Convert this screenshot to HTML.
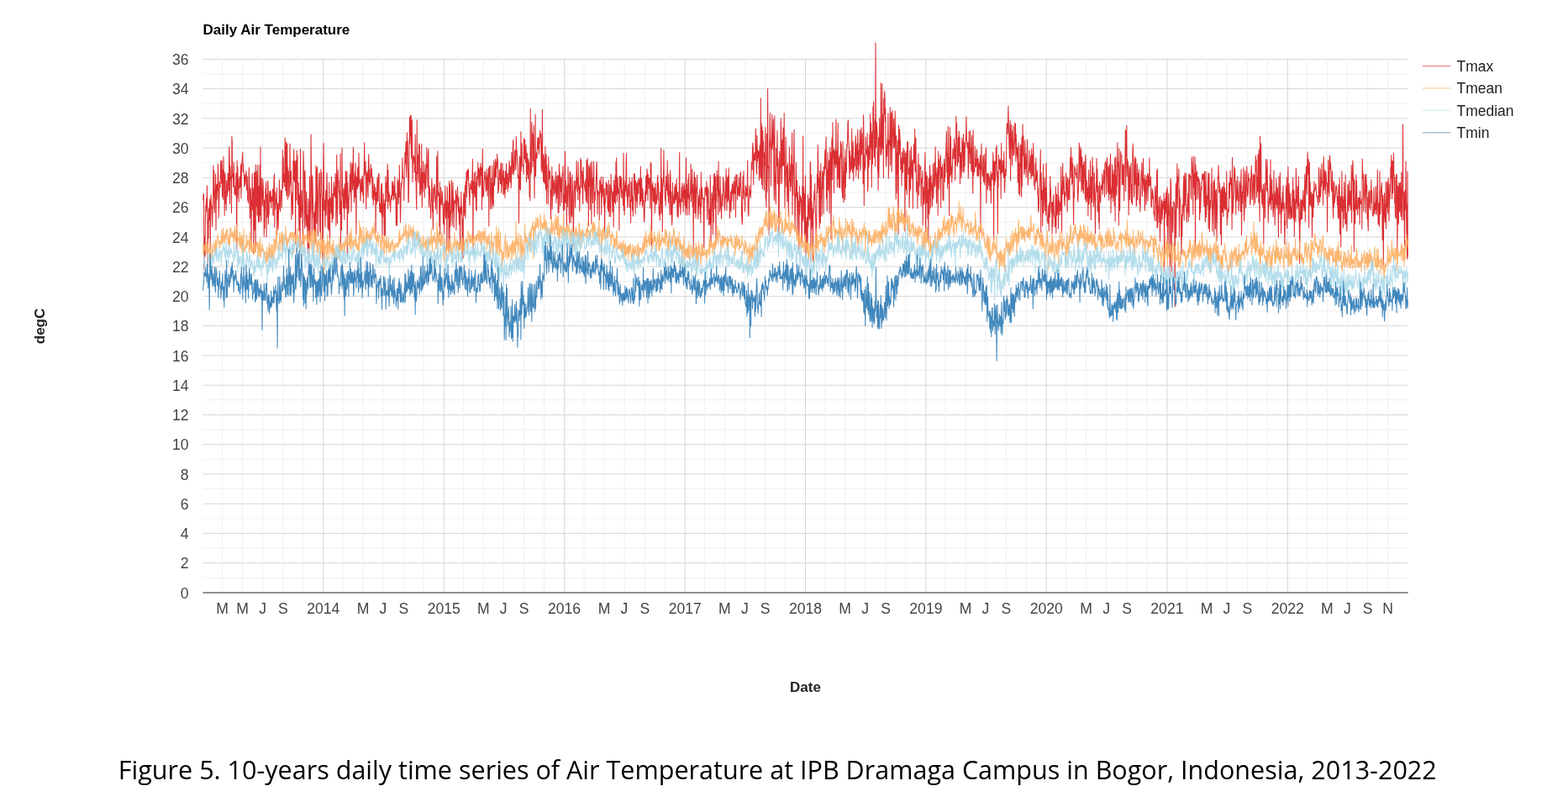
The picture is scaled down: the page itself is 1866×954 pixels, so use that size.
<!DOCTYPE html>
<html><head><meta charset="utf-8"><title>Daily Air Temperature</title>
<style>
html,body{margin:0;padding:0;background:#fff;}
body{width:1866px;height:954px;overflow:hidden;position:relative;}
svg{position:absolute;left:0;top:0;}
.ax{font-family:"Liberation Sans",Arial,sans-serif;font-size:17.6px;fill:#444;}
.tt{font-family:"Liberation Sans",Arial,sans-serif;font-size:17px;font-weight:bold;fill:#000;}
.at{font-family:"Liberation Sans",Arial,sans-serif;font-size:17px;font-weight:bold;fill:#222;}
.lg{font-family:"Liberation Sans",Arial,sans-serif;font-size:17.5px;fill:#222;}
.cap{font-family:"Open Sans","Liberation Sans",Arial,sans-serif;font-size:30.6px;fill:#000;}
</style></head>
<body>
<svg width="1866" height="954" viewBox="0 0 1866 954">
<defs><filter id="bl" x="-2%" y="-2%" width="104%" height="104%"><feGaussianBlur stdDeviation="0.55"/></filter></defs>
<rect x="0" y="0" width="1866" height="954" fill="#fff"/>
<g filter="url(#bl)">
<g>
<line x1="241.5" x2="1675.6" y1="687.37" y2="687.37" stroke="#f0f0f0" stroke-width="1"/>
<line x1="241.5" x2="1675.6" y1="669.74" y2="669.74" stroke="#d6d6d6" stroke-width="1"/>
<line x1="241.5" x2="1675.6" y1="652.11" y2="652.11" stroke="#f0f0f0" stroke-width="1"/>
<line x1="241.5" x2="1675.6" y1="634.48" y2="634.48" stroke="#d6d6d6" stroke-width="1"/>
<line x1="241.5" x2="1675.6" y1="616.85" y2="616.85" stroke="#f0f0f0" stroke-width="1"/>
<line x1="241.5" x2="1675.6" y1="599.22" y2="599.22" stroke="#d6d6d6" stroke-width="1"/>
<line x1="241.5" x2="1675.6" y1="581.59" y2="581.59" stroke="#f0f0f0" stroke-width="1"/>
<line x1="241.5" x2="1675.6" y1="563.96" y2="563.96" stroke="#d6d6d6" stroke-width="1"/>
<line x1="241.5" x2="1675.6" y1="546.33" y2="546.33" stroke="#f0f0f0" stroke-width="1"/>
<line x1="241.5" x2="1675.6" y1="528.70" y2="528.70" stroke="#d6d6d6" stroke-width="1"/>
<line x1="241.5" x2="1675.6" y1="511.07" y2="511.07" stroke="#f0f0f0" stroke-width="1"/>
<line x1="241.5" x2="1675.6" y1="493.44" y2="493.44" stroke="#d6d6d6" stroke-width="1"/>
<line x1="241.5" x2="1675.6" y1="475.81" y2="475.81" stroke="#f0f0f0" stroke-width="1"/>
<line x1="241.5" x2="1675.6" y1="458.18" y2="458.18" stroke="#d6d6d6" stroke-width="1"/>
<line x1="241.5" x2="1675.6" y1="440.55" y2="440.55" stroke="#f0f0f0" stroke-width="1"/>
<line x1="241.5" x2="1675.6" y1="422.92" y2="422.92" stroke="#d6d6d6" stroke-width="1"/>
<line x1="241.5" x2="1675.6" y1="405.29" y2="405.29" stroke="#f0f0f0" stroke-width="1"/>
<line x1="241.5" x2="1675.6" y1="387.66" y2="387.66" stroke="#d6d6d6" stroke-width="1"/>
<line x1="241.5" x2="1675.6" y1="370.03" y2="370.03" stroke="#f0f0f0" stroke-width="1"/>
<line x1="241.5" x2="1675.6" y1="352.40" y2="352.40" stroke="#d6d6d6" stroke-width="1"/>
<line x1="241.5" x2="1675.6" y1="334.77" y2="334.77" stroke="#f0f0f0" stroke-width="1"/>
<line x1="241.5" x2="1675.6" y1="317.14" y2="317.14" stroke="#d6d6d6" stroke-width="1"/>
<line x1="241.5" x2="1675.6" y1="299.51" y2="299.51" stroke="#f0f0f0" stroke-width="1"/>
<line x1="241.5" x2="1675.6" y1="281.88" y2="281.88" stroke="#d6d6d6" stroke-width="1"/>
<line x1="241.5" x2="1675.6" y1="264.25" y2="264.25" stroke="#f0f0f0" stroke-width="1"/>
<line x1="241.5" x2="1675.6" y1="246.62" y2="246.62" stroke="#d6d6d6" stroke-width="1"/>
<line x1="241.5" x2="1675.6" y1="228.99" y2="228.99" stroke="#f0f0f0" stroke-width="1"/>
<line x1="241.5" x2="1675.6" y1="211.36" y2="211.36" stroke="#d6d6d6" stroke-width="1"/>
<line x1="241.5" x2="1675.6" y1="193.73" y2="193.73" stroke="#f0f0f0" stroke-width="1"/>
<line x1="241.5" x2="1675.6" y1="176.10" y2="176.10" stroke="#d6d6d6" stroke-width="1"/>
<line x1="241.5" x2="1675.6" y1="158.47" y2="158.47" stroke="#f0f0f0" stroke-width="1"/>
<line x1="241.5" x2="1675.6" y1="140.84" y2="140.84" stroke="#d6d6d6" stroke-width="1"/>
<line x1="241.5" x2="1675.6" y1="123.21" y2="123.21" stroke="#f0f0f0" stroke-width="1"/>
<line x1="241.5" x2="1675.6" y1="105.58" y2="105.58" stroke="#d6d6d6" stroke-width="1"/>
<line x1="241.5" x2="1675.6" y1="87.95" y2="87.95" stroke="#f0f0f0" stroke-width="1"/>
<line x1="241.5" x2="1675.6" y1="70.32" y2="70.32" stroke="#d6d6d6" stroke-width="1"/>
<line x1="264.67" x2="264.67" y1="70.3" y2="705.0" stroke="#f0f0f0" stroke-width="1"/>
<line x1="288.62" x2="288.62" y1="70.3" y2="705.0" stroke="#f0f0f0" stroke-width="1"/>
<line x1="312.58" x2="312.58" y1="70.3" y2="705.0" stroke="#f0f0f0" stroke-width="1"/>
<line x1="336.92" x2="336.92" y1="70.3" y2="705.0" stroke="#f0f0f0" stroke-width="1"/>
<line x1="360.88" x2="360.88" y1="70.3" y2="705.0" stroke="#f0f0f0" stroke-width="1"/>
<line x1="384.83" x2="384.83" y1="70.3" y2="705.0" stroke="#d6d6d6" stroke-width="1"/>
<line x1="408.00" x2="408.00" y1="70.3" y2="705.0" stroke="#f0f0f0" stroke-width="1"/>
<line x1="431.95" x2="431.95" y1="70.3" y2="705.0" stroke="#f0f0f0" stroke-width="1"/>
<line x1="455.91" x2="455.91" y1="70.3" y2="705.0" stroke="#f0f0f0" stroke-width="1"/>
<line x1="480.25" x2="480.25" y1="70.3" y2="705.0" stroke="#f0f0f0" stroke-width="1"/>
<line x1="504.21" x2="504.21" y1="70.3" y2="705.0" stroke="#f0f0f0" stroke-width="1"/>
<line x1="528.16" x2="528.16" y1="70.3" y2="705.0" stroke="#d6d6d6" stroke-width="1"/>
<line x1="551.33" x2="551.33" y1="70.3" y2="705.0" stroke="#f0f0f0" stroke-width="1"/>
<line x1="575.29" x2="575.29" y1="70.3" y2="705.0" stroke="#f0f0f0" stroke-width="1"/>
<line x1="599.24" x2="599.24" y1="70.3" y2="705.0" stroke="#f0f0f0" stroke-width="1"/>
<line x1="623.59" x2="623.59" y1="70.3" y2="705.0" stroke="#f0f0f0" stroke-width="1"/>
<line x1="647.54" x2="647.54" y1="70.3" y2="705.0" stroke="#f0f0f0" stroke-width="1"/>
<line x1="671.49" x2="671.49" y1="70.3" y2="705.0" stroke="#d6d6d6" stroke-width="1"/>
<line x1="695.06" x2="695.06" y1="70.3" y2="705.0" stroke="#f0f0f0" stroke-width="1"/>
<line x1="719.01" x2="719.01" y1="70.3" y2="705.0" stroke="#f0f0f0" stroke-width="1"/>
<line x1="742.96" x2="742.96" y1="70.3" y2="705.0" stroke="#f0f0f0" stroke-width="1"/>
<line x1="767.31" x2="767.31" y1="70.3" y2="705.0" stroke="#f0f0f0" stroke-width="1"/>
<line x1="791.26" x2="791.26" y1="70.3" y2="705.0" stroke="#f0f0f0" stroke-width="1"/>
<line x1="815.22" x2="815.22" y1="70.3" y2="705.0" stroke="#d6d6d6" stroke-width="1"/>
<line x1="838.39" x2="838.39" y1="70.3" y2="705.0" stroke="#f0f0f0" stroke-width="1"/>
<line x1="862.34" x2="862.34" y1="70.3" y2="705.0" stroke="#f0f0f0" stroke-width="1"/>
<line x1="886.30" x2="886.30" y1="70.3" y2="705.0" stroke="#f0f0f0" stroke-width="1"/>
<line x1="910.64" x2="910.64" y1="70.3" y2="705.0" stroke="#f0f0f0" stroke-width="1"/>
<line x1="934.60" x2="934.60" y1="70.3" y2="705.0" stroke="#f0f0f0" stroke-width="1"/>
<line x1="958.55" x2="958.55" y1="70.3" y2="705.0" stroke="#d6d6d6" stroke-width="1"/>
<line x1="981.72" x2="981.72" y1="70.3" y2="705.0" stroke="#f0f0f0" stroke-width="1"/>
<line x1="1005.67" x2="1005.67" y1="70.3" y2="705.0" stroke="#f0f0f0" stroke-width="1"/>
<line x1="1029.63" x2="1029.63" y1="70.3" y2="705.0" stroke="#f0f0f0" stroke-width="1"/>
<line x1="1053.97" x2="1053.97" y1="70.3" y2="705.0" stroke="#f0f0f0" stroke-width="1"/>
<line x1="1077.93" x2="1077.93" y1="70.3" y2="705.0" stroke="#f0f0f0" stroke-width="1"/>
<line x1="1101.88" x2="1101.88" y1="70.3" y2="705.0" stroke="#d6d6d6" stroke-width="1"/>
<line x1="1125.05" x2="1125.05" y1="70.3" y2="705.0" stroke="#f0f0f0" stroke-width="1"/>
<line x1="1149.00" x2="1149.00" y1="70.3" y2="705.0" stroke="#f0f0f0" stroke-width="1"/>
<line x1="1172.96" x2="1172.96" y1="70.3" y2="705.0" stroke="#f0f0f0" stroke-width="1"/>
<line x1="1197.30" x2="1197.30" y1="70.3" y2="705.0" stroke="#f0f0f0" stroke-width="1"/>
<line x1="1221.26" x2="1221.26" y1="70.3" y2="705.0" stroke="#f0f0f0" stroke-width="1"/>
<line x1="1245.21" x2="1245.21" y1="70.3" y2="705.0" stroke="#d6d6d6" stroke-width="1"/>
<line x1="1268.77" x2="1268.77" y1="70.3" y2="705.0" stroke="#f0f0f0" stroke-width="1"/>
<line x1="1292.73" x2="1292.73" y1="70.3" y2="705.0" stroke="#f0f0f0" stroke-width="1"/>
<line x1="1316.68" x2="1316.68" y1="70.3" y2="705.0" stroke="#f0f0f0" stroke-width="1"/>
<line x1="1341.03" x2="1341.03" y1="70.3" y2="705.0" stroke="#f0f0f0" stroke-width="1"/>
<line x1="1364.98" x2="1364.98" y1="70.3" y2="705.0" stroke="#f0f0f0" stroke-width="1"/>
<line x1="1388.94" x2="1388.94" y1="70.3" y2="705.0" stroke="#d6d6d6" stroke-width="1"/>
<line x1="1412.11" x2="1412.11" y1="70.3" y2="705.0" stroke="#f0f0f0" stroke-width="1"/>
<line x1="1436.06" x2="1436.06" y1="70.3" y2="705.0" stroke="#f0f0f0" stroke-width="1"/>
<line x1="1460.01" x2="1460.01" y1="70.3" y2="705.0" stroke="#f0f0f0" stroke-width="1"/>
<line x1="1484.36" x2="1484.36" y1="70.3" y2="705.0" stroke="#f0f0f0" stroke-width="1"/>
<line x1="1508.31" x2="1508.31" y1="70.3" y2="705.0" stroke="#f0f0f0" stroke-width="1"/>
<line x1="1532.27" x2="1532.27" y1="70.3" y2="705.0" stroke="#d6d6d6" stroke-width="1"/>
<line x1="1555.44" x2="1555.44" y1="70.3" y2="705.0" stroke="#f0f0f0" stroke-width="1"/>
<line x1="1579.39" x2="1579.39" y1="70.3" y2="705.0" stroke="#f0f0f0" stroke-width="1"/>
<line x1="1603.35" x2="1603.35" y1="70.3" y2="705.0" stroke="#f0f0f0" stroke-width="1"/>
<line x1="1627.69" x2="1627.69" y1="70.3" y2="705.0" stroke="#f0f0f0" stroke-width="1"/>
<line x1="1651.65" x2="1651.65" y1="70.3" y2="705.0" stroke="#f0f0f0" stroke-width="1"/>
</g>
<g fill="none" stroke-width="1.05" stroke-opacity="0.9" stroke-linejoin="round">
<path stroke="#d7191c" d="M241.7 237.8 L242.1 230.8 L242.5 230.5 L242.9 320.0 L243.3 282.1 L243.7 281.9 L244.1 305.0 L244.4 260.9 L244.8 246.3 L245.2 243.9 L245.6 236.1 L246.0 251.7 L246.4 220.7 L246.8 245.9 L247.2 316.8 L247.6 260.9 L248.0 283.6 L248.4 248.0 L248.8 261.9 L249.2 253.4 L249.6 237.1 L249.9 259.6 L250.3 297.0 L250.7 240.8 L251.1 231.8 L251.5 245.7 L251.9 247.9 L252.3 259.2 L252.7 269.8 L253.1 243.6 L253.5 248.0 L253.9 196.8 L254.3 233.3 L254.7 202.9 L255.0 240.4 L255.4 253.0 L255.8 225.7 L256.2 227.1 L256.6 207.0 L257.0 273.8 L257.4 237.6 L257.8 219.5 L258.2 237.1 L258.6 218.8 L259.0 226.8 L259.4 195.0 L259.8 208.1 L260.2 258.9 L260.5 248.2 L260.9 232.8 L261.3 216.2 L261.7 217.2 L262.1 222.9 L262.5 198.0 L262.9 190.7 L263.3 210.7 L263.7 218.1 L264.1 191.2 L264.5 234.2 L264.9 203.3 L265.3 202.1 L265.7 236.9 L266.0 186.3 L266.4 217.5 L266.8 204.2 L267.2 256.4 L267.6 223.0 L268.0 206.6 L268.4 242.3 L268.8 227.5 L269.2 250.2 L269.6 214.8 L270.0 228.3 L270.4 226.0 L270.8 233.5 L271.1 206.0 L271.5 206.4 L271.9 218.4 L272.3 226.9 L272.7 174.4 L273.1 181.5 L273.5 242.5 L273.9 197.3 L274.3 207.5 L274.7 213.9 L275.1 210.3 L275.5 253.4 L275.9 162.3 L276.3 168.3 L276.6 209.0 L277.0 211.0 L277.4 206.8 L277.8 222.2 L278.2 193.1 L278.6 206.4 L279.0 231.1 L279.4 221.5 L279.8 229.0 L280.2 232.5 L280.6 225.4 L281.0 205.8 L281.4 236.3 L281.8 296.9 L282.1 191.0 L282.5 235.2 L282.9 198.7 L283.3 223.3 L283.7 212.5 L284.1 240.2 L284.5 221.4 L284.9 223.6 L285.3 210.1 L285.7 222.7 L286.1 216.6 L286.5 195.7 L286.9 235.7 L287.2 225.0 L287.6 193.8 L288.0 193.9 L288.4 187.4 L288.8 180.9 L289.2 204.6 L289.6 194.9 L290.0 204.6 L290.4 207.3 L290.8 221.9 L291.2 208.6 L291.6 220.1 L292.0 217.1 L292.4 206.2 L292.7 212.3 L293.1 203.2 L293.5 226.0 L293.9 224.0 L294.3 210.1 L294.7 238.2 L295.1 237.1 L295.5 241.2 L295.9 223.7 L296.3 199.4 L296.7 217.2 L297.1 245.7 L297.5 259.5 L297.9 223.8 L298.2 225.6 L298.6 238.8 L299.0 295.4 L299.4 246.9 L299.8 235.6 L300.2 206.4 L300.6 249.8 L301.0 223.3 L301.4 227.5 L301.8 301.4 L302.2 254.7 L302.6 205.2 L303.0 273.7 L303.3 204.8 L303.7 229.9 L304.1 299.4 L304.5 196.0 L304.9 245.3 L305.3 203.7 L305.7 233.5 L306.1 256.1 L306.5 209.8 L306.9 196.0 L307.3 257.5 L307.7 264.5 L308.1 221.2 L308.5 263.8 L308.8 246.0 L309.2 196.6 L309.6 256.0 L310.0 174.9 L310.4 260.5 L310.8 263.8 L311.2 211.9 L311.6 228.7 L312.0 228.5 L312.4 244.4 L312.8 212.7 L313.2 220.0 L313.6 236.1 L314.0 249.8 L314.3 281.2 L314.7 238.0 L315.1 271.7 L315.5 245.3 L315.9 224.0 L316.3 225.3 L316.7 216.5 L317.1 281.9 L317.5 231.2 L317.9 235.1 L318.3 258.0 L318.7 215.1 L319.1 219.6 L319.4 266.4 L319.8 244.8 L320.2 255.3 L320.6 231.4 L321.0 227.0 L321.4 240.3 L321.8 232.2 L322.2 227.2 L322.6 247.7 L323.0 238.0 L323.4 233.8 L323.8 238.3 L324.2 239.2 L324.6 224.9 L324.9 255.2 L325.3 256.4 L325.7 224.0 L326.1 212.6 L326.5 207.1 L326.9 270.4 L327.3 228.9 L327.7 249.0 L328.1 242.0 L328.5 241.0 L328.9 231.4 L329.3 223.4 L329.7 279.6 L330.1 242.0 L330.4 262.0 L330.8 242.1 L331.2 272.7 L331.6 249.6 L332.0 248.3 L332.4 213.7 L332.8 243.1 L333.2 247.3 L333.6 251.5 L334.0 225.7 L334.4 227.3 L334.8 227.8 L335.2 246.9 L335.5 229.9 L335.9 227.0 L336.3 178.5 L336.7 223.7 L337.1 187.1 L337.5 216.4 L337.9 212.9 L338.3 206.8 L338.7 221.4 L339.1 163.8 L339.5 175.7 L339.9 226.9 L340.3 194.0 L340.7 168.7 L341.0 232.7 L341.4 219.1 L341.8 171.1 L342.2 237.1 L342.6 198.9 L343.0 216.6 L343.4 203.7 L343.8 234.5 L344.2 219.4 L344.6 231.4 L345.0 171.1 L345.4 203.9 L345.8 216.6 L346.2 220.9 L346.5 203.5 L346.9 261.1 L347.3 242.8 L347.7 234.7 L348.1 228.6 L348.5 255.0 L348.9 191.8 L349.3 213.8 L349.7 177.6 L350.1 212.1 L350.5 216.3 L350.9 191.4 L351.3 200.5 L351.6 290.1 L352.0 198.4 L352.4 190.8 L352.8 237.9 L353.2 178.7 L353.6 217.5 L354.0 185.0 L354.4 242.9 L354.8 231.0 L355.2 217.5 L355.6 256.7 L356.0 274.4 L356.4 232.5 L356.8 231.3 L357.1 297.9 L357.5 177.3 L357.9 227.4 L358.3 258.8 L358.7 253.6 L359.1 226.6 L359.5 250.6 L359.9 245.1 L360.3 290.2 L360.7 232.6 L361.1 180.0 L361.5 199.5 L361.9 205.4 L362.3 254.4 L362.6 271.4 L363.0 203.0 L363.4 238.1 L363.8 258.8 L364.2 268.7 L364.6 228.0 L365.0 237.6 L365.4 270.2 L365.8 256.0 L366.2 302.4 L366.6 293.6 L367.0 236.6 L367.4 272.8 L367.7 302.6 L368.1 271.5 L368.5 210.1 L368.9 285.1 L369.3 256.0 L369.7 249.7 L370.1 159.9 L370.5 204.8 L370.9 229.1 L371.3 278.7 L371.7 209.1 L372.1 219.6 L372.5 240.4 L372.9 258.9 L373.2 254.5 L373.6 299.3 L374.0 252.1 L374.4 281.6 L374.8 253.4 L375.2 240.0 L375.6 288.0 L376.0 196.9 L376.4 232.6 L376.8 265.4 L377.2 200.5 L377.6 198.7 L378.0 242.6 L378.4 280.5 L378.7 259.5 L379.1 228.8 L379.5 220.7 L379.9 205.6 L380.3 206.8 L380.7 275.2 L381.1 230.6 L381.5 284.8 L381.9 201.3 L382.3 214.2 L382.7 205.0 L383.1 233.1 L383.5 235.0 L383.8 300.6 L384.2 314.1 L384.6 240.0 L385.0 170.2 L385.4 197.0 L385.8 250.3 L386.2 237.8 L386.6 242.2 L387.0 270.2 L387.4 239.9 L387.8 226.5 L388.2 255.9 L388.6 232.5 L389.0 205.4 L389.3 219.5 L389.7 243.1 L390.1 271.3 L390.5 237.8 L390.9 274.3 L391.3 270.5 L391.7 217.1 L392.1 265.9 L392.5 291.2 L392.9 236.2 L393.3 242.1 L393.7 235.1 L394.1 253.8 L394.5 210.4 L394.8 248.3 L395.2 264.4 L395.6 244.6 L396.0 230.5 L396.4 259.9 L396.8 236.9 L397.2 216.7 L397.6 232.8 L398.0 223.0 L398.4 223.6 L398.8 235.0 L399.2 206.5 L399.6 218.8 L399.9 268.6 L400.3 243.0 L400.7 184.1 L401.1 218.3 L401.5 265.5 L401.9 228.5 L402.3 202.5 L402.7 217.0 L403.1 215.1 L403.5 229.1 L403.9 227.9 L404.3 254.5 L404.7 233.1 L405.1 183.1 L405.4 293.2 L405.8 257.4 L406.2 239.1 L406.6 273.6 L407.0 175.9 L407.4 209.8 L407.8 232.5 L408.2 233.8 L408.6 247.4 L409.0 224.4 L409.4 229.6 L409.8 261.3 L410.2 219.0 L410.6 233.8 L410.9 247.8 L411.3 203.2 L411.7 206.7 L412.1 239.0 L412.5 247.4 L412.9 203.7 L413.3 304.6 L413.7 216.9 L414.1 231.5 L414.5 246.6 L414.9 254.0 L415.3 236.3 L415.7 232.6 L416.1 223.2 L416.4 207.7 L416.8 227.8 L417.2 193.1 L417.6 216.2 L418.0 251.8 L418.4 213.6 L418.8 195.5 L419.2 194.4 L419.6 225.7 L420.0 215.6 L420.4 175.0 L420.8 208.2 L421.2 227.3 L421.5 240.9 L421.9 220.0 L422.3 205.6 L422.7 234.6 L423.1 194.0 L423.5 231.7 L423.9 278.5 L424.3 210.6 L424.7 220.9 L425.1 224.8 L425.5 200.0 L425.9 222.3 L426.3 198.0 L426.7 221.5 L427.0 181.9 L427.4 212.3 L427.8 218.0 L428.2 213.2 L428.6 222.4 L429.0 238.9 L429.4 228.8 L429.8 212.7 L430.2 221.4 L430.6 228.1 L431.0 211.1 L431.4 209.4 L431.8 232.2 L432.2 223.7 L432.5 241.2 L432.9 212.1 L433.3 198.5 L433.7 169.6 L434.1 208.2 L434.5 196.5 L434.9 192.3 L435.3 207.2 L435.7 248.4 L436.1 224.1 L436.5 206.7 L436.9 203.7 L437.3 207.7 L437.6 228.1 L438.0 234.9 L438.4 193.2 L438.8 183.5 L439.2 215.7 L439.6 201.8 L440.0 220.0 L440.4 211.6 L440.8 217.4 L441.2 195.5 L441.6 203.6 L442.0 210.2 L442.4 200.5 L442.8 216.1 L443.1 236.4 L443.5 210.5 L443.9 215.3 L444.3 244.1 L444.7 227.8 L445.1 232.7 L445.5 218.9 L445.9 238.1 L446.3 230.4 L446.7 222.7 L447.1 277.1 L447.5 232.6 L447.9 228.5 L448.3 242.8 L448.6 225.3 L449.0 211.8 L449.4 238.9 L449.8 239.3 L450.2 209.2 L450.6 207.4 L451.0 206.2 L451.4 239.2 L451.8 251.4 L452.2 252.4 L452.6 242.4 L453.0 252.5 L453.4 232.1 L453.7 219.7 L454.1 255.5 L454.5 218.0 L454.9 284.9 L455.3 243.3 L455.7 257.7 L456.1 230.4 L456.5 244.6 L456.9 242.3 L457.3 280.6 L457.7 246.2 L458.1 237.6 L458.5 280.2 L458.9 209.8 L459.2 234.2 L459.6 217.6 L460.0 239.8 L460.4 219.4 L460.8 208.5 L461.2 195.0 L461.6 248.2 L462.0 202.3 L462.4 239.6 L462.8 228.1 L463.2 235.1 L463.6 231.8 L464.0 244.5 L464.4 237.7 L464.7 252.3 L465.1 238.2 L465.5 234.4 L465.9 232.1 L466.3 237.3 L466.7 215.7 L467.1 232.4 L467.5 228.6 L467.9 216.2 L468.3 238.3 L468.7 235.4 L469.1 221.1 L469.5 232.0 L469.8 210.1 L470.2 235.7 L470.6 232.2 L471.0 230.4 L471.4 268.1 L471.8 235.2 L472.2 243.7 L472.6 268.1 L473.0 212.7 L473.4 235.0 L473.8 216.2 L474.2 242.6 L474.6 214.9 L475.0 234.4 L475.3 196.4 L475.7 223.7 L476.1 229.8 L476.5 264.6 L476.9 249.6 L477.3 217.5 L477.7 224.7 L478.1 218.1 L478.5 214.5 L478.9 187.7 L479.3 211.3 L479.7 211.7 L480.1 211.0 L480.5 210.9 L480.8 238.5 L481.2 203.0 L481.6 200.2 L482.0 181.6 L482.4 194.9 L482.8 175.1 L483.2 168.3 L483.6 210.8 L484.0 200.1 L484.4 157.7 L484.8 184.3 L485.2 167.8 L485.6 204.0 L485.9 240.7 L486.3 240.0 L486.7 205.5 L487.1 172.6 L487.5 139.5 L487.9 171.1 L488.3 137.2 L488.7 161.5 L489.1 137.3 L489.5 183.5 L489.9 188.6 L490.3 142.4 L490.7 188.0 L491.1 216.6 L491.4 187.3 L491.8 194.0 L492.2 184.8 L492.6 186.4 L493.0 188.8 L493.4 204.9 L493.8 203.9 L494.2 159.9 L494.6 214.9 L495.0 204.0 L495.4 236.1 L495.8 249.2 L496.2 142.6 L496.6 206.6 L496.9 183.0 L497.3 186.3 L497.7 213.8 L498.1 217.3 L498.5 171.1 L498.9 190.8 L499.3 172.8 L499.7 232.7 L500.1 200.0 L500.5 230.6 L500.9 216.1 L501.3 224.7 L501.7 170.9 L502.0 229.6 L502.4 246.6 L502.8 205.3 L503.2 228.0 L503.6 192.0 L504.0 217.4 L504.4 205.0 L504.8 214.8 L505.2 234.8 L505.6 203.3 L506.0 195.2 L506.4 220.6 L506.8 224.8 L507.2 210.8 L507.5 200.9 L507.9 175.5 L508.3 199.7 L508.7 195.5 L509.1 222.3 L509.5 183.6 L509.9 177.1 L510.3 245.9 L510.7 229.4 L511.1 221.3 L511.5 225.8 L511.9 241.6 L512.3 250.3 L512.7 259.7 L513.0 244.1 L513.4 236.8 L513.8 212.2 L514.2 220.9 L514.6 251.6 L515.0 253.0 L515.4 273.3 L515.8 223.5 L516.2 240.0 L516.6 227.7 L517.0 219.0 L517.4 221.6 L517.8 232.6 L518.1 239.1 L518.5 248.7 L518.9 236.4 L519.3 227.7 L519.7 185.9 L520.1 254.5 L520.5 219.3 L520.9 179.8 L521.3 229.9 L521.7 233.1 L522.1 229.5 L522.5 234.3 L522.9 269.4 L523.3 216.8 L523.6 279.0 L524.0 242.2 L524.4 243.1 L524.8 222.9 L525.2 238.5 L525.6 241.2 L526.0 243.9 L526.4 227.7 L526.8 242.6 L527.2 250.2 L527.6 266.8 L528.0 261.0 L528.4 241.9 L528.8 277.8 L529.1 245.8 L529.5 245.3 L529.9 221.1 L530.3 255.4 L530.7 259.5 L531.1 239.1 L531.5 251.4 L531.9 295.8 L532.3 222.1 L532.7 239.3 L533.1 247.9 L533.5 259.2 L533.9 241.1 L534.2 295.6 L534.6 215.4 L535.0 283.7 L535.4 219.0 L535.8 269.6 L536.2 261.8 L536.6 251.7 L537.0 252.5 L537.4 214.3 L537.8 239.0 L538.2 268.3 L538.6 232.4 L539.0 217.1 L539.4 250.7 L539.7 234.4 L540.1 270.8 L540.5 249.0 L540.9 239.0 L541.3 242.0 L541.7 237.7 L542.1 238.9 L542.5 226.2 L542.9 273.8 L543.3 245.7 L543.7 231.8 L544.1 238.8 L544.5 222.3 L544.9 242.3 L545.2 245.9 L545.6 252.9 L546.0 234.5 L546.4 267.0 L546.8 253.8 L547.2 246.3 L547.6 297.0 L548.0 247.7 L548.4 253.4 L548.8 228.4 L549.2 254.7 L549.6 245.5 L550.0 270.1 L550.3 307.3 L550.7 260.8 L551.1 306.9 L551.5 238.3 L551.9 229.6 L552.3 246.7 L552.7 256.2 L553.1 231.9 L553.5 220.6 L553.9 259.5 L554.3 215.9 L554.7 225.8 L555.1 204.0 L555.5 234.6 L555.8 203.8 L556.2 208.5 L556.6 201.7 L557.0 214.0 L557.4 201.1 L557.8 221.5 L558.2 225.6 L558.6 236.7 L559.0 244.2 L559.4 218.2 L559.8 223.6 L560.2 221.6 L560.6 225.4 L561.0 215.1 L561.3 219.8 L561.7 229.6 L562.1 205.9 L562.5 189.2 L562.9 301.4 L563.3 230.5 L563.7 216.1 L564.1 230.8 L564.5 205.6 L564.9 233.7 L565.3 234.8 L565.7 230.6 L566.1 203.9 L566.5 249.6 L566.8 217.9 L567.2 250.7 L567.6 210.3 L568.0 212.0 L568.4 212.4 L568.8 193.2 L569.2 221.3 L569.6 200.5 L570.0 206.2 L570.4 201.9 L570.8 222.7 L571.2 199.1 L571.6 219.4 L571.9 194.3 L572.3 204.7 L572.7 208.7 L573.1 199.4 L573.5 249.6 L573.9 207.8 L574.3 177.0 L574.7 234.3 L575.1 231.9 L575.5 233.0 L575.9 218.4 L576.3 214.1 L576.7 204.0 L577.1 204.7 L577.4 213.1 L577.8 213.6 L578.2 227.5 L578.6 211.8 L579.0 201.0 L579.4 225.8 L579.8 210.9 L580.2 233.3 L580.6 208.4 L581.0 206.5 L581.4 199.7 L581.8 268.9 L582.2 211.5 L582.6 197.5 L582.9 205.8 L583.3 197.2 L583.7 248.6 L584.1 229.9 L584.5 224.9 L584.9 211.4 L585.3 248.3 L585.7 196.9 L586.1 212.8 L586.5 243.1 L586.9 217.8 L587.3 245.4 L587.7 191.1 L588.0 196.6 L588.4 220.6 L588.8 217.5 L589.2 202.9 L589.6 189.3 L590.0 210.1 L590.4 211.0 L590.8 192.4 L591.2 200.3 L591.6 183.3 L592.0 195.0 L592.4 189.5 L592.8 229.7 L593.2 218.2 L593.5 227.1 L593.9 215.4 L594.3 202.7 L594.7 213.2 L595.1 201.5 L595.5 218.5 L595.9 193.8 L596.3 194.8 L596.7 229.3 L597.1 222.5 L597.5 217.2 L597.9 194.3 L598.3 214.5 L598.7 210.6 L599.0 231.4 L599.4 202.9 L599.8 230.0 L600.2 216.2 L600.6 211.8 L601.0 235.2 L601.4 203.5 L601.8 214.5 L602.2 224.9 L602.6 194.8 L603.0 218.4 L603.4 206.3 L603.8 217.4 L604.1 227.8 L604.5 215.6 L604.9 206.3 L605.3 223.1 L605.7 205.5 L606.1 191.4 L606.5 197.7 L606.9 215.3 L607.3 216.9 L607.7 197.7 L608.1 223.7 L608.5 216.2 L608.9 181.0 L609.3 197.4 L609.6 193.8 L610.0 207.0 L610.4 170.3 L610.8 166.4 L611.2 207.8 L611.6 194.6 L612.0 203.8 L612.4 189.9 L612.8 178.8 L613.2 179.0 L613.6 202.0 L614.0 192.4 L614.4 162.2 L614.8 183.7 L615.1 178.3 L615.5 188.5 L615.9 196.7 L616.3 211.4 L616.7 208.2 L617.1 213.3 L617.5 265.3 L617.9 207.7 L618.3 185.8 L618.7 224.6 L619.1 187.8 L619.5 225.8 L619.9 156.6 L620.2 203.5 L620.6 190.7 L621.0 170.5 L621.4 195.5 L621.8 196.1 L622.2 198.1 L622.6 196.0 L623.0 207.2 L623.4 164.7 L623.8 174.8 L624.2 188.7 L624.6 165.5 L625.0 187.5 L625.4 193.1 L625.7 182.8 L626.1 172.6 L626.5 216.5 L626.9 202.7 L627.3 182.1 L627.7 207.6 L628.1 188.6 L628.5 213.0 L628.9 189.7 L629.3 194.8 L629.7 193.9 L630.1 234.0 L630.5 231.2 L630.9 238.6 L631.2 129.4 L631.6 207.9 L632.0 189.7 L632.4 205.1 L632.8 145.6 L633.2 161.8 L633.6 157.6 L634.0 198.4 L634.4 160.3 L634.8 190.9 L635.2 148.9 L635.6 185.5 L636.0 235.5 L636.3 190.6 L636.7 209.2 L637.1 136.3 L637.5 209.8 L637.9 186.1 L638.3 181.8 L638.7 188.2 L639.1 187.7 L639.5 172.1 L639.9 163.5 L640.3 177.1 L640.7 172.9 L641.1 163.5 L641.5 183.3 L641.8 173.0 L642.2 169.3 L642.6 155.4 L643.0 163.2 L643.4 163.3 L643.8 159.6 L644.2 203.8 L644.6 165.1 L645.0 200.1 L645.4 130.3 L645.8 205.4 L646.2 183.2 L646.6 216.0 L647.0 184.1 L647.3 216.6 L647.7 209.4 L648.1 188.7 L648.5 218.7 L648.9 174.2 L649.3 219.2 L649.7 226.2 L650.1 183.4 L650.5 242.1 L650.9 196.3 L651.3 219.4 L651.7 222.7 L652.1 222.8 L652.4 243.0 L652.8 186.5 L653.2 213.4 L653.6 210.6 L654.0 203.0 L654.4 203.3 L654.8 213.8 L655.2 250.8 L655.6 260.5 L656.0 226.4 L656.4 228.9 L656.8 198.5 L657.2 248.5 L657.6 226.0 L657.9 209.2 L658.3 222.8 L658.7 218.2 L659.1 232.9 L659.5 213.7 L659.9 225.8 L660.3 230.2 L660.7 226.4 L661.1 214.3 L661.5 204.3 L661.9 241.2 L662.3 209.6 L662.7 235.8 L663.1 224.1 L663.4 222.1 L663.8 208.3 L664.2 253.1 L664.6 209.6 L665.0 253.1 L665.4 195.0 L665.8 204.4 L666.2 207.5 L666.6 244.8 L667.0 210.1 L667.4 227.9 L667.8 227.1 L668.2 212.4 L668.5 240.7 L668.9 213.2 L669.3 205.4 L669.7 206.9 L670.1 197.5 L670.5 251.3 L670.9 231.0 L671.3 231.5 L671.7 249.5 L672.1 208.3 L672.5 180.1 L672.9 241.5 L673.3 214.6 L673.7 228.7 L674.0 231.3 L674.4 269.5 L674.8 221.0 L675.2 246.3 L675.6 235.7 L676.0 198.4 L676.4 222.5 L676.8 219.6 L677.2 251.7 L677.6 265.0 L678.0 205.0 L678.4 218.6 L678.8 203.9 L679.2 265.1 L679.5 211.8 L679.9 255.2 L680.3 239.7 L680.7 257.8 L681.1 208.0 L681.5 222.9 L681.9 232.6 L682.3 293.6 L682.7 260.0 L683.1 231.7 L683.5 215.1 L683.9 227.1 L684.3 222.2 L684.6 246.9 L685.0 215.0 L685.4 224.6 L685.8 214.9 L686.2 191.3 L686.6 214.5 L687.0 227.8 L687.4 211.4 L687.8 237.8 L688.2 192.9 L688.6 223.7 L689.0 225.4 L689.4 221.4 L689.8 251.3 L690.1 228.2 L690.5 229.9 L690.9 188.2 L691.3 201.0 L691.7 190.6 L692.1 222.9 L692.5 219.3 L692.9 203.7 L693.3 236.0 L693.7 242.6 L694.1 198.7 L694.5 217.0 L694.9 216.4 L695.3 219.4 L695.6 222.3 L696.0 224.3 L696.4 227.4 L696.8 213.5 L697.2 235.9 L697.6 239.5 L698.0 190.4 L698.4 215.4 L698.8 241.4 L699.2 188.2 L699.6 219.7 L700.0 216.9 L700.4 268.4 L700.7 196.4 L701.1 221.9 L701.5 207.7 L701.9 198.7 L702.3 249.3 L702.7 193.8 L703.1 213.6 L703.5 228.0 L703.9 266.3 L704.3 192.1 L704.7 216.5 L705.1 211.9 L705.5 241.5 L705.9 214.1 L706.2 210.6 L706.6 192.1 L707.0 230.3 L707.4 257.5 L707.8 229.2 L708.2 238.6 L708.6 227.3 L709.0 222.7 L709.4 213.4 L709.8 197.3 L710.2 192.3 L710.6 223.3 L711.0 254.5 L711.4 226.0 L711.7 231.9 L712.1 227.4 L712.5 229.7 L712.9 229.2 L713.3 262.0 L713.7 213.9 L714.1 218.2 L714.5 221.6 L714.9 229.1 L715.3 210.5 L715.7 255.3 L716.1 230.8 L716.5 219.8 L716.8 234.3 L717.2 225.7 L717.6 210.6 L718.0 224.6 L718.4 235.6 L718.8 245.1 L719.2 224.4 L719.6 277.2 L720.0 237.6 L720.4 242.2 L720.8 232.4 L721.2 217.6 L721.6 216.6 L722.0 231.8 L722.3 229.7 L722.7 218.9 L723.1 248.1 L723.5 235.4 L723.9 251.8 L724.3 214.3 L724.7 237.3 L725.1 257.6 L725.5 244.4 L725.9 219.7 L726.3 227.6 L726.7 257.8 L727.1 207.0 L727.5 227.8 L727.8 223.8 L728.2 229.9 L728.6 238.0 L729.0 252.2 L729.4 227.8 L729.8 230.2 L730.2 270.3 L730.6 214.3 L731.0 223.2 L731.4 240.8 L731.8 229.7 L732.2 208.8 L732.6 243.1 L733.0 192.6 L733.3 231.8 L733.7 187.7 L734.1 217.0 L734.5 239.7 L734.9 211.1 L735.3 221.2 L735.7 230.2 L736.1 225.6 L736.5 225.0 L736.9 273.8 L737.3 209.5 L737.7 223.7 L738.1 215.6 L738.4 209.5 L738.8 221.9 L739.2 235.2 L739.6 211.8 L740.0 228.8 L740.4 225.8 L740.8 235.5 L741.2 231.8 L741.6 244.8 L742.0 182.1 L742.4 250.5 L742.8 213.7 L743.2 255.7 L743.6 220.6 L743.9 231.1 L744.3 217.1 L744.7 227.2 L745.1 197.0 L745.5 182.6 L745.9 234.1 L746.3 221.0 L746.7 246.6 L747.1 245.7 L747.5 230.8 L747.9 219.1 L748.3 223.2 L748.7 233.5 L749.1 211.5 L749.4 246.9 L749.8 242.6 L750.2 238.1 L750.6 265.1 L751.0 216.3 L751.4 237.1 L751.8 239.7 L752.2 211.5 L752.6 250.1 L753.0 234.8 L753.4 257.1 L753.8 233.4 L754.2 232.0 L754.5 206.6 L754.9 225.2 L755.3 207.3 L755.7 230.3 L756.1 254.3 L756.5 215.1 L756.9 227.2 L757.3 239.1 L757.7 217.8 L758.1 246.5 L758.5 235.5 L758.9 219.3 L759.3 213.5 L759.7 230.2 L760.0 218.5 L760.4 219.7 L760.8 211.8 L761.2 217.3 L761.6 244.1 L762.0 226.4 L762.4 198.1 L762.8 239.5 L763.2 230.4 L763.6 212.3 L764.0 233.4 L764.4 246.1 L764.8 224.1 L765.2 229.0 L765.5 242.6 L765.9 238.6 L766.3 257.4 L766.7 264.1 L767.1 253.7 L767.5 232.3 L767.9 227.1 L768.3 239.4 L768.7 209.2 L769.1 218.6 L769.5 230.9 L769.9 201.0 L770.3 205.9 L770.6 219.4 L771.0 238.4 L771.4 207.4 L771.8 218.0 L772.2 211.7 L772.6 223.9 L773.0 213.6 L773.4 212.5 L773.8 247.8 L774.2 192.9 L774.6 219.5 L775.0 194.4 L775.4 298.8 L775.8 245.5 L776.1 219.8 L776.5 225.8 L776.9 216.7 L777.3 239.1 L777.7 223.6 L778.1 240.6 L778.5 237.1 L778.9 223.3 L779.3 253.5 L779.7 230.1 L780.1 218.1 L780.5 243.0 L780.9 231.7 L781.3 242.8 L781.6 238.9 L782.0 227.8 L782.4 212.6 L782.8 208.4 L783.2 237.9 L783.6 217.5 L784.0 241.8 L784.4 255.7 L784.8 245.7 L785.2 262.1 L785.6 228.9 L786.0 254.0 L786.4 219.0 L786.7 176.4 L787.1 235.2 L787.5 253.4 L787.9 212.1 L788.3 275.8 L788.7 221.8 L789.1 220.1 L789.5 213.8 L789.9 178.7 L790.3 215.7 L790.7 218.9 L791.1 225.0 L791.5 238.7 L791.9 238.4 L792.2 244.6 L792.6 209.3 L793.0 226.4 L793.4 215.1 L793.8 226.2 L794.2 191.1 L794.6 231.9 L795.0 220.4 L795.4 241.3 L795.8 206.9 L796.2 232.0 L796.6 226.7 L797.0 255.5 L797.4 221.6 L797.7 202.4 L798.1 213.9 L798.5 255.2 L798.9 228.2 L799.3 255.2 L799.7 267.8 L800.1 258.2 L800.5 217.3 L800.9 243.6 L801.3 236.9 L801.7 237.8 L802.1 231.5 L802.5 241.7 L802.8 222.5 L803.2 242.0 L803.6 219.1 L804.0 228.7 L804.4 238.1 L804.8 226.5 L805.2 212.8 L805.6 232.3 L806.0 257.5 L806.4 234.3 L806.8 228.4 L807.2 259.1 L807.6 242.4 L808.0 240.9 L808.3 218.3 L808.7 181.3 L809.1 246.0 L809.5 236.4 L809.9 255.1 L810.3 240.3 L810.7 238.2 L811.1 223.0 L811.5 239.9 L811.9 217.8 L812.3 228.6 L812.7 233.1 L813.1 252.0 L813.5 221.4 L813.8 235.0 L814.2 218.2 L814.6 229.3 L815.0 244.5 L815.4 225.6 L815.8 255.5 L816.2 214.8 L816.6 187.8 L817.0 247.4 L817.4 219.5 L817.8 256.0 L818.2 233.2 L818.6 226.1 L818.9 213.2 L819.3 236.3 L819.7 206.9 L820.1 255.6 L820.5 242.2 L820.9 232.9 L821.3 230.4 L821.7 228.4 L822.1 194.9 L822.5 239.5 L822.9 214.5 L823.3 229.2 L823.7 201.3 L824.1 246.0 L824.4 219.3 L824.8 230.9 L825.2 296.9 L825.6 227.8 L826.0 213.3 L826.4 204.6 L826.8 253.2 L827.2 228.1 L827.6 211.1 L828.0 259.3 L828.4 249.8 L828.8 223.3 L829.2 220.8 L829.6 208.0 L829.9 228.6 L830.3 231.9 L830.7 260.5 L831.1 251.9 L831.5 238.7 L831.9 232.5 L832.3 244.5 L832.7 224.9 L833.1 254.5 L833.5 248.1 L833.9 265.0 L834.3 204.8 L834.7 245.8 L835.0 227.5 L835.4 222.8 L835.8 231.2 L836.2 236.9 L836.6 236.3 L837.0 235.3 L837.4 269.3 L837.8 294.6 L838.2 235.7 L838.6 238.5 L839.0 223.3 L839.4 223.0 L839.8 223.0 L840.2 232.3 L840.5 231.3 L840.9 215.7 L841.3 242.3 L841.7 261.0 L842.1 222.1 L842.5 241.3 L842.9 224.8 L843.3 252.4 L843.7 267.7 L844.1 248.7 L844.5 252.0 L844.9 267.0 L845.3 208.4 L845.7 230.2 L846.0 292.0 L846.4 264.7 L846.8 249.9 L847.2 229.5 L847.6 235.3 L848.0 240.1 L848.4 278.7 L848.8 221.6 L849.2 264.2 L849.6 207.0 L850.0 237.4 L850.4 206.5 L850.8 248.3 L851.1 245.9 L851.5 210.3 L851.9 290.3 L852.3 231.0 L852.7 239.6 L853.1 202.9 L853.5 226.6 L853.9 208.4 L854.3 227.7 L854.7 255.3 L855.1 192.1 L855.5 232.8 L855.9 226.7 L856.3 232.8 L856.6 252.1 L857.0 209.8 L857.4 224.9 L857.8 248.0 L858.2 246.5 L858.6 259.9 L859.0 235.1 L859.4 230.9 L859.8 244.8 L860.2 231.7 L860.6 210.6 L861.0 213.5 L861.4 225.3 L861.8 230.2 L862.1 245.0 L862.5 250.0 L862.9 242.7 L863.3 216.4 L863.7 235.2 L864.1 200.7 L864.5 212.3 L864.9 250.4 L865.3 222.0 L865.7 211.1 L866.1 240.0 L866.5 209.2 L866.9 237.3 L867.2 199.7 L867.6 224.1 L868.0 238.7 L868.4 259.8 L868.8 238.2 L869.2 249.5 L869.6 228.4 L870.0 251.6 L870.4 225.9 L870.8 239.3 L871.2 223.4 L871.6 219.1 L872.0 230.2 L872.4 225.4 L872.7 216.0 L873.1 249.1 L873.5 222.6 L873.9 229.7 L874.3 210.2 L874.7 230.4 L875.1 216.1 L875.5 258.2 L875.9 207.8 L876.3 218.0 L876.7 221.2 L877.1 207.6 L877.5 237.3 L877.9 222.1 L878.2 223.5 L878.6 228.3 L879.0 232.7 L879.4 211.0 L879.8 228.1 L880.2 233.9 L880.6 228.8 L881.0 206.6 L881.4 204.6 L881.8 222.2 L882.2 227.1 L882.6 255.8 L883.0 263.0 L883.4 267.1 L883.7 242.1 L884.1 209.5 L884.5 236.2 L884.9 203.8 L885.3 226.3 L885.7 228.2 L886.1 231.3 L886.5 251.6 L886.9 237.4 L887.3 220.7 L887.7 223.1 L888.1 232.2 L888.5 223.7 L888.8 234.1 L889.2 231.4 L889.6 190.8 L890.0 233.2 L890.4 254.2 L890.8 257.2 L891.2 239.8 L891.6 232.4 L892.0 220.7 L892.4 231.3 L892.8 226.3 L893.2 235.4 L893.6 230.5 L894.0 209.0 L894.3 192.7 L894.7 200.1 L895.1 201.7 L895.5 176.6 L895.9 169.9 L896.3 178.6 L896.7 219.7 L897.1 192.1 L897.5 185.2 L897.9 181.5 L898.3 190.6 L898.7 190.7 L899.1 162.5 L899.5 153.0 L899.8 177.3 L900.2 203.4 L900.6 207.3 L901.0 161.3 L901.4 192.1 L901.8 178.6 L902.2 187.9 L902.6 181.0 L903.0 179.7 L903.4 214.4 L903.8 197.4 L904.2 172.7 L904.6 175.9 L904.9 211.0 L905.3 116.7 L905.7 212.3 L906.1 146.2 L906.5 219.5 L906.9 150.8 L907.3 224.2 L907.7 155.4 L908.1 173.1 L908.5 168.0 L908.9 206.7 L909.3 226.2 L909.7 181.8 L910.1 188.2 L910.4 196.9 L910.8 151.6 L911.2 236.3 L911.6 232.5 L912.0 246.7 L912.4 159.2 L912.8 228.3 L913.2 210.4 L913.6 105.6 L914.0 200.0 L914.4 198.5 L914.8 197.7 L915.2 280.1 L915.6 167.6 L915.9 174.7 L916.3 134.2 L916.7 165.0 L917.1 175.8 L917.5 221.1 L917.9 178.7 L918.3 163.6 L918.7 136.0 L919.1 177.6 L919.5 161.3 L919.9 171.4 L920.3 141.7 L920.7 164.9 L921.0 219.9 L921.4 238.3 L921.8 137.7 L922.2 202.3 L922.6 216.5 L923.0 234.6 L923.4 242.5 L923.8 176.2 L924.2 197.4 L924.6 177.1 L925.0 155.3 L925.4 218.5 L925.8 188.5 L926.2 193.4 L926.5 243.0 L926.9 280.3 L927.3 240.3 L927.7 180.1 L928.1 219.1 L928.5 196.8 L928.9 199.3 L929.3 141.1 L929.7 158.6 L930.1 218.4 L930.5 215.3 L930.9 166.3 L931.3 193.6 L931.7 197.0 L932.0 151.9 L932.4 161.4 L932.8 197.3 L933.2 134.6 L933.6 208.3 L934.0 247.4 L934.4 212.0 L934.8 201.5 L935.2 163.0 L935.6 197.8 L936.0 222.0 L936.4 197.5 L936.8 239.7 L937.1 219.5 L937.5 194.0 L937.9 224.5 L938.3 257.5 L938.7 225.4 L939.1 214.5 L939.5 174.8 L939.9 215.8 L940.3 203.4 L940.7 227.3 L941.1 195.5 L941.5 221.6 L941.9 184.7 L942.3 193.4 L942.6 157.7 L943.0 255.3 L943.4 196.3 L943.8 232.4 L944.2 197.1 L944.6 183.5 L945.0 154.2 L945.4 218.2 L945.8 246.1 L946.2 272.3 L946.6 241.9 L947.0 219.2 L947.4 193.4 L947.8 234.2 L948.1 228.6 L948.5 214.4 L948.9 279.6 L949.3 228.8 L949.7 241.5 L950.1 239.3 L950.5 265.2 L950.9 297.0 L951.3 221.2 L951.7 255.3 L952.1 244.3 L952.5 232.6 L952.9 239.9 L953.2 235.0 L953.6 239.3 L954.0 281.7 L954.4 288.1 L954.8 221.2 L955.2 260.6 L955.6 161.8 L956.0 263.2 L956.4 222.6 L956.8 233.8 L957.2 230.4 L957.6 281.5 L958.0 266.1 L958.4 208.9 L958.7 293.5 L959.1 307.4 L959.5 263.6 L959.9 267.0 L960.3 258.3 L960.7 296.6 L961.1 287.9 L961.5 231.4 L961.9 269.8 L962.3 253.5 L962.7 243.9 L963.1 235.7 L963.5 261.2 L963.9 257.9 L964.2 192.4 L964.6 194.8 L965.0 311.1 L965.4 207.7 L965.8 272.1 L966.2 240.7 L966.6 268.6 L967.0 248.1 L967.4 311.9 L967.8 253.3 L968.2 254.6 L968.6 235.3 L969.0 226.9 L969.3 237.8 L969.7 218.2 L970.1 243.4 L970.5 253.9 L970.9 267.2 L971.3 306.6 L971.7 263.5 L972.1 230.6 L972.5 207.1 L972.9 229.4 L973.3 172.5 L973.7 192.7 L974.1 223.5 L974.5 211.8 L974.8 247.6 L975.2 271.6 L975.6 203.6 L976.0 213.5 L976.4 265.2 L976.8 194.6 L977.2 236.6 L977.6 223.8 L978.0 257.0 L978.4 215.3 L978.8 203.2 L979.2 224.5 L979.6 205.9 L980.0 254.2 L980.3 198.2 L980.7 209.3 L981.1 204.4 L981.5 186.0 L981.9 178.4 L982.3 200.7 L982.7 181.3 L983.1 162.8 L983.5 236.3 L983.9 202.0 L984.3 250.8 L984.7 208.4 L985.1 181.2 L985.4 212.0 L985.8 226.2 L986.2 210.1 L986.6 190.4 L987.0 253.5 L987.4 221.1 L987.8 175.6 L988.2 213.2 L988.6 181.2 L989.0 284.7 L989.4 231.0 L989.8 169.8 L990.2 163.8 L990.6 214.1 L990.9 145.7 L991.3 188.6 L991.7 179.1 L992.1 187.0 L992.5 229.4 L992.9 176.5 L993.3 195.3 L993.7 179.8 L994.1 187.6 L994.5 199.7 L994.9 142.0 L995.3 183.5 L995.7 196.5 L996.1 179.0 L996.4 222.4 L996.8 192.3 L997.2 146.2 L997.6 212.6 L998.0 187.4 L998.4 222.8 L998.8 202.8 L999.2 184.8 L999.6 223.4 L1000.0 193.0 L1000.4 168.1 L1000.8 186.8 L1001.2 171.1 L1001.5 184.3 L1001.9 226.2 L1002.3 228.7 L1002.7 235.4 L1003.1 168.3 L1003.5 225.9 L1003.9 240.8 L1004.3 215.8 L1004.7 201.9 L1005.1 187.0 L1005.5 237.6 L1005.9 177.9 L1006.3 223.0 L1006.7 195.0 L1007.0 192.8 L1007.4 205.2 L1007.8 171.7 L1008.2 175.5 L1008.6 164.2 L1009.0 145.5 L1009.4 142.7 L1009.8 166.1 L1010.2 172.8 L1010.6 194.3 L1011.0 212.8 L1011.4 179.6 L1011.8 204.6 L1012.2 200.0 L1012.5 202.6 L1012.9 185.4 L1013.3 201.0 L1013.7 153.1 L1014.1 183.8 L1014.5 205.1 L1014.9 187.6 L1015.3 168.7 L1015.7 214.9 L1016.1 188.7 L1016.5 200.3 L1016.9 187.7 L1017.3 197.5 L1017.6 180.6 L1018.0 167.6 L1018.4 161.4 L1018.8 210.1 L1019.2 171.0 L1019.6 186.9 L1020.0 201.8 L1020.4 179.3 L1020.8 153.7 L1021.2 190.4 L1021.6 212.5 L1022.0 179.2 L1022.4 196.1 L1022.8 170.4 L1023.1 177.6 L1023.5 154.8 L1023.9 202.7 L1024.3 197.8 L1024.7 165.3 L1025.1 151.7 L1025.5 183.5 L1025.9 158.2 L1026.3 172.7 L1026.7 174.1 L1027.1 218.7 L1027.5 136.8 L1027.9 156.4 L1028.3 244.6 L1028.6 184.6 L1029.0 203.0 L1029.4 197.0 L1029.8 200.1 L1030.2 162.9 L1030.6 182.1 L1031.0 182.9 L1031.4 177.7 L1031.8 185.4 L1032.2 158.2 L1032.6 227.6 L1033.0 221.3 L1033.4 173.8 L1033.7 199.1 L1034.1 197.4 L1034.5 184.7 L1034.9 160.0 L1035.3 189.5 L1035.7 135.7 L1036.1 175.9 L1036.5 146.3 L1036.9 177.4 L1037.3 222.9 L1037.7 160.7 L1038.1 156.3 L1038.5 195.1 L1038.9 126.7 L1039.2 139.4 L1039.6 121.0 L1040.0 175.8 L1040.4 187.4 L1040.8 165.2 L1041.2 142.4 L1041.6 197.7 L1042.0 50.9 L1042.4 174.5 L1042.8 175.0 L1043.2 145.4 L1043.6 150.8 L1044.0 156.2 L1044.4 203.5 L1044.7 181.5 L1045.1 226.2 L1045.5 163.7 L1045.9 210.8 L1046.3 174.2 L1046.7 140.5 L1047.1 174.0 L1047.5 162.9 L1047.9 184.7 L1048.3 98.7 L1048.7 171.1 L1049.1 183.1 L1049.5 170.8 L1049.9 100.0 L1050.2 176.5 L1050.6 164.4 L1051.0 136.1 L1051.4 211.5 L1051.8 117.4 L1052.2 135.4 L1052.6 108.6 L1053.0 116.1 L1053.4 144.6 L1053.8 129.3 L1054.2 180.1 L1054.6 198.1 L1055.0 184.1 L1055.3 172.2 L1055.7 185.9 L1056.1 165.9 L1056.5 166.1 L1056.9 134.7 L1057.3 212.2 L1057.7 198.2 L1058.1 166.9 L1058.5 172.4 L1058.9 160.7 L1059.3 127.6 L1059.7 196.8 L1060.1 154.6 L1060.5 135.4 L1060.8 133.9 L1061.2 204.5 L1061.6 172.6 L1062.0 131.4 L1062.4 161.5 L1062.8 159.2 L1063.2 176.7 L1063.6 141.2 L1064.0 169.2 L1064.4 175.3 L1064.8 161.8 L1065.2 132.1 L1065.6 160.3 L1066.0 220.0 L1066.3 236.7 L1066.7 161.4 L1067.1 229.4 L1067.5 181.6 L1067.9 206.5 L1068.3 166.8 L1068.7 232.3 L1069.1 278.9 L1069.5 149.0 L1069.9 183.2 L1070.3 183.8 L1070.7 154.1 L1071.1 167.4 L1071.4 166.8 L1071.8 201.4 L1072.2 190.5 L1072.6 188.6 L1073.0 220.9 L1073.4 180.9 L1073.8 191.2 L1074.2 204.4 L1074.6 205.0 L1075.0 176.4 L1075.4 194.3 L1075.8 183.5 L1076.2 178.8 L1076.6 196.9 L1076.9 275.0 L1077.3 193.8 L1077.7 182.1 L1078.1 222.3 L1078.5 225.9 L1078.9 179.8 L1079.3 231.6 L1079.7 168.6 L1080.1 184.5 L1080.5 168.9 L1080.9 207.6 L1081.3 203.6 L1081.7 199.6 L1082.1 246.8 L1082.4 233.6 L1082.8 178.7 L1083.2 218.6 L1083.6 225.6 L1084.0 197.3 L1084.4 174.6 L1084.8 201.2 L1085.2 212.2 L1085.6 195.8 L1086.0 190.3 L1086.4 248.0 L1086.8 197.8 L1087.2 193.0 L1087.5 171.8 L1087.9 193.9 L1088.3 185.3 L1088.7 153.4 L1089.1 202.1 L1089.5 204.9 L1089.9 164.0 L1090.3 201.8 L1090.7 228.5 L1091.1 229.0 L1091.5 216.3 L1091.9 248.1 L1092.3 196.0 L1092.7 210.0 L1093.0 182.7 L1093.4 232.1 L1093.8 212.8 L1094.2 220.7 L1094.6 196.0 L1095.0 200.9 L1095.4 199.4 L1095.8 198.7 L1096.2 245.0 L1096.6 212.3 L1097.0 216.9 L1097.4 217.3 L1097.8 203.4 L1098.2 267.8 L1098.5 231.9 L1098.9 222.3 L1099.3 234.8 L1099.7 242.9 L1100.1 233.9 L1100.5 198.5 L1100.9 181.2 L1101.3 245.7 L1101.7 275.9 L1102.1 204.7 L1102.5 225.0 L1102.9 241.2 L1103.3 209.0 L1103.6 223.8 L1104.0 259.9 L1104.4 226.1 L1104.8 285.4 L1105.2 212.0 L1105.6 254.4 L1106.0 253.1 L1106.4 196.3 L1106.8 201.2 L1107.2 226.5 L1107.6 247.6 L1108.0 209.0 L1108.4 223.2 L1108.8 218.0 L1109.1 228.1 L1109.5 245.3 L1109.9 231.7 L1110.3 195.1 L1110.7 236.1 L1111.1 222.9 L1111.5 219.8 L1111.9 193.3 L1112.3 204.4 L1112.7 221.6 L1113.1 174.5 L1113.5 209.6 L1113.9 206.9 L1114.3 228.8 L1114.6 241.7 L1115.0 199.2 L1115.4 221.7 L1115.8 203.3 L1116.2 256.3 L1116.6 179.9 L1117.0 208.0 L1117.4 189.5 L1117.8 225.2 L1118.2 200.8 L1118.6 198.6 L1119.0 184.6 L1119.4 186.5 L1119.7 246.9 L1120.1 198.5 L1120.5 199.4 L1120.9 211.5 L1121.3 203.8 L1121.7 195.0 L1122.1 237.8 L1122.5 225.6 L1122.9 238.5 L1123.3 200.9 L1123.7 189.4 L1124.1 216.4 L1124.5 194.6 L1124.9 211.0 L1125.2 185.0 L1125.6 182.3 L1126.0 172.9 L1126.4 156.0 L1126.8 204.9 L1127.2 182.7 L1127.6 224.2 L1128.0 184.1 L1128.4 150.2 L1128.8 218.3 L1129.2 186.9 L1129.6 256.5 L1130.0 185.2 L1130.4 151.7 L1130.7 209.7 L1131.1 180.4 L1131.5 162.6 L1131.9 207.7 L1132.3 197.5 L1132.7 216.9 L1133.1 206.2 L1133.5 198.4 L1133.9 176.8 L1134.3 186.0 L1134.7 188.6 L1135.1 188.7 L1135.5 164.8 L1135.8 172.4 L1136.2 171.0 L1136.6 214.6 L1137.0 176.1 L1137.4 196.7 L1137.8 138.4 L1138.2 163.3 L1138.6 146.6 L1139.0 191.5 L1139.4 197.9 L1139.8 187.3 L1140.2 163.7 L1140.6 193.1 L1141.0 163.5 L1141.3 156.0 L1141.7 185.7 L1142.1 162.9 L1142.5 218.4 L1142.9 195.6 L1143.3 181.3 L1143.7 185.0 L1144.1 211.2 L1144.5 200.8 L1144.9 164.4 L1145.3 170.5 L1145.7 179.8 L1146.1 204.1 L1146.5 159.5 L1146.8 174.9 L1147.2 205.1 L1147.6 169.4 L1148.0 197.9 L1148.4 175.6 L1148.8 173.5 L1149.2 171.3 L1149.6 156.9 L1150.0 138.7 L1150.4 165.3 L1150.8 169.0 L1151.2 176.1 L1151.6 171.2 L1151.9 169.7 L1152.3 212.3 L1152.7 195.7 L1153.1 156.1 L1153.5 182.3 L1153.9 175.6 L1154.3 194.4 L1154.7 155.7 L1155.1 176.1 L1155.5 176.9 L1155.9 203.7 L1156.3 186.2 L1156.7 160.9 L1157.1 204.4 L1157.4 211.1 L1157.8 230.0 L1158.2 154.8 L1158.6 209.2 L1159.0 200.2 L1159.4 204.5 L1159.8 204.5 L1160.2 174.0 L1160.6 198.9 L1161.0 188.9 L1161.4 198.2 L1161.8 194.0 L1162.2 178.3 L1162.6 177.7 L1162.9 208.8 L1163.3 189.7 L1163.7 209.4 L1164.1 188.2 L1164.5 209.6 L1164.9 208.5 L1165.3 194.0 L1165.7 200.7 L1166.1 193.3 L1166.5 184.6 L1166.9 276.3 L1167.3 207.5 L1167.7 193.3 L1168.0 171.1 L1168.4 200.6 L1168.8 202.2 L1169.2 209.6 L1169.6 206.3 L1170.0 185.2 L1170.4 213.1 L1170.8 216.6 L1171.2 183.5 L1171.6 215.6 L1172.0 220.0 L1172.4 199.9 L1172.8 189.9 L1173.2 179.2 L1173.5 175.5 L1173.9 241.5 L1174.3 206.8 L1174.7 213.4 L1175.1 205.8 L1175.5 225.6 L1175.9 212.1 L1176.3 206.7 L1176.7 208.1 L1177.1 220.9 L1177.5 210.6 L1177.9 226.7 L1178.3 215.2 L1178.7 216.6 L1179.0 203.8 L1179.4 241.8 L1179.8 208.1 L1180.2 207.4 L1180.6 206.9 L1181.0 214.1 L1181.4 201.8 L1181.8 181.0 L1182.2 192.0 L1182.6 284.9 L1183.0 192.0 L1183.4 208.9 L1183.8 220.1 L1184.1 191.9 L1184.5 215.6 L1184.9 206.4 L1185.3 175.8 L1185.7 194.3 L1186.1 172.8 L1186.5 208.4 L1186.9 215.3 L1187.3 277.9 L1187.7 204.1 L1188.1 221.9 L1188.5 184.3 L1188.9 201.3 L1189.3 200.4 L1189.6 189.7 L1190.0 192.5 L1190.4 207.3 L1190.8 189.7 L1191.2 236.1 L1191.6 170.0 L1192.0 205.8 L1192.4 200.3 L1192.8 204.6 L1193.2 192.5 L1193.6 190.9 L1194.0 207.6 L1194.4 211.0 L1194.8 180.6 L1195.1 197.0 L1195.5 228.9 L1195.9 218.9 L1196.3 204.8 L1196.7 201.1 L1197.1 209.0 L1197.5 192.0 L1197.9 164.5 L1198.3 146.8 L1198.7 159.4 L1199.1 158.5 L1199.5 144.5 L1199.9 126.1 L1200.3 148.5 L1200.6 158.2 L1201.0 173.6 L1201.4 188.6 L1201.8 157.6 L1202.2 143.3 L1202.6 214.8 L1203.0 169.7 L1203.4 148.0 L1203.8 164.9 L1204.2 177.3 L1204.6 196.4 L1205.0 155.7 L1205.4 177.2 L1205.7 149.9 L1206.1 184.8 L1206.5 169.7 L1206.9 184.3 L1207.3 166.6 L1207.7 146.1 L1208.1 169.1 L1208.5 147.3 L1208.9 191.8 L1209.3 159.7 L1209.7 183.1 L1210.1 176.6 L1210.5 187.1 L1210.9 175.4 L1211.2 217.0 L1211.6 215.0 L1212.0 169.8 L1212.4 230.3 L1212.8 194.2 L1213.2 206.7 L1213.6 232.5 L1214.0 173.6 L1214.4 198.4 L1214.8 171.7 L1215.2 217.6 L1215.6 234.3 L1216.0 163.2 L1216.4 221.8 L1216.7 172.2 L1217.1 147.9 L1217.5 185.1 L1217.9 161.7 L1218.3 177.1 L1218.7 207.7 L1219.1 204.8 L1219.5 191.6 L1219.9 166.8 L1220.3 200.7 L1220.7 183.1 L1221.1 210.8 L1221.5 194.4 L1221.8 198.5 L1222.2 179.7 L1222.6 165.8 L1223.0 208.7 L1223.4 220.0 L1223.8 201.5 L1224.2 201.8 L1224.6 196.7 L1225.0 178.8 L1225.4 205.6 L1225.8 201.4 L1226.2 201.5 L1226.6 185.4 L1227.0 212.7 L1227.3 186.5 L1227.7 176.9 L1228.1 209.4 L1228.5 183.8 L1228.9 194.7 L1229.3 208.9 L1229.7 170.2 L1230.1 188.8 L1230.5 217.1 L1230.9 220.9 L1231.3 219.6 L1231.7 225.7 L1232.1 194.4 L1232.5 217.1 L1232.8 187.8 L1233.2 215.4 L1233.6 213.7 L1234.0 212.1 L1234.4 202.7 L1234.8 232.0 L1235.2 223.4 L1235.6 252.1 L1236.0 250.5 L1236.4 243.9 L1236.8 228.6 L1237.2 215.7 L1237.6 215.4 L1237.9 198.9 L1238.3 177.9 L1238.7 276.5 L1239.1 205.6 L1239.5 227.5 L1239.9 237.1 L1240.3 226.2 L1240.7 268.8 L1241.1 236.2 L1241.5 195.2 L1241.9 253.2 L1242.3 238.6 L1242.7 224.2 L1243.1 211.8 L1243.4 233.7 L1243.8 250.6 L1244.2 223.4 L1244.6 255.7 L1245.0 193.9 L1245.4 222.8 L1245.8 243.5 L1246.2 262.0 L1246.6 262.5 L1247.0 265.7 L1247.4 260.2 L1247.8 244.5 L1248.2 274.8 L1248.6 241.6 L1248.9 243.3 L1249.3 258.2 L1249.7 209.5 L1250.1 222.7 L1250.5 226.2 L1250.9 246.6 L1251.3 253.2 L1251.7 240.4 L1252.1 277.8 L1252.5 240.8 L1252.9 269.6 L1253.3 243.0 L1253.7 231.3 L1254.0 244.9 L1254.4 254.9 L1254.8 257.6 L1255.2 258.6 L1255.6 270.1 L1256.0 244.0 L1256.4 221.7 L1256.8 277.4 L1257.2 251.1 L1257.6 231.3 L1258.0 255.8 L1258.4 250.4 L1258.8 252.1 L1259.2 217.2 L1259.5 271.9 L1259.9 232.9 L1260.3 241.6 L1260.7 238.7 L1261.1 255.4 L1261.5 241.4 L1261.9 246.0 L1262.3 250.6 L1262.7 198.6 L1263.1 224.9 L1263.5 276.8 L1263.9 235.8 L1264.3 218.7 L1264.7 193.9 L1265.0 231.1 L1265.4 216.3 L1265.8 224.4 L1266.2 209.7 L1266.6 238.2 L1267.0 244.8 L1267.4 230.6 L1267.8 228.3 L1268.2 233.1 L1268.6 205.9 L1269.0 212.1 L1269.4 219.1 L1269.8 236.3 L1270.1 252.1 L1270.5 211.1 L1270.9 234.9 L1271.3 228.9 L1271.7 237.8 L1272.1 212.8 L1272.5 214.6 L1272.9 237.7 L1273.3 206.4 L1273.7 187.5 L1274.1 211.2 L1274.5 175.4 L1274.9 202.1 L1275.3 193.3 L1275.6 219.5 L1276.0 187.0 L1276.4 217.7 L1276.8 195.1 L1277.2 231.7 L1277.6 267.5 L1278.0 228.5 L1278.4 235.3 L1278.8 197.3 L1279.2 203.7 L1279.6 199.5 L1280.0 207.8 L1280.4 206.4 L1280.8 208.6 L1281.1 211.8 L1281.5 204.4 L1281.9 195.0 L1282.3 227.7 L1282.7 240.0 L1283.1 231.9 L1283.5 223.0 L1283.9 201.6 L1284.3 170.1 L1284.7 187.8 L1285.1 216.0 L1285.5 191.5 L1285.9 174.7 L1286.2 197.9 L1286.6 177.7 L1287.0 227.8 L1287.4 186.7 L1287.8 188.1 L1288.2 225.9 L1288.6 207.1 L1289.0 196.1 L1289.4 230.0 L1289.8 192.4 L1290.2 192.5 L1290.6 207.9 L1291.0 217.4 L1291.4 236.8 L1291.7 184.0 L1292.1 189.9 L1292.5 240.2 L1292.9 214.0 L1293.3 216.2 L1293.7 233.8 L1294.1 239.9 L1294.5 223.7 L1294.9 256.7 L1295.3 219.7 L1295.7 202.1 L1296.1 242.9 L1296.5 221.6 L1296.9 236.2 L1297.2 230.7 L1297.6 191.3 L1298.0 229.8 L1298.4 261.8 L1298.8 210.5 L1299.2 240.6 L1299.6 236.9 L1300.0 187.0 L1300.4 213.0 L1300.8 198.1 L1301.2 245.7 L1301.6 238.2 L1302.0 235.5 L1302.3 205.3 L1302.7 227.3 L1303.1 252.2 L1303.5 277.9 L1303.9 231.4 L1304.3 222.9 L1304.7 214.0 L1305.1 188.3 L1305.5 228.3 L1305.9 200.7 L1306.3 251.4 L1306.7 226.4 L1307.1 221.4 L1307.5 264.3 L1307.8 243.4 L1308.2 272.8 L1308.6 216.5 L1309.0 236.9 L1309.4 236.4 L1309.8 241.0 L1310.2 220.2 L1310.6 223.0 L1311.0 222.9 L1311.4 225.8 L1311.8 206.9 L1312.2 231.3 L1312.6 219.5 L1313.0 217.3 L1313.3 211.7 L1313.7 202.0 L1314.1 212.0 L1314.5 234.6 L1314.9 195.2 L1315.3 193.9 L1315.7 192.1 L1316.1 195.9 L1316.5 231.2 L1316.9 205.9 L1317.3 191.2 L1317.7 187.5 L1318.1 213.2 L1318.4 229.0 L1318.8 223.1 L1319.2 198.1 L1319.6 238.3 L1320.0 210.7 L1320.4 195.5 L1320.8 230.7 L1321.2 196.4 L1321.6 183.0 L1322.0 253.2 L1322.4 224.8 L1322.8 236.2 L1323.2 233.7 L1323.6 196.1 L1323.9 229.0 L1324.3 207.4 L1324.7 239.4 L1325.1 202.6 L1325.5 234.3 L1325.9 207.7 L1326.3 245.1 L1326.7 188.0 L1327.1 263.3 L1327.5 207.5 L1327.9 186.5 L1328.3 225.5 L1328.7 232.8 L1329.1 209.7 L1329.4 221.2 L1329.8 169.2 L1330.2 198.9 L1330.6 191.9 L1331.0 204.0 L1331.4 268.1 L1331.8 176.7 L1332.2 205.1 L1332.6 250.6 L1333.0 223.1 L1333.4 198.5 L1333.8 180.0 L1334.2 186.0 L1334.5 184.0 L1334.9 186.6 L1335.3 219.8 L1335.7 211.3 L1336.1 196.1 L1336.5 219.7 L1336.9 194.8 L1337.3 198.0 L1337.7 238.8 L1338.1 199.2 L1338.5 199.0 L1338.9 196.6 L1339.3 154.4 L1339.7 227.4 L1340.0 156.4 L1340.4 184.3 L1340.8 149.4 L1341.2 209.8 L1341.6 189.2 L1342.0 199.5 L1342.4 191.9 L1342.8 223.2 L1343.2 255.7 L1343.6 212.2 L1344.0 197.0 L1344.4 237.4 L1344.8 224.0 L1345.2 199.5 L1345.5 207.2 L1345.9 194.6 L1346.3 240.9 L1346.7 232.2 L1347.1 219.2 L1347.5 243.4 L1347.9 180.9 L1348.3 171.1 L1348.7 188.2 L1349.1 197.4 L1349.5 234.6 L1349.9 228.0 L1350.3 201.8 L1350.6 186.7 L1351.0 219.2 L1351.4 211.9 L1351.8 188.6 L1352.2 245.1 L1352.6 244.8 L1353.0 216.8 L1353.4 195.1 L1353.8 237.7 L1354.2 216.1 L1354.6 206.1 L1355.0 220.3 L1355.4 201.5 L1355.8 216.6 L1356.1 242.8 L1356.5 235.4 L1356.9 252.1 L1357.3 236.9 L1357.7 217.6 L1358.1 205.1 L1358.5 204.4 L1358.9 193.8 L1359.3 233.5 L1359.7 224.4 L1360.1 215.4 L1360.5 188.6 L1360.9 211.4 L1361.3 226.9 L1361.6 212.8 L1362.0 230.2 L1362.4 250.5 L1362.8 208.2 L1363.2 228.3 L1363.6 214.3 L1364.0 243.8 L1364.4 233.5 L1364.8 209.4 L1365.2 215.4 L1365.6 206.3 L1366.0 239.1 L1366.4 223.5 L1366.8 209.9 L1367.1 207.2 L1367.5 221.6 L1367.9 187.8 L1368.3 219.3 L1368.7 220.6 L1369.1 220.4 L1369.5 210.3 L1369.9 245.2 L1370.3 246.5 L1370.7 239.1 L1371.1 224.3 L1371.5 236.5 L1371.9 226.9 L1372.2 233.0 L1372.6 233.0 L1373.0 254.6 L1373.4 253.0 L1373.8 255.6 L1374.2 262.2 L1374.6 223.8 L1375.0 221.3 L1375.4 236.0 L1375.8 241.6 L1376.2 263.2 L1376.6 202.9 L1377.0 270.8 L1377.4 201.1 L1377.7 270.4 L1378.1 259.8 L1378.5 245.6 L1378.9 251.6 L1379.3 234.5 L1379.7 264.6 L1380.1 260.5 L1380.5 287.2 L1380.9 233.5 L1381.3 255.8 L1381.7 266.1 L1382.1 253.4 L1382.5 237.5 L1382.9 240.9 L1383.2 261.1 L1383.6 244.6 L1384.0 243.2 L1384.4 239.6 L1384.8 249.1 L1385.2 229.8 L1385.6 322.5 L1386.0 239.6 L1386.4 259.2 L1386.8 235.7 L1387.2 254.1 L1387.6 229.8 L1388.0 251.2 L1388.3 225.8 L1388.7 268.7 L1389.1 222.8 L1389.5 264.9 L1389.9 297.6 L1390.3 266.0 L1390.7 230.0 L1391.1 241.1 L1391.5 254.7 L1391.9 258.0 L1392.3 338.3 L1392.7 242.3 L1393.1 212.2 L1393.5 216.3 L1393.8 249.4 L1394.2 324.5 L1394.6 267.2 L1395.0 246.1 L1395.4 248.2 L1395.8 276.3 L1396.2 243.6 L1396.6 239.8 L1397.0 240.4 L1397.4 242.5 L1397.8 243.2 L1398.2 364.7 L1398.6 250.8 L1399.0 253.7 L1399.3 218.1 L1399.7 282.5 L1400.1 238.7 L1400.5 216.7 L1400.9 194.7 L1401.3 247.2 L1401.7 210.4 L1402.1 215.9 L1402.5 214.6 L1402.9 200.8 L1403.3 281.5 L1403.7 225.2 L1404.1 245.8 L1404.4 235.3 L1404.8 247.6 L1405.2 260.2 L1405.6 281.1 L1406.0 302.4 L1406.4 255.8 L1406.8 280.7 L1407.2 243.5 L1407.6 256.4 L1408.0 246.1 L1408.4 220.6 L1408.8 209.3 L1409.2 262.0 L1409.6 226.8 L1409.9 205.3 L1410.3 244.5 L1410.7 224.7 L1411.1 215.3 L1411.5 206.4 L1411.9 251.6 L1412.3 264.2 L1412.7 246.9 L1413.1 252.6 L1413.5 236.9 L1413.9 230.1 L1414.3 263.4 L1414.7 207.2 L1415.1 257.6 L1415.4 215.3 L1415.8 207.0 L1416.2 210.0 L1416.6 210.3 L1417.0 209.7 L1417.4 234.1 L1417.8 237.2 L1418.2 186.8 L1418.6 192.7 L1419.0 201.4 L1419.4 210.5 L1419.8 255.1 L1420.2 185.9 L1420.5 222.8 L1420.9 221.4 L1421.3 207.0 L1421.7 231.9 L1422.1 186.7 L1422.5 292.5 L1422.9 195.9 L1423.3 209.9 L1423.7 237.6 L1424.1 207.7 L1424.5 203.9 L1424.9 215.0 L1425.3 210.4 L1425.7 236.2 L1426.0 210.7 L1426.4 214.9 L1426.8 213.3 L1427.2 213.4 L1427.6 261.7 L1428.0 217.1 L1428.4 253.0 L1428.8 245.1 L1429.2 231.6 L1429.6 222.3 L1430.0 225.7 L1430.4 213.8 L1430.8 207.1 L1431.2 212.3 L1431.5 213.5 L1431.9 206.7 L1432.3 206.9 L1432.7 239.4 L1433.1 245.7 L1433.5 204.1 L1433.9 224.8 L1434.3 264.0 L1434.7 233.3 L1435.1 204.1 L1435.5 258.8 L1435.9 248.3 L1436.3 233.1 L1436.6 243.9 L1437.0 236.5 L1437.4 220.8 L1437.8 205.5 L1438.2 271.7 L1438.6 225.3 L1439.0 206.6 L1439.4 275.5 L1439.8 256.8 L1440.2 238.3 L1440.6 248.0 L1441.0 240.4 L1441.4 218.4 L1441.8 219.0 L1442.1 199.7 L1442.5 251.8 L1442.9 275.2 L1443.3 251.4 L1443.7 238.4 L1444.1 215.6 L1444.5 228.8 L1444.9 280.3 L1445.3 212.8 L1445.7 226.3 L1446.1 228.9 L1446.5 272.1 L1446.9 229.5 L1447.3 225.2 L1447.6 244.6 L1448.0 286.5 L1448.4 259.8 L1448.8 231.9 L1449.2 210.2 L1449.6 212.2 L1450.0 196.5 L1450.4 210.3 L1450.8 228.9 L1451.2 217.4 L1451.6 222.4 L1452.0 232.1 L1452.4 278.8 L1452.7 269.4 L1453.1 225.2 L1453.5 291.2 L1453.9 239.8 L1454.3 223.1 L1454.7 252.4 L1455.1 221.9 L1455.5 239.6 L1455.9 257.5 L1456.3 225.7 L1456.7 216.9 L1457.1 247.4 L1457.5 223.8 L1457.9 249.7 L1458.2 231.2 L1458.6 228.9 L1459.0 249.1 L1459.4 230.6 L1459.8 203.8 L1460.2 267.8 L1460.6 255.0 L1461.0 259.0 L1461.4 248.5 L1461.8 248.1 L1462.2 252.3 L1462.6 217.3 L1463.0 218.1 L1463.4 235.9 L1463.7 218.3 L1464.1 203.1 L1464.5 213.9 L1464.9 219.9 L1465.3 211.7 L1465.7 232.7 L1466.1 273.0 L1466.5 187.4 L1466.9 230.0 L1467.3 253.6 L1467.7 235.7 L1468.1 236.1 L1468.5 214.1 L1468.8 197.7 L1469.2 214.8 L1469.6 200.6 L1470.0 219.5 L1470.4 235.0 L1470.8 255.1 L1471.2 214.9 L1471.6 235.1 L1472.0 238.7 L1472.4 236.2 L1472.8 209.7 L1473.2 226.6 L1473.6 231.3 L1474.0 251.1 L1474.3 239.0 L1474.7 239.4 L1475.1 215.9 L1475.5 219.4 L1475.9 225.2 L1476.3 251.4 L1476.7 216.2 L1477.1 201.4 L1477.5 279.7 L1477.9 246.9 L1478.3 228.3 L1478.7 241.8 L1479.1 221.7 L1479.5 219.7 L1479.8 199.4 L1480.2 244.5 L1480.6 263.0 L1481.0 253.2 L1481.4 208.7 L1481.8 202.9 L1482.2 233.3 L1482.6 247.1 L1483.0 231.3 L1483.4 209.1 L1483.8 197.9 L1484.2 223.5 L1484.6 232.3 L1484.9 234.0 L1485.3 229.8 L1485.7 206.0 L1486.1 215.0 L1486.5 212.1 L1486.9 213.4 L1487.3 220.8 L1487.7 243.7 L1488.1 240.9 L1488.5 212.5 L1488.9 208.2 L1489.3 197.0 L1489.7 215.8 L1490.1 237.5 L1490.4 236.3 L1490.8 222.1 L1491.2 206.7 L1491.6 216.0 L1492.0 244.3 L1492.4 208.4 L1492.8 211.5 L1493.2 208.1 L1493.6 241.5 L1494.0 195.1 L1494.4 185.0 L1494.8 203.9 L1495.2 190.0 L1495.6 234.9 L1495.9 228.7 L1496.3 210.6 L1496.7 227.6 L1497.1 183.2 L1497.5 195.6 L1497.9 240.9 L1498.3 177.9 L1498.7 235.6 L1499.1 263.4 L1499.5 162.0 L1499.9 228.6 L1500.3 224.4 L1500.7 170.8 L1501.0 214.8 L1501.4 228.9 L1501.8 243.3 L1502.2 239.6 L1502.6 225.1 L1503.0 246.4 L1503.4 219.5 L1503.8 290.8 L1504.2 233.0 L1504.6 231.5 L1505.0 218.1 L1505.4 259.0 L1505.8 232.3 L1506.2 221.9 L1506.5 189.6 L1506.9 219.2 L1507.3 199.2 L1507.7 227.3 L1508.1 189.7 L1508.5 223.3 L1508.9 227.3 L1509.3 264.7 L1509.7 239.7 L1510.1 245.8 L1510.5 234.5 L1510.9 240.7 L1511.3 208.0 L1511.7 243.3 L1512.0 190.0 L1512.4 227.4 L1512.8 249.7 L1513.2 231.4 L1513.6 212.9 L1514.0 237.9 L1514.4 230.2 L1514.8 248.3 L1515.2 258.0 L1515.6 244.5 L1516.0 203.0 L1516.4 247.6 L1516.8 231.2 L1517.2 267.9 L1517.5 252.7 L1517.9 227.8 L1518.3 243.6 L1518.7 212.2 L1519.1 222.2 L1519.5 248.0 L1519.9 241.3 L1520.3 223.2 L1520.7 233.1 L1521.1 248.4 L1521.5 282.3 L1521.9 209.7 L1522.3 243.8 L1522.6 238.4 L1523.0 254.6 L1523.4 205.4 L1523.8 236.9 L1524.2 235.7 L1524.6 277.5 L1525.0 253.3 L1525.4 240.6 L1525.8 251.5 L1526.2 228.9 L1526.6 247.7 L1527.0 220.7 L1527.4 249.0 L1527.8 242.3 L1528.1 241.5 L1528.5 267.9 L1528.9 290.4 L1529.3 263.1 L1529.7 267.7 L1530.1 243.0 L1530.5 221.1 L1530.9 248.2 L1531.3 211.0 L1531.7 271.4 L1532.1 234.3 L1532.5 225.6 L1532.9 198.3 L1533.3 259.7 L1533.6 253.2 L1534.0 218.5 L1534.4 229.9 L1534.8 260.7 L1535.2 251.7 L1535.6 230.2 L1536.0 244.5 L1536.4 260.4 L1536.8 246.7 L1537.2 258.6 L1537.6 258.5 L1538.0 226.6 L1538.4 228.6 L1538.7 211.4 L1539.1 260.3 L1539.5 253.4 L1539.9 226.0 L1540.3 281.5 L1540.7 236.4 L1541.1 259.1 L1541.5 239.8 L1541.9 263.4 L1542.3 200.1 L1542.7 213.5 L1543.1 241.3 L1543.5 238.4 L1543.9 248.4 L1544.2 221.9 L1544.6 232.4 L1545.0 245.0 L1545.4 209.9 L1545.8 263.4 L1546.2 241.1 L1546.6 313.2 L1547.0 270.3 L1547.4 266.2 L1547.8 236.8 L1548.2 237.2 L1548.6 261.1 L1549.0 239.1 L1549.4 238.1 L1549.7 260.3 L1550.1 246.3 L1550.5 237.1 L1550.9 226.4 L1551.3 245.7 L1551.7 245.6 L1552.1 251.1 L1552.5 222.9 L1552.9 207.4 L1553.3 263.8 L1553.7 231.2 L1554.1 210.5 L1554.5 197.8 L1554.8 217.7 L1555.2 231.3 L1555.6 201.0 L1556.0 180.9 L1556.4 207.3 L1556.8 204.5 L1557.2 189.2 L1557.6 270.6 L1558.0 206.4 L1558.4 192.7 L1558.8 243.9 L1559.2 216.7 L1559.6 242.7 L1560.0 232.0 L1560.3 245.4 L1560.7 228.6 L1561.1 244.2 L1561.5 282.3 L1561.9 230.8 L1562.3 235.4 L1562.7 258.2 L1563.1 226.6 L1563.5 246.1 L1563.9 215.9 L1564.3 227.5 L1564.7 224.9 L1565.1 225.5 L1565.5 224.7 L1565.8 218.5 L1566.2 222.1 L1566.6 232.0 L1567.0 233.7 L1567.4 234.7 L1567.8 233.1 L1568.2 240.9 L1568.6 237.1 L1569.0 244.4 L1569.4 199.3 L1569.8 234.1 L1570.2 226.7 L1570.6 240.6 L1570.9 221.4 L1571.3 201.1 L1571.7 234.1 L1572.1 212.4 L1572.5 221.8 L1572.9 194.7 L1573.3 215.6 L1573.7 217.7 L1574.1 216.4 L1574.5 244.1 L1574.9 196.2 L1575.3 186.6 L1575.7 225.6 L1576.1 204.9 L1576.4 222.2 L1576.8 202.3 L1577.2 230.9 L1577.6 219.0 L1578.0 204.4 L1578.4 212.2 L1578.8 219.1 L1579.2 222.3 L1579.6 275.7 L1580.0 217.3 L1580.4 229.2 L1580.8 190.3 L1581.2 209.8 L1581.6 227.6 L1581.9 233.6 L1582.3 185.2 L1582.7 185.9 L1583.1 201.2 L1583.5 194.1 L1583.9 201.3 L1584.3 223.7 L1584.7 227.6 L1585.1 222.0 L1585.5 203.6 L1585.9 238.9 L1586.3 251.0 L1586.7 259.8 L1587.0 215.2 L1587.4 246.2 L1587.8 217.2 L1588.2 241.7 L1588.6 236.8 L1589.0 233.7 L1589.4 231.1 L1589.8 221.8 L1590.2 220.3 L1590.6 222.8 L1591.0 229.2 L1591.4 243.8 L1591.8 233.9 L1592.2 253.0 L1592.5 259.8 L1592.9 224.3 L1593.3 219.8 L1593.7 259.4 L1594.1 211.9 L1594.5 278.2 L1594.9 234.4 L1595.3 243.3 L1595.7 293.8 L1596.1 233.1 L1596.5 247.7 L1596.9 203.8 L1597.3 251.5 L1597.7 246.9 L1598.0 233.9 L1598.4 271.1 L1598.8 238.1 L1599.2 260.0 L1599.6 216.8 L1600.0 247.4 L1600.4 234.7 L1600.8 266.9 L1601.2 208.1 L1601.6 266.0 L1602.0 260.9 L1602.4 253.7 L1602.8 274.8 L1603.1 257.1 L1603.5 243.2 L1603.9 220.5 L1604.3 219.0 L1604.7 251.7 L1605.1 247.0 L1605.5 232.0 L1605.9 214.9 L1606.3 244.2 L1606.7 237.7 L1607.1 227.2 L1607.5 249.4 L1607.9 239.3 L1608.3 196.5 L1608.6 264.4 L1609.0 205.4 L1609.4 214.2 L1609.8 191.1 L1610.2 196.0 L1610.6 250.4 L1611.0 211.8 L1611.4 298.9 L1611.8 214.6 L1612.2 238.4 L1612.6 265.9 L1613.0 250.3 L1613.4 241.2 L1613.8 207.9 L1614.1 248.5 L1614.5 215.0 L1614.9 245.0 L1615.3 249.9 L1615.7 255.6 L1616.1 237.8 L1616.5 235.2 L1616.9 235.6 L1617.3 248.0 L1617.7 235.0 L1618.1 267.0 L1618.5 227.1 L1618.9 242.9 L1619.2 239.0 L1619.6 242.6 L1620.0 240.0 L1620.4 235.9 L1620.8 272.5 L1621.2 189.0 L1621.6 202.9 L1622.0 212.6 L1622.4 207.5 L1622.8 251.1 L1623.2 239.4 L1623.6 233.0 L1624.0 219.0 L1624.4 207.6 L1624.7 211.5 L1625.1 253.2 L1625.5 234.0 L1625.9 207.2 L1626.3 227.6 L1626.7 220.2 L1627.1 260.6 L1627.5 235.2 L1627.9 266.5 L1628.3 274.5 L1628.7 229.2 L1629.1 230.8 L1629.5 226.2 L1629.9 246.7 L1630.2 240.1 L1630.6 249.4 L1631.0 227.3 L1631.4 233.8 L1631.8 213.8 L1632.2 241.8 L1632.6 226.7 L1633.0 249.6 L1633.4 254.9 L1633.8 256.8 L1634.2 257.2 L1634.6 250.5 L1635.0 223.0 L1635.3 240.6 L1635.7 253.0 L1636.1 254.5 L1636.5 240.9 L1636.9 249.4 L1637.3 221.5 L1637.7 237.0 L1638.1 255.5 L1638.5 253.1 L1638.9 232.1 L1639.3 201.9 L1639.7 235.4 L1640.1 267.2 L1640.5 265.4 L1640.8 242.0 L1641.2 241.4 L1641.6 269.2 L1642.0 203.7 L1642.4 255.1 L1642.8 250.6 L1643.2 230.2 L1643.6 226.0 L1644.0 221.9 L1644.4 217.2 L1644.8 253.6 L1645.2 285.6 L1645.6 231.9 L1646.0 236.2 L1646.3 315.3 L1646.7 260.8 L1647.1 250.5 L1647.5 229.9 L1647.9 257.4 L1648.3 264.4 L1648.7 258.3 L1649.1 216.4 L1649.5 272.0 L1649.9 242.5 L1650.3 246.2 L1650.7 216.3 L1651.1 228.4 L1651.4 253.5 L1651.8 219.2 L1652.2 211.6 L1652.6 240.4 L1653.0 263.0 L1653.4 243.3 L1653.8 219.7 L1654.2 236.8 L1654.6 218.6 L1655.0 198.5 L1655.4 212.0 L1655.8 184.6 L1656.2 222.3 L1656.6 236.5 L1656.9 191.2 L1657.3 193.1 L1657.7 229.6 L1658.1 201.8 L1658.5 182.2 L1658.9 208.3 L1659.3 207.7 L1659.7 242.3 L1660.1 211.0 L1660.5 256.6 L1660.9 259.4 L1661.3 259.7 L1661.7 207.3 L1662.1 224.1 L1662.4 208.1 L1662.8 297.2 L1663.2 267.4 L1663.6 221.3 L1664.0 254.0 L1664.4 266.6 L1664.8 217.4 L1665.2 218.6 L1665.6 251.4 L1666.0 228.9 L1666.4 217.0 L1666.8 251.4 L1667.2 257.5 L1667.5 231.0 L1667.9 205.1 L1668.3 262.0 L1668.7 226.1 L1669.1 231.6 L1669.5 147.9 L1669.9 249.0 L1670.3 261.6 L1670.7 229.0 L1671.1 247.9 L1671.5 292.5 L1671.9 226.6 L1672.3 250.0 L1672.7 240.2 L1673.0 192.0 L1673.4 228.5 L1673.8 280.0 L1674.2 243.3 L1674.6 308.1 L1675.0 203.9 L1675.4 305.8"/>
<path stroke="#fdae61" d="M241.7 290.2 L242.1 303.9 L242.5 298.6 L242.9 293.0 L243.3 290.7 L243.7 295.2 L244.1 298.6 L244.4 291.9 L244.8 297.0 L245.2 300.8 L245.6 292.3 L246.0 287.9 L246.4 293.0 L246.8 298.6 L247.2 303.1 L247.6 290.9 L248.0 297.3 L248.4 298.9 L248.8 296.9 L249.2 300.2 L249.6 306.0 L249.9 288.3 L250.3 296.4 L250.7 306.3 L251.1 302.1 L251.5 307.4 L251.9 306.9 L252.3 290.5 L252.7 298.7 L253.1 301.1 L253.5 298.0 L253.9 298.9 L254.3 298.8 L254.7 287.7 L255.0 291.9 L255.4 290.9 L255.8 304.0 L256.2 297.7 L256.6 285.3 L257.0 296.4 L257.4 288.7 L257.8 296.7 L258.2 285.0 L258.6 286.4 L259.0 278.9 L259.4 281.3 L259.8 289.2 L260.2 288.5 L260.5 288.9 L260.9 287.0 L261.3 294.8 L261.7 294.3 L262.1 286.4 L262.5 290.3 L262.9 284.2 L263.3 289.6 L263.7 273.8 L264.1 283.7 L264.5 281.2 L264.9 290.1 L265.3 281.4 L265.7 271.0 L266.0 288.3 L266.4 282.2 L266.8 280.2 L267.2 279.6 L267.6 288.9 L268.0 277.7 L268.4 279.7 L268.8 275.2 L269.2 285.2 L269.6 272.5 L270.0 273.6 L270.4 272.8 L270.8 276.0 L271.1 285.2 L271.5 290.5 L271.9 283.3 L272.3 292.4 L272.7 279.3 L273.1 288.9 L273.5 292.3 L273.9 271.8 L274.3 272.0 L274.7 270.6 L275.1 281.8 L275.5 280.7 L275.9 278.1 L276.3 280.2 L276.6 275.5 L277.0 283.0 L277.4 281.7 L277.8 277.4 L278.2 288.5 L278.6 274.3 L279.0 282.1 L279.4 269.0 L279.8 286.6 L280.2 281.9 L280.6 286.8 L281.0 275.4 L281.4 270.5 L281.8 267.3 L282.1 294.1 L282.5 279.1 L282.9 285.9 L283.3 283.2 L283.7 286.0 L284.1 283.3 L284.5 286.3 L284.9 292.8 L285.3 279.8 L285.7 276.2 L286.1 295.9 L286.5 283.8 L286.9 293.1 L287.2 286.8 L287.6 279.7 L288.0 300.2 L288.4 280.8 L288.8 304.0 L289.2 285.5 L289.6 297.5 L290.0 272.2 L290.4 295.4 L290.8 299.0 L291.2 299.5 L291.6 293.9 L292.0 296.8 L292.4 291.2 L292.7 295.3 L293.1 286.0 L293.5 279.0 L293.9 294.2 L294.3 286.7 L294.7 292.0 L295.1 287.1 L295.5 285.6 L295.9 289.5 L296.3 290.3 L296.7 301.2 L297.1 276.2 L297.5 296.6 L297.9 280.4 L298.2 291.9 L298.6 288.9 L299.0 298.9 L299.4 288.8 L299.8 298.1 L300.2 300.2 L300.6 297.7 L301.0 294.7 L301.4 290.4 L301.8 296.7 L302.2 304.0 L302.6 290.3 L303.0 301.1 L303.3 288.4 L303.7 296.5 L304.1 299.8 L304.5 297.2 L304.9 293.6 L305.3 291.8 L305.7 288.1 L306.1 288.2 L306.5 290.1 L306.9 300.4 L307.3 308.5 L307.7 288.4 L308.1 295.3 L308.5 291.6 L308.8 305.1 L309.2 296.6 L309.6 283.2 L310.0 293.5 L310.4 306.4 L310.8 296.7 L311.2 298.5 L311.6 295.8 L312.0 289.8 L312.4 298.9 L312.8 295.2 L313.2 296.6 L313.6 300.1 L314.0 300.1 L314.3 307.6 L314.7 300.2 L315.1 299.7 L315.5 299.2 L315.9 306.2 L316.3 310.9 L316.7 305.3 L317.1 312.9 L317.5 294.6 L317.9 312.0 L318.3 310.7 L318.7 300.4 L319.1 307.0 L319.4 301.0 L319.8 293.4 L320.2 306.4 L320.6 289.3 L321.0 308.1 L321.4 295.2 L321.8 304.5 L322.2 302.8 L322.6 306.9 L323.0 291.3 L323.4 295.2 L323.8 309.1 L324.2 290.9 L324.6 306.4 L324.9 303.4 L325.3 302.4 L325.7 309.1 L326.1 284.1 L326.5 301.4 L326.9 299.7 L327.3 284.6 L327.7 292.6 L328.1 297.2 L328.5 281.7 L328.9 270.0 L329.3 283.6 L329.7 291.0 L330.1 295.0 L330.4 294.6 L330.8 297.5 L331.2 295.3 L331.6 291.4 L332.0 289.5 L332.4 284.8 L332.8 277.3 L333.2 298.5 L333.6 286.3 L334.0 286.0 L334.4 287.9 L334.8 277.0 L335.2 281.9 L335.5 299.1 L335.9 275.6 L336.3 295.8 L336.7 285.3 L337.1 280.0 L337.5 290.2 L337.9 279.8 L338.3 290.4 L338.7 285.7 L339.1 284.9 L339.5 283.8 L339.9 269.0 L340.3 273.9 L340.7 292.3 L341.0 294.8 L341.4 283.4 L341.8 289.3 L342.2 292.4 L342.6 287.9 L343.0 282.1 L343.4 286.1 L343.8 288.0 L344.2 287.2 L344.6 281.2 L345.0 276.4 L345.4 279.4 L345.8 282.3 L346.2 276.3 L346.5 282.4 L346.9 285.1 L347.3 280.1 L347.7 278.9 L348.1 276.5 L348.5 276.3 L348.9 281.7 L349.3 302.1 L349.7 277.6 L350.1 276.0 L350.5 281.3 L350.9 278.2 L351.3 286.8 L351.6 287.6 L352.0 279.8 L352.4 285.4 L352.8 300.3 L353.2 280.9 L353.6 277.1 L354.0 271.0 L354.4 288.5 L354.8 291.1 L355.2 291.2 L355.6 294.1 L356.0 280.2 L356.4 284.0 L356.8 296.6 L357.1 283.4 L357.5 289.0 L357.9 287.3 L358.3 300.6 L358.7 307.1 L359.1 285.8 L359.5 290.3 L359.9 292.2 L360.3 280.3 L360.7 286.8 L361.1 274.4 L361.5 279.0 L361.9 300.2 L362.3 285.4 L362.6 279.8 L363.0 281.3 L363.4 281.1 L363.8 286.2 L364.2 281.2 L364.6 281.5 L365.0 279.0 L365.4 284.6 L365.8 285.6 L366.2 284.6 L366.6 288.7 L367.0 275.2 L367.4 288.3 L367.7 274.4 L368.1 290.3 L368.5 284.0 L368.9 288.8 L369.3 279.8 L369.7 284.7 L370.1 296.7 L370.5 275.4 L370.9 281.8 L371.3 275.3 L371.7 293.7 L372.1 304.1 L372.5 285.8 L372.9 292.2 L373.2 273.5 L373.6 303.6 L374.0 290.0 L374.4 273.7 L374.8 276.0 L375.2 283.4 L375.6 277.9 L376.0 291.0 L376.4 271.8 L376.8 288.5 L377.2 299.8 L377.6 289.7 L378.0 288.7 L378.4 286.7 L378.7 300.7 L379.1 285.3 L379.5 286.4 L379.9 284.1 L380.3 292.7 L380.7 290.3 L381.1 307.1 L381.5 306.2 L381.9 276.9 L382.3 295.3 L382.7 300.6 L383.1 286.3 L383.5 297.7 L383.8 299.4 L384.2 287.9 L384.6 283.9 L385.0 313.1 L385.4 332.6 L385.8 285.7 L386.2 288.7 L386.6 310.3 L387.0 301.0 L387.4 291.9 L387.8 291.9 L388.2 294.1 L388.6 288.6 L389.0 310.5 L389.3 300.0 L389.7 278.8 L390.1 301.9 L390.5 298.0 L390.9 287.0 L391.3 289.5 L391.7 287.9 L392.1 308.2 L392.5 283.3 L392.9 292.9 L393.3 294.8 L393.7 298.8 L394.1 291.9 L394.5 300.8 L394.8 297.4 L395.2 302.2 L395.6 289.9 L396.0 290.4 L396.4 303.7 L396.8 285.2 L397.2 305.1 L397.6 300.9 L398.0 295.8 L398.4 305.0 L398.8 299.2 L399.2 308.4 L399.6 306.3 L399.9 299.8 L400.3 290.7 L400.7 306.2 L401.1 310.0 L401.5 305.2 L401.9 307.4 L402.3 297.2 L402.7 291.3 L403.1 290.4 L403.5 307.0 L403.9 282.8 L404.3 305.3 L404.7 293.6 L405.1 291.0 L405.4 298.8 L405.8 289.8 L406.2 298.3 L406.6 289.9 L407.0 297.2 L407.4 298.9 L407.8 292.1 L408.2 291.7 L408.6 290.1 L409.0 287.6 L409.4 298.4 L409.8 291.4 L410.2 301.9 L410.6 286.1 L410.9 290.6 L411.3 282.5 L411.7 291.8 L412.1 289.7 L412.5 289.5 L412.9 291.5 L413.3 292.0 L413.7 279.8 L414.1 287.5 L414.5 292.2 L414.9 290.0 L415.3 292.0 L415.7 277.4 L416.1 281.0 L416.4 291.1 L416.8 295.3 L417.2 276.4 L417.6 298.3 L418.0 270.8 L418.4 287.7 L418.8 282.3 L419.2 295.1 L419.6 288.7 L420.0 290.2 L420.4 285.7 L420.8 292.8 L421.2 286.8 L421.5 289.2 L421.9 283.0 L422.3 292.7 L422.7 291.5 L423.1 294.3 L423.5 279.8 L423.9 286.1 L424.3 285.5 L424.7 296.8 L425.1 290.7 L425.5 297.3 L425.9 290.1 L426.3 293.0 L426.7 302.8 L427.0 281.3 L427.4 300.7 L427.8 262.3 L428.2 280.8 L428.6 270.5 L429.0 289.0 L429.4 270.3 L429.8 276.3 L430.2 282.6 L430.6 273.6 L431.0 292.8 L431.4 288.8 L431.8 290.5 L432.2 282.8 L432.5 289.9 L432.9 269.4 L433.3 287.3 L433.7 281.5 L434.1 286.5 L434.5 289.7 L434.9 291.6 L435.3 288.0 L435.7 270.8 L436.1 284.3 L436.5 277.5 L436.9 282.0 L437.3 289.2 L437.6 274.3 L438.0 286.0 L438.4 282.1 L438.8 279.6 L439.2 281.3 L439.6 278.9 L440.0 291.2 L440.4 274.8 L440.8 280.0 L441.2 285.6 L441.6 285.2 L442.0 285.6 L442.4 279.3 L442.8 270.4 L443.1 270.6 L443.5 279.0 L443.9 279.2 L444.3 272.4 L444.7 276.0 L445.1 274.7 L445.5 265.0 L445.9 281.9 L446.3 273.8 L446.7 283.8 L447.1 284.5 L447.5 280.6 L447.9 288.3 L448.3 286.2 L448.6 280.3 L449.0 287.7 L449.4 286.4 L449.8 275.7 L450.2 292.8 L450.6 282.7 L451.0 283.2 L451.4 282.7 L451.8 279.1 L452.2 282.0 L452.6 284.9 L453.0 296.2 L453.4 293.4 L453.7 286.1 L454.1 299.5 L454.5 284.5 L454.9 283.0 L455.3 279.1 L455.7 288.7 L456.1 281.9 L456.5 298.1 L456.9 294.9 L457.3 302.6 L457.7 280.6 L458.1 292.1 L458.5 288.4 L458.9 286.1 L459.2 295.1 L459.6 292.5 L460.0 301.5 L460.4 280.9 L460.8 287.4 L461.2 295.2 L461.6 294.1 L462.0 292.0 L462.4 283.2 L462.8 300.2 L463.2 297.3 L463.6 299.7 L464.0 289.8 L464.4 289.7 L464.7 292.9 L465.1 299.0 L465.5 291.4 L465.9 286.2 L466.3 290.1 L466.7 291.5 L467.1 291.4 L467.5 284.9 L467.9 300.4 L468.3 294.5 L468.7 292.1 L469.1 293.2 L469.5 295.0 L469.8 298.7 L470.2 289.4 L470.6 289.1 L471.0 293.3 L471.4 294.0 L471.8 293.6 L472.2 290.4 L472.6 289.5 L473.0 288.7 L473.4 294.2 L473.8 288.0 L474.2 293.7 L474.6 283.9 L475.0 276.5 L475.3 289.6 L475.7 272.9 L476.1 288.7 L476.5 283.0 L476.9 285.9 L477.3 285.4 L477.7 280.8 L478.1 280.3 L478.5 282.5 L478.9 285.3 L479.3 277.5 L479.7 280.4 L480.1 279.8 L480.5 279.3 L480.8 270.0 L481.2 280.6 L481.6 280.7 L482.0 280.4 L482.4 274.7 L482.8 267.1 L483.2 266.3 L483.6 288.0 L484.0 274.2 L484.4 278.7 L484.8 276.3 L485.2 275.2 L485.6 290.5 L485.9 278.7 L486.3 284.8 L486.7 267.0 L487.1 281.1 L487.5 279.4 L487.9 281.7 L488.3 278.4 L488.7 269.2 L489.1 275.4 L489.5 272.7 L489.9 279.3 L490.3 273.1 L490.7 286.6 L491.1 273.7 L491.4 280.6 L491.8 268.2 L492.2 282.9 L492.6 274.5 L493.0 284.8 L493.4 278.7 L493.8 280.4 L494.2 282.4 L494.6 282.5 L495.0 279.6 L495.4 278.7 L495.8 285.2 L496.2 274.7 L496.6 284.0 L496.9 287.1 L497.3 284.5 L497.7 275.1 L498.1 289.6 L498.5 279.6 L498.9 294.0 L499.3 284.1 L499.7 288.5 L500.1 286.3 L500.5 282.1 L500.9 284.1 L501.3 297.0 L501.7 287.9 L502.0 292.3 L502.4 291.2 L502.8 292.4 L503.2 293.5 L503.6 280.5 L504.0 284.9 L504.4 289.5 L504.8 294.7 L505.2 290.9 L505.6 288.6 L506.0 289.7 L506.4 283.6 L506.8 300.7 L507.2 292.5 L507.5 285.8 L507.9 289.0 L508.3 297.8 L508.7 289.8 L509.1 285.3 L509.5 281.0 L509.9 298.1 L510.3 284.1 L510.7 288.2 L511.1 289.0 L511.5 292.8 L511.9 283.1 L512.3 283.4 L512.7 289.7 L513.0 285.0 L513.4 271.6 L513.8 289.8 L514.2 293.6 L514.6 299.0 L515.0 280.6 L515.4 284.2 L515.8 288.3 L516.2 281.7 L516.6 286.7 L517.0 284.2 L517.4 276.7 L517.8 288.9 L518.1 283.1 L518.5 294.2 L518.9 296.3 L519.3 291.2 L519.7 280.7 L520.1 263.7 L520.5 273.6 L520.9 306.4 L521.3 278.8 L521.7 284.5 L522.1 275.5 L522.5 287.0 L522.9 288.3 L523.3 286.5 L523.6 279.7 L524.0 291.8 L524.4 285.1 L524.8 292.6 L525.2 275.5 L525.6 291.0 L526.0 286.0 L526.4 281.5 L526.8 278.4 L527.2 289.0 L527.6 287.9 L528.0 296.6 L528.4 310.6 L528.8 302.0 L529.1 288.0 L529.5 283.2 L529.9 299.9 L530.3 293.8 L530.7 295.2 L531.1 306.0 L531.5 296.3 L531.9 296.2 L532.3 289.3 L532.7 292.6 L533.1 298.5 L533.5 286.3 L533.9 296.9 L534.2 303.1 L534.6 296.7 L535.0 299.7 L535.4 289.7 L535.8 295.8 L536.2 282.1 L536.6 287.7 L537.0 298.7 L537.4 300.0 L537.8 303.4 L538.2 296.1 L538.6 296.0 L539.0 291.1 L539.4 294.5 L539.7 289.9 L540.1 288.1 L540.5 295.7 L540.9 276.6 L541.3 289.7 L541.7 289.7 L542.1 288.5 L542.5 298.5 L542.9 284.2 L543.3 295.7 L543.7 288.7 L544.1 286.7 L544.5 292.6 L544.9 286.9 L545.2 290.3 L545.6 297.9 L546.0 288.7 L546.4 297.2 L546.8 288.9 L547.2 297.3 L547.6 291.5 L548.0 295.5 L548.4 283.6 L548.8 282.8 L549.2 287.5 L549.6 295.9 L550.0 303.4 L550.3 283.1 L550.7 293.7 L551.1 298.9 L551.5 291.7 L551.9 291.6 L552.3 287.6 L552.7 300.7 L553.1 293.0 L553.5 289.7 L553.9 283.9 L554.3 287.7 L554.7 287.6 L555.1 283.6 L555.5 286.3 L555.8 297.1 L556.2 285.4 L556.6 291.4 L557.0 274.3 L557.4 281.8 L557.8 277.2 L558.2 279.1 L558.6 288.5 L559.0 287.0 L559.4 280.1 L559.8 282.1 L560.2 289.3 L560.6 289.6 L561.0 280.6 L561.3 278.8 L561.7 285.3 L562.1 287.7 L562.5 285.5 L562.9 293.9 L563.3 283.2 L563.7 280.7 L564.1 291.4 L564.5 284.2 L564.9 280.9 L565.3 281.7 L565.7 284.9 L566.1 286.8 L566.5 280.4 L566.8 288.2 L567.2 278.9 L567.6 285.4 L568.0 282.8 L568.4 278.0 L568.8 283.0 L569.2 274.1 L569.6 286.8 L570.0 279.1 L570.4 287.2 L570.8 274.2 L571.2 282.8 L571.6 277.2 L571.9 291.3 L572.3 275.5 L572.7 292.1 L573.1 290.4 L573.5 290.8 L573.9 277.1 L574.3 275.2 L574.7 280.4 L575.1 285.6 L575.5 278.4 L575.9 275.4 L576.3 280.6 L576.7 289.7 L577.1 271.2 L577.4 276.9 L577.8 279.7 L578.2 285.9 L578.6 288.4 L579.0 284.7 L579.4 296.3 L579.8 281.2 L580.2 290.1 L580.6 285.2 L581.0 281.4 L581.4 290.5 L581.8 283.0 L582.2 277.9 L582.6 303.1 L582.9 289.0 L583.3 288.7 L583.7 306.5 L584.1 291.6 L584.5 287.1 L584.9 276.4 L585.3 285.3 L585.7 292.2 L586.1 302.2 L586.5 292.1 L586.9 288.4 L587.3 293.7 L587.7 290.3 L588.0 282.6 L588.4 281.3 L588.8 282.9 L589.2 281.3 L589.6 279.9 L590.0 294.9 L590.4 299.3 L590.8 269.6 L591.2 285.0 L591.6 299.2 L592.0 303.3 L592.4 276.0 L592.8 293.8 L593.2 289.2 L593.5 271.4 L593.9 295.0 L594.3 304.7 L594.7 285.8 L595.1 298.1 L595.5 276.5 L595.9 299.5 L596.3 300.1 L596.7 298.4 L597.1 297.6 L597.5 319.2 L597.9 307.9 L598.3 300.0 L598.7 309.4 L599.0 309.6 L599.4 299.9 L599.8 306.2 L600.2 290.4 L600.6 287.8 L601.0 285.2 L601.4 278.7 L601.8 306.4 L602.2 301.6 L602.6 293.3 L603.0 292.9 L603.4 286.7 L603.8 304.1 L604.1 309.2 L604.5 292.3 L604.9 295.6 L605.3 304.7 L605.7 299.7 L606.1 307.0 L606.5 291.1 L606.9 295.7 L607.3 294.5 L607.7 299.5 L608.1 298.1 L608.5 290.0 L608.9 309.4 L609.3 306.5 L609.6 288.2 L610.0 285.8 L610.4 286.0 L610.8 303.0 L611.2 303.2 L611.6 288.5 L612.0 300.0 L612.4 297.3 L612.8 286.0 L613.2 286.9 L613.6 309.1 L614.0 263.6 L614.4 286.8 L614.8 288.8 L615.1 291.9 L615.5 281.4 L615.9 289.7 L616.3 294.7 L616.7 299.8 L617.1 291.1 L617.5 277.4 L617.9 289.5 L618.3 288.9 L618.7 289.9 L619.1 307.6 L619.5 289.2 L619.9 279.5 L620.2 281.1 L620.6 300.6 L621.0 302.8 L621.4 291.6 L621.8 309.2 L622.2 285.1 L622.6 291.9 L623.0 294.8 L623.4 303.6 L623.8 298.3 L624.2 299.5 L624.6 267.3 L625.0 282.0 L625.4 277.9 L625.7 289.5 L626.1 287.6 L626.5 286.9 L626.9 281.6 L627.3 284.5 L627.7 288.2 L628.1 289.1 L628.5 294.9 L628.9 292.6 L629.3 279.9 L629.7 290.3 L630.1 276.7 L630.5 298.7 L630.9 280.8 L631.2 272.3 L631.6 293.4 L632.0 289.4 L632.4 276.7 L632.8 272.3 L633.2 268.3 L633.6 272.5 L634.0 265.4 L634.4 263.1 L634.8 307.6 L635.2 276.6 L635.6 270.3 L636.0 273.5 L636.3 272.6 L636.7 265.2 L637.1 279.7 L637.5 270.3 L637.9 258.7 L638.3 268.4 L638.7 270.7 L639.1 268.6 L639.5 259.2 L639.9 262.8 L640.3 259.1 L640.7 271.9 L641.1 269.1 L641.5 269.3 L641.8 268.4 L642.2 264.0 L642.6 260.1 L643.0 254.9 L643.4 265.6 L643.8 274.3 L644.2 264.2 L644.6 268.0 L645.0 267.1 L645.4 269.3 L645.8 272.4 L646.2 264.9 L646.6 272.3 L647.0 269.8 L647.3 264.4 L647.7 254.4 L648.1 269.0 L648.5 273.6 L648.9 266.4 L649.3 261.2 L649.7 271.3 L650.1 265.9 L650.5 264.2 L650.9 278.5 L651.3 281.8 L651.7 270.7 L652.1 280.5 L652.4 287.6 L652.8 291.1 L653.2 275.1 L653.6 274.2 L654.0 284.5 L654.4 271.7 L654.8 279.3 L655.2 272.9 L655.6 280.1 L656.0 266.9 L656.4 258.2 L656.8 276.5 L657.2 278.6 L657.6 274.7 L657.9 270.2 L658.3 264.1 L658.7 272.7 L659.1 272.2 L659.5 275.6 L659.9 280.7 L660.3 262.4 L660.7 271.5 L661.1 255.0 L661.5 273.4 L661.9 270.5 L662.3 262.1 L662.7 260.7 L663.1 279.5 L663.4 257.2 L663.8 261.8 L664.2 279.8 L664.6 257.1 L665.0 273.6 L665.4 284.0 L665.8 272.6 L666.2 285.5 L666.6 267.8 L667.0 272.0 L667.4 271.7 L667.8 277.1 L668.2 268.1 L668.5 274.2 L668.9 282.5 L669.3 275.3 L669.7 270.5 L670.1 282.0 L670.5 253.5 L670.9 275.5 L671.3 271.3 L671.7 270.8 L672.1 280.5 L672.5 272.6 L672.9 284.3 L673.3 271.3 L673.7 274.5 L674.0 269.9 L674.4 276.6 L674.8 277.3 L675.2 265.9 L675.6 282.6 L676.0 274.8 L676.4 274.8 L676.8 266.8 L677.2 269.8 L677.6 274.4 L678.0 280.1 L678.4 281.1 L678.8 284.3 L679.2 272.9 L679.5 291.4 L679.9 285.3 L680.3 275.0 L680.7 280.9 L681.1 271.2 L681.5 272.7 L681.9 280.8 L682.3 277.0 L682.7 297.6 L683.1 282.6 L683.5 277.6 L683.9 284.7 L684.3 277.7 L684.6 272.9 L685.0 279.0 L685.4 270.0 L685.8 280.2 L686.2 272.2 L686.6 277.9 L687.0 287.6 L687.4 282.1 L687.8 277.9 L688.2 291.0 L688.6 284.1 L689.0 265.0 L689.4 279.3 L689.8 266.5 L690.1 288.1 L690.5 287.9 L690.9 277.9 L691.3 280.6 L691.7 273.1 L692.1 293.6 L692.5 280.4 L692.9 278.8 L693.3 273.1 L693.7 274.7 L694.1 283.0 L694.5 275.7 L694.9 280.2 L695.3 280.1 L695.6 277.6 L696.0 279.1 L696.4 281.4 L696.8 279.0 L697.2 279.0 L697.6 272.0 L698.0 273.2 L698.4 283.8 L698.8 278.4 L699.2 264.4 L699.6 275.4 L700.0 272.8 L700.4 274.6 L700.7 285.4 L701.1 277.9 L701.5 282.2 L701.9 274.1 L702.3 274.9 L702.7 284.6 L703.1 276.2 L703.5 273.5 L703.9 275.2 L704.3 271.9 L704.7 271.5 L705.1 265.7 L705.5 281.7 L705.9 268.1 L706.2 264.1 L706.6 276.6 L707.0 271.1 L707.4 265.8 L707.8 281.8 L708.2 268.4 L708.6 279.5 L709.0 280.5 L709.4 276.2 L709.8 280.3 L710.2 280.3 L710.6 285.2 L711.0 276.4 L711.4 277.6 L711.7 271.1 L712.1 280.7 L712.5 270.2 L712.9 260.2 L713.3 291.1 L713.7 279.9 L714.1 279.0 L714.5 279.6 L714.9 272.4 L715.3 279.4 L715.7 305.4 L716.1 289.2 L716.5 285.8 L716.8 273.6 L717.2 284.6 L717.6 278.2 L718.0 272.0 L718.4 270.1 L718.8 274.1 L719.2 285.4 L719.6 277.0 L720.0 275.4 L720.4 282.6 L720.8 285.2 L721.2 282.4 L721.6 279.6 L722.0 283.9 L722.3 268.7 L722.7 282.2 L723.1 276.8 L723.5 282.7 L723.9 275.9 L724.3 264.8 L724.7 277.7 L725.1 268.7 L725.5 280.9 L725.9 281.0 L726.3 279.6 L726.7 280.1 L727.1 292.5 L727.5 287.8 L727.8 285.2 L728.2 275.8 L728.6 282.8 L729.0 279.4 L729.4 279.4 L729.8 278.8 L730.2 281.5 L730.6 295.9 L731.0 284.9 L731.4 283.9 L731.8 295.6 L732.2 283.4 L732.6 288.8 L733.0 286.3 L733.3 293.3 L733.7 275.8 L734.1 274.3 L734.5 288.2 L734.9 296.7 L735.3 296.1 L735.7 295.1 L736.1 292.5 L736.5 295.3 L736.9 287.6 L737.3 295.6 L737.7 293.2 L738.1 292.2 L738.4 291.6 L738.8 298.5 L739.2 287.4 L739.6 299.2 L740.0 289.6 L740.4 298.2 L740.8 293.5 L741.2 289.9 L741.6 295.2 L742.0 285.9 L742.4 300.8 L742.8 306.1 L743.2 293.1 L743.6 291.8 L743.9 302.8 L744.3 289.4 L744.7 299.6 L745.1 305.3 L745.5 300.9 L745.9 293.4 L746.3 298.3 L746.7 301.8 L747.1 292.9 L747.5 293.2 L747.9 308.9 L748.3 300.0 L748.7 291.4 L749.1 295.6 L749.4 299.9 L749.8 295.8 L750.2 289.5 L750.6 292.8 L751.0 299.0 L751.4 309.4 L751.8 300.7 L752.2 305.3 L752.6 301.1 L753.0 291.1 L753.4 300.9 L753.8 304.7 L754.2 296.2 L754.5 312.5 L754.9 292.7 L755.3 303.3 L755.7 299.4 L756.1 301.3 L756.5 292.4 L756.9 301.0 L757.3 300.6 L757.7 304.8 L758.1 305.3 L758.5 291.3 L758.9 298.6 L759.3 288.6 L759.7 303.9 L760.0 314.2 L760.4 309.4 L760.8 293.7 L761.2 303.5 L761.6 300.5 L762.0 295.3 L762.4 298.3 L762.8 294.9 L763.2 296.4 L763.6 300.5 L764.0 303.2 L764.4 296.7 L764.8 289.1 L765.2 295.4 L765.5 291.4 L765.9 300.9 L766.3 281.3 L766.7 291.8 L767.1 297.4 L767.5 282.2 L767.9 293.3 L768.3 287.8 L768.7 275.1 L769.1 280.9 L769.5 292.6 L769.9 295.5 L770.3 285.9 L770.6 285.5 L771.0 287.8 L771.4 281.4 L771.8 279.5 L772.2 286.0 L772.6 292.7 L773.0 292.1 L773.4 276.5 L773.8 289.6 L774.2 267.9 L774.6 289.8 L775.0 284.6 L775.4 278.9 L775.8 274.9 L776.1 280.7 L776.5 283.5 L776.9 296.8 L777.3 291.0 L777.7 283.4 L778.1 287.5 L778.5 276.2 L778.9 285.6 L779.3 286.8 L779.7 282.9 L780.1 280.9 L780.5 291.2 L780.9 287.8 L781.3 298.4 L781.6 293.1 L782.0 283.6 L782.4 282.5 L782.8 276.7 L783.2 289.1 L783.6 284.1 L784.0 297.8 L784.4 286.8 L784.8 274.0 L785.2 298.0 L785.6 289.5 L786.0 286.0 L786.4 291.2 L786.7 292.5 L787.1 282.7 L787.5 287.7 L787.9 277.9 L788.3 284.0 L788.7 284.4 L789.1 287.7 L789.5 283.0 L789.9 290.0 L790.3 288.0 L790.7 283.4 L791.1 287.4 L791.5 272.9 L791.9 292.5 L792.2 285.1 L792.6 273.6 L793.0 276.7 L793.4 282.6 L793.8 278.1 L794.2 299.7 L794.6 286.6 L795.0 296.5 L795.4 285.7 L795.8 298.6 L796.2 280.1 L796.6 289.4 L797.0 275.5 L797.4 281.9 L797.7 285.4 L798.1 292.7 L798.5 287.1 L798.9 293.3 L799.3 284.6 L799.7 280.8 L800.1 286.9 L800.5 291.2 L800.9 282.5 L801.3 281.4 L801.7 270.8 L802.1 280.8 L802.5 274.4 L802.8 298.4 L803.2 287.5 L803.6 287.0 L804.0 284.1 L804.4 296.9 L804.8 281.6 L805.2 291.0 L805.6 297.6 L806.0 289.0 L806.4 282.5 L806.8 287.0 L807.2 286.6 L807.6 290.5 L808.0 275.7 L808.3 298.4 L808.7 290.6 L809.1 297.2 L809.5 294.5 L809.9 284.8 L810.3 296.1 L810.7 290.0 L811.1 300.7 L811.5 295.1 L811.9 291.4 L812.3 302.1 L812.7 315.4 L813.1 292.5 L813.5 293.7 L813.8 282.0 L814.2 288.2 L814.6 303.3 L815.0 294.8 L815.4 307.7 L815.8 299.2 L816.2 300.8 L816.6 297.0 L817.0 305.3 L817.4 295.0 L817.8 296.8 L818.2 306.2 L818.6 297.3 L818.9 292.2 L819.3 306.2 L819.7 307.3 L820.1 286.8 L820.5 308.5 L820.9 307.6 L821.3 308.3 L821.7 304.4 L822.1 291.5 L822.5 291.9 L822.9 295.1 L823.3 298.4 L823.7 306.8 L824.1 296.8 L824.4 304.6 L824.8 296.0 L825.2 304.4 L825.6 305.4 L826.0 294.8 L826.4 301.9 L826.8 296.0 L827.2 301.1 L827.6 305.3 L828.0 289.3 L828.4 298.7 L828.8 324.2 L829.2 293.8 L829.6 293.1 L829.9 300.4 L830.3 313.9 L830.7 298.5 L831.1 300.8 L831.5 287.1 L831.9 303.2 L832.3 292.0 L832.7 297.6 L833.1 302.8 L833.5 301.2 L833.9 315.1 L834.3 308.7 L834.7 292.4 L835.0 289.8 L835.4 304.4 L835.8 302.8 L836.2 290.8 L836.6 304.6 L837.0 303.6 L837.4 303.6 L837.8 299.7 L838.2 294.4 L838.6 302.8 L839.0 301.6 L839.4 300.8 L839.8 301.8 L840.2 306.4 L840.5 296.9 L840.9 310.2 L841.3 304.1 L841.7 297.8 L842.1 297.3 L842.5 298.6 L842.9 302.4 L843.3 295.7 L843.7 295.1 L844.1 281.4 L844.5 303.9 L844.9 298.3 L845.3 287.0 L845.7 292.4 L846.0 294.0 L846.4 288.1 L846.8 286.8 L847.2 294.4 L847.6 294.8 L848.0 302.6 L848.4 290.7 L848.8 288.9 L849.2 288.6 L849.6 296.5 L850.0 301.8 L850.4 286.5 L850.8 295.5 L851.1 296.7 L851.5 281.3 L851.9 292.7 L852.3 291.7 L852.7 281.8 L853.1 286.3 L853.5 276.1 L853.9 268.8 L854.3 284.1 L854.7 290.5 L855.1 283.0 L855.5 277.8 L855.9 273.8 L856.3 277.4 L856.6 279.0 L857.0 279.3 L857.4 290.2 L857.8 299.4 L858.2 285.4 L858.6 288.9 L859.0 287.2 L859.4 291.2 L859.8 280.7 L860.2 295.0 L860.6 292.2 L861.0 280.1 L861.4 289.2 L861.8 289.7 L862.1 283.2 L862.5 287.7 L862.9 284.0 L863.3 282.4 L863.7 285.7 L864.1 284.2 L864.5 291.0 L864.9 291.8 L865.3 297.6 L865.7 281.5 L866.1 289.4 L866.5 300.6 L866.9 284.8 L867.2 287.1 L867.6 283.7 L868.0 286.4 L868.4 285.5 L868.8 286.8 L869.2 286.5 L869.6 279.4 L870.0 281.9 L870.4 291.2 L870.8 285.6 L871.2 284.0 L871.6 290.3 L872.0 293.7 L872.4 294.4 L872.7 292.7 L873.1 293.4 L873.5 292.6 L873.9 292.5 L874.3 281.3 L874.7 303.9 L875.1 296.6 L875.5 283.8 L875.9 295.7 L876.3 279.5 L876.7 279.3 L877.1 292.6 L877.5 292.3 L877.9 287.5 L878.2 290.5 L878.6 282.0 L879.0 282.8 L879.4 297.6 L879.8 296.3 L880.2 285.0 L880.6 295.8 L881.0 292.3 L881.4 293.8 L881.8 291.8 L882.2 293.7 L882.6 288.8 L883.0 280.2 L883.4 291.1 L883.7 290.0 L884.1 289.2 L884.5 291.6 L884.9 293.1 L885.3 302.3 L885.7 296.3 L886.1 300.6 L886.5 285.8 L886.9 296.1 L887.3 294.2 L887.7 292.2 L888.1 287.7 L888.5 303.4 L888.8 301.6 L889.2 298.7 L889.6 297.1 L890.0 299.9 L890.4 293.8 L890.8 296.6 L891.2 316.8 L891.6 307.5 L892.0 303.2 L892.4 289.0 L892.8 302.1 L893.2 308.1 L893.6 312.1 L894.0 295.0 L894.3 304.9 L894.7 301.7 L895.1 291.1 L895.5 308.1 L895.9 306.1 L896.3 293.8 L896.7 295.0 L897.1 297.7 L897.5 289.1 L897.9 296.6 L898.3 294.5 L898.7 298.7 L899.1 296.7 L899.5 290.5 L899.8 278.8 L900.2 284.5 L900.6 286.4 L901.0 285.5 L901.4 310.4 L901.8 283.5 L902.2 284.8 L902.6 276.2 L903.0 287.9 L903.4 270.8 L903.8 278.7 L904.2 276.6 L904.6 274.5 L904.9 283.5 L905.3 270.4 L905.7 271.1 L906.1 275.9 L906.5 278.4 L906.9 270.1 L907.3 272.3 L907.7 280.9 L908.1 273.4 L908.5 268.2 L908.9 270.8 L909.3 265.8 L909.7 258.3 L910.1 266.8 L910.4 261.0 L910.8 266.8 L911.2 268.2 L911.6 250.7 L912.0 269.3 L912.4 252.1 L912.8 269.2 L913.2 266.6 L913.6 273.6 L914.0 266.0 L914.4 254.1 L914.8 259.8 L915.2 258.4 L915.6 252.9 L915.9 267.9 L916.3 264.2 L916.7 245.8 L917.1 269.6 L917.5 256.2 L917.9 273.1 L918.3 259.6 L918.7 252.3 L919.1 271.5 L919.5 261.5 L919.9 267.5 L920.3 255.5 L920.7 261.9 L921.0 256.3 L921.4 249.8 L921.8 265.1 L922.2 275.4 L922.6 254.1 L923.0 276.0 L923.4 265.3 L923.8 268.4 L924.2 275.0 L924.6 255.2 L925.0 262.0 L925.4 265.1 L925.8 259.2 L926.2 263.3 L926.5 267.6 L926.9 260.6 L927.3 258.8 L927.7 259.6 L928.1 263.6 L928.5 265.7 L928.9 251.2 L929.3 261.1 L929.7 259.4 L930.1 278.3 L930.5 272.8 L930.9 274.6 L931.3 261.6 L931.7 271.8 L932.0 278.1 L932.4 273.0 L932.8 278.2 L933.2 274.3 L933.6 271.0 L934.0 260.9 L934.4 275.4 L934.8 246.0 L935.2 270.1 L935.6 261.4 L936.0 272.8 L936.4 266.2 L936.8 264.9 L937.1 264.9 L937.5 273.1 L937.9 274.5 L938.3 273.2 L938.7 268.9 L939.1 252.6 L939.5 277.6 L939.9 275.2 L940.3 280.7 L940.7 280.1 L941.1 265.0 L941.5 276.5 L941.9 273.2 L942.3 262.8 L942.6 266.4 L943.0 265.1 L943.4 270.5 L943.8 270.5 L944.2 272.7 L944.6 266.0 L945.0 265.9 L945.4 273.4 L945.8 275.0 L946.2 276.3 L946.6 274.7 L947.0 270.6 L947.4 270.2 L947.8 279.0 L948.1 281.6 L948.5 286.8 L948.9 279.9 L949.3 272.8 L949.7 274.3 L950.1 298.4 L950.5 281.2 L950.9 286.5 L951.3 279.9 L951.7 277.3 L952.1 290.5 L952.5 294.6 L952.9 283.0 L953.2 284.1 L953.6 277.7 L954.0 289.8 L954.4 295.1 L954.8 292.1 L955.2 289.0 L955.6 293.8 L956.0 287.3 L956.4 290.0 L956.8 299.8 L957.2 287.3 L957.6 283.5 L958.0 278.7 L958.4 279.8 L958.7 289.9 L959.1 299.6 L959.5 290.3 L959.9 289.3 L960.3 291.7 L960.7 301.0 L961.1 286.8 L961.5 288.1 L961.9 310.2 L962.3 299.7 L962.7 309.8 L963.1 289.4 L963.5 290.1 L963.9 291.7 L964.2 299.5 L964.6 301.8 L965.0 294.4 L965.4 308.1 L965.8 303.5 L966.2 280.3 L966.6 297.3 L967.0 290.0 L967.4 294.1 L967.8 303.6 L968.2 298.5 L968.6 318.9 L969.0 290.9 L969.3 294.2 L969.7 292.6 L970.1 291.6 L970.5 279.8 L970.9 299.2 L971.3 287.9 L971.7 272.0 L972.1 293.4 L972.5 279.5 L972.9 288.2 L973.3 296.4 L973.7 298.7 L974.1 285.8 L974.5 287.0 L974.8 288.1 L975.2 286.8 L975.6 287.7 L976.0 278.9 L976.4 290.3 L976.8 277.8 L977.2 277.4 L977.6 286.1 L978.0 283.4 L978.4 283.1 L978.8 287.7 L979.2 292.5 L979.6 282.9 L980.0 287.8 L980.3 285.9 L980.7 300.1 L981.1 282.0 L981.5 293.6 L981.9 283.6 L982.3 287.0 L982.7 293.6 L983.1 286.0 L983.5 269.4 L983.9 272.3 L984.3 283.3 L984.7 277.6 L985.1 278.3 L985.4 289.8 L985.8 269.9 L986.2 269.0 L986.6 277.4 L987.0 276.1 L987.4 270.6 L987.8 273.0 L988.2 272.0 L988.6 267.2 L989.0 277.7 L989.4 279.4 L989.8 274.3 L990.2 291.4 L990.6 274.7 L990.9 271.9 L991.3 263.9 L991.7 256.3 L992.1 267.5 L992.5 263.5 L992.9 273.3 L993.3 278.3 L993.7 283.4 L994.1 271.0 L994.5 272.9 L994.9 274.6 L995.3 279.5 L995.7 273.7 L996.1 279.8 L996.4 272.7 L996.8 276.6 L997.2 276.4 L997.6 274.7 L998.0 285.9 L998.4 289.5 L998.8 259.0 L999.2 278.2 L999.6 264.7 L1000.0 277.8 L1000.4 271.2 L1000.8 282.6 L1001.2 281.0 L1001.5 286.0 L1001.9 269.2 L1002.3 277.3 L1002.7 296.5 L1003.1 280.9 L1003.5 281.9 L1003.9 281.9 L1004.3 271.9 L1004.7 279.9 L1005.1 277.2 L1005.5 274.1 L1005.9 272.4 L1006.3 273.4 L1006.7 260.0 L1007.0 283.4 L1007.4 281.6 L1007.8 280.4 L1008.2 276.4 L1008.6 263.4 L1009.0 271.1 L1009.4 274.8 L1009.8 268.7 L1010.2 267.8 L1010.6 278.9 L1011.0 276.6 L1011.4 264.9 L1011.8 274.1 L1012.2 276.4 L1012.5 279.1 L1012.9 276.4 L1013.3 302.6 L1013.7 259.9 L1014.1 269.9 L1014.5 282.0 L1014.9 281.9 L1015.3 263.6 L1015.7 271.5 L1016.1 274.5 L1016.5 275.5 L1016.9 270.4 L1017.3 279.2 L1017.6 279.4 L1018.0 279.3 L1018.4 275.9 L1018.8 288.8 L1019.2 272.3 L1019.6 280.5 L1020.0 277.1 L1020.4 284.4 L1020.8 293.6 L1021.2 284.8 L1021.6 280.8 L1022.0 288.1 L1022.4 284.7 L1022.8 273.7 L1023.1 272.2 L1023.5 280.0 L1023.9 278.8 L1024.3 280.2 L1024.7 276.2 L1025.1 288.9 L1025.5 278.1 L1025.9 275.4 L1026.3 271.4 L1026.7 272.1 L1027.1 282.0 L1027.5 274.5 L1027.9 274.9 L1028.3 264.9 L1028.6 275.2 L1029.0 279.5 L1029.4 275.1 L1029.8 301.7 L1030.2 270.3 L1030.6 279.5 L1031.0 278.9 L1031.4 274.7 L1031.8 280.8 L1032.2 283.6 L1032.6 287.1 L1033.0 282.3 L1033.4 290.4 L1033.7 273.3 L1034.1 287.3 L1034.5 288.5 L1034.9 275.0 L1035.3 286.6 L1035.7 279.9 L1036.1 287.8 L1036.5 283.9 L1036.9 287.9 L1037.3 293.2 L1037.7 288.2 L1038.1 279.8 L1038.5 287.2 L1038.9 285.0 L1039.2 284.9 L1039.6 289.1 L1040.0 273.3 L1040.4 290.0 L1040.8 286.4 L1041.2 277.6 L1041.6 273.3 L1042.0 289.1 L1042.4 278.3 L1042.8 283.1 L1043.2 276.9 L1043.6 273.6 L1044.0 279.5 L1044.4 278.3 L1044.7 288.8 L1045.1 284.4 L1045.5 275.4 L1045.9 278.4 L1046.3 274.8 L1046.7 276.6 L1047.1 295.7 L1047.5 274.7 L1047.9 285.8 L1048.3 276.9 L1048.7 282.0 L1049.1 267.7 L1049.5 287.9 L1049.9 279.5 L1050.2 281.2 L1050.6 264.1 L1051.0 277.8 L1051.4 277.7 L1051.8 274.2 L1052.2 269.7 L1052.6 273.1 L1053.0 278.9 L1053.4 280.3 L1053.8 277.7 L1054.2 264.6 L1054.6 263.0 L1055.0 282.6 L1055.3 279.2 L1055.7 279.1 L1056.1 273.9 L1056.5 274.7 L1056.9 253.7 L1057.3 247.2 L1057.7 258.4 L1058.1 270.7 L1058.5 246.9 L1058.9 272.3 L1059.3 255.6 L1059.7 269.7 L1060.1 262.7 L1060.5 270.0 L1060.8 265.0 L1061.2 254.4 L1061.6 273.5 L1062.0 274.2 L1062.4 270.1 L1062.8 268.1 L1063.2 244.9 L1063.6 255.8 L1064.0 262.1 L1064.4 255.6 L1064.8 275.9 L1065.2 264.0 L1065.6 283.5 L1066.0 265.9 L1066.3 271.5 L1066.7 269.1 L1067.1 276.8 L1067.5 252.6 L1067.9 266.5 L1068.3 246.6 L1068.7 272.9 L1069.1 268.9 L1069.5 247.9 L1069.9 262.5 L1070.3 252.9 L1070.7 264.4 L1071.1 260.6 L1071.4 257.7 L1071.8 266.2 L1072.2 257.7 L1072.6 248.8 L1073.0 264.4 L1073.4 262.4 L1073.8 253.9 L1074.2 259.0 L1074.6 266.3 L1075.0 256.5 L1075.4 254.1 L1075.8 273.3 L1076.2 267.9 L1076.6 258.2 L1076.9 268.9 L1077.3 265.6 L1077.7 259.7 L1078.1 264.3 L1078.5 261.4 L1078.9 250.0 L1079.3 265.8 L1079.7 268.3 L1080.1 274.0 L1080.5 256.3 L1080.9 260.8 L1081.3 274.0 L1081.7 271.6 L1082.1 280.9 L1082.4 256.3 L1082.8 275.7 L1083.2 272.9 L1083.6 279.3 L1084.0 275.6 L1084.4 276.4 L1084.8 266.2 L1085.2 268.8 L1085.6 271.2 L1086.0 270.1 L1086.4 264.4 L1086.8 280.8 L1087.2 269.1 L1087.5 272.4 L1087.9 276.4 L1088.3 276.7 L1088.7 281.1 L1089.1 275.3 L1089.5 269.7 L1089.9 273.7 L1090.3 280.7 L1090.7 276.1 L1091.1 272.6 L1091.5 276.0 L1091.9 291.3 L1092.3 286.9 L1092.7 268.4 L1093.0 278.2 L1093.4 278.3 L1093.8 280.8 L1094.2 272.1 L1094.6 268.5 L1095.0 278.5 L1095.4 275.7 L1095.8 272.8 L1096.2 272.9 L1096.6 275.9 L1097.0 270.5 L1097.4 297.3 L1097.8 288.8 L1098.2 287.4 L1098.5 295.7 L1098.9 283.4 L1099.3 276.0 L1099.7 294.6 L1100.1 280.7 L1100.5 275.3 L1100.9 296.2 L1101.3 285.8 L1101.7 289.1 L1102.1 270.7 L1102.5 280.8 L1102.9 289.2 L1103.3 275.0 L1103.6 270.0 L1104.0 285.3 L1104.4 288.3 L1104.8 288.7 L1105.2 291.2 L1105.6 286.1 L1106.0 298.0 L1106.4 299.4 L1106.8 294.1 L1107.2 280.1 L1107.6 295.9 L1108.0 304.2 L1108.4 292.5 L1108.8 289.7 L1109.1 294.9 L1109.5 304.6 L1109.9 299.5 L1110.3 290.8 L1110.7 286.2 L1111.1 294.7 L1111.5 291.2 L1111.9 285.8 L1112.3 286.2 L1112.7 276.0 L1113.1 279.6 L1113.5 301.9 L1113.9 292.8 L1114.3 290.9 L1114.6 289.0 L1115.0 297.5 L1115.4 281.8 L1115.8 290.1 L1116.2 270.5 L1116.6 285.1 L1117.0 284.6 L1117.4 278.3 L1117.8 272.2 L1118.2 275.7 L1118.6 286.2 L1119.0 276.2 L1119.4 283.7 L1119.7 278.8 L1120.1 276.5 L1120.5 280.1 L1120.9 271.5 L1121.3 282.3 L1121.7 277.2 L1122.1 268.6 L1122.5 262.2 L1122.9 273.7 L1123.3 270.2 L1123.7 257.0 L1124.1 270.2 L1124.5 278.9 L1124.9 272.5 L1125.2 269.2 L1125.6 276.3 L1126.0 271.9 L1126.4 263.3 L1126.8 274.3 L1127.2 268.7 L1127.6 263.2 L1128.0 269.7 L1128.4 281.5 L1128.8 260.7 L1129.2 264.4 L1129.6 260.0 L1130.0 279.2 L1130.4 279.1 L1130.7 269.4 L1131.1 273.1 L1131.5 259.4 L1131.9 254.6 L1132.3 269.2 L1132.7 262.2 L1133.1 256.7 L1133.5 264.5 L1133.9 257.4 L1134.3 276.4 L1134.7 270.2 L1135.1 273.3 L1135.5 280.6 L1135.8 263.6 L1136.2 265.2 L1136.6 266.8 L1137.0 264.2 L1137.4 258.7 L1137.8 260.3 L1138.2 277.5 L1138.6 267.3 L1139.0 268.1 L1139.4 263.0 L1139.8 255.0 L1140.2 262.8 L1140.6 252.9 L1141.0 259.3 L1141.3 239.2 L1141.7 266.0 L1142.1 255.5 L1142.5 257.6 L1142.9 261.2 L1143.3 245.7 L1143.7 256.3 L1144.1 270.7 L1144.5 258.3 L1144.9 274.8 L1145.3 267.0 L1145.7 260.8 L1146.1 247.2 L1146.5 260.2 L1146.8 264.5 L1147.2 262.8 L1147.6 267.0 L1148.0 271.8 L1148.4 271.3 L1148.8 269.9 L1149.2 276.7 L1149.6 266.6 L1150.0 266.0 L1150.4 267.3 L1150.8 268.4 L1151.2 269.2 L1151.6 261.0 L1151.9 268.9 L1152.3 270.2 L1152.7 266.1 L1153.1 279.7 L1153.5 277.8 L1153.9 273.2 L1154.3 275.1 L1154.7 276.0 L1155.1 262.9 L1155.5 278.6 L1155.9 264.6 L1156.3 276.1 L1156.7 272.0 L1157.1 274.5 L1157.4 274.5 L1157.8 271.8 L1158.2 279.9 L1158.6 270.2 L1159.0 268.7 L1159.4 271.4 L1159.8 269.7 L1160.2 276.5 L1160.6 252.0 L1161.0 271.1 L1161.4 261.8 L1161.8 286.6 L1162.2 274.9 L1162.6 278.5 L1162.9 277.9 L1163.3 285.7 L1163.7 276.5 L1164.1 274.8 L1164.5 272.0 L1164.9 269.1 L1165.3 288.6 L1165.7 275.5 L1166.1 272.3 L1166.5 268.4 L1166.9 273.4 L1167.3 265.1 L1167.7 269.8 L1168.0 268.3 L1168.4 284.0 L1168.8 276.1 L1169.2 279.9 L1169.6 278.8 L1170.0 271.5 L1170.4 281.6 L1170.8 276.5 L1171.2 287.0 L1171.6 282.7 L1172.0 290.3 L1172.4 293.9 L1172.8 288.9 L1173.2 292.6 L1173.5 293.9 L1173.9 296.3 L1174.3 284.6 L1174.7 288.9 L1175.1 278.3 L1175.5 302.5 L1175.9 292.0 L1176.3 282.5 L1176.7 295.5 L1177.1 307.3 L1177.5 295.0 L1177.9 281.9 L1178.3 309.2 L1178.7 311.1 L1179.0 299.1 L1179.4 299.5 L1179.8 304.1 L1180.2 295.9 L1180.6 294.9 L1181.0 291.9 L1181.4 288.3 L1181.8 302.1 L1182.2 290.1 L1182.6 287.7 L1183.0 280.8 L1183.4 296.7 L1183.8 295.8 L1184.1 289.9 L1184.5 292.1 L1184.9 295.9 L1185.3 300.0 L1185.7 302.2 L1186.1 280.6 L1186.5 313.0 L1186.9 304.1 L1187.3 302.3 L1187.7 304.2 L1188.1 307.5 L1188.5 300.6 L1188.9 301.5 L1189.3 324.2 L1189.6 306.5 L1190.0 300.3 L1190.4 299.1 L1190.8 315.5 L1191.2 296.7 L1191.6 302.7 L1192.0 315.2 L1192.4 302.1 L1192.8 310.2 L1193.2 302.9 L1193.6 302.8 L1194.0 317.4 L1194.4 305.2 L1194.8 310.7 L1195.1 295.1 L1195.5 322.3 L1195.9 302.5 L1196.3 303.7 L1196.7 294.3 L1197.1 288.3 L1197.5 283.7 L1197.9 293.6 L1198.3 291.0 L1198.7 298.6 L1199.1 291.8 L1199.5 287.8 L1199.9 303.7 L1200.3 301.8 L1200.6 294.1 L1201.0 288.4 L1201.4 294.1 L1201.8 304.1 L1202.2 299.5 L1202.6 289.2 L1203.0 279.0 L1203.4 298.4 L1203.8 294.5 L1204.2 292.9 L1204.6 285.8 L1205.0 274.2 L1205.4 286.4 L1205.7 298.6 L1206.1 289.8 L1206.5 291.3 L1206.9 277.0 L1207.3 279.1 L1207.7 287.2 L1208.1 281.8 L1208.5 271.5 L1208.9 276.0 L1209.3 281.8 L1209.7 303.8 L1210.1 279.3 L1210.5 278.8 L1210.9 276.8 L1211.2 287.5 L1211.6 291.8 L1212.0 268.4 L1212.4 261.1 L1212.8 287.4 L1213.2 276.7 L1213.6 276.2 L1214.0 277.7 L1214.4 270.6 L1214.8 275.6 L1215.2 270.6 L1215.6 284.1 L1216.0 268.8 L1216.4 270.6 L1216.7 285.0 L1217.1 273.4 L1217.5 282.2 L1217.9 270.4 L1218.3 276.6 L1218.7 284.4 L1219.1 271.8 L1219.5 287.6 L1219.9 275.1 L1220.3 276.7 L1220.7 277.9 L1221.1 278.0 L1221.5 277.7 L1221.8 274.5 L1222.2 280.3 L1222.6 282.6 L1223.0 274.1 L1223.4 282.4 L1223.8 269.7 L1224.2 276.3 L1224.6 281.8 L1225.0 273.3 L1225.4 285.6 L1225.8 271.3 L1226.2 279.5 L1226.6 262.4 L1227.0 256.1 L1227.3 270.9 L1227.7 275.6 L1228.1 274.9 L1228.5 275.5 L1228.9 271.3 L1229.3 272.6 L1229.7 265.9 L1230.1 267.8 L1230.5 270.9 L1230.9 277.6 L1231.3 290.8 L1231.7 281.5 L1232.1 279.9 L1232.5 283.4 L1232.8 291.5 L1233.2 289.2 L1233.6 273.5 L1234.0 284.9 L1234.4 272.4 L1234.8 277.8 L1235.2 277.3 L1235.6 273.0 L1236.0 270.6 L1236.4 282.8 L1236.8 280.5 L1237.2 280.8 L1237.6 277.3 L1237.9 295.9 L1238.3 280.0 L1238.7 281.4 L1239.1 278.7 L1239.5 292.0 L1239.9 276.9 L1240.3 277.2 L1240.7 296.0 L1241.1 280.7 L1241.5 284.7 L1241.9 293.7 L1242.3 288.0 L1242.7 293.2 L1243.1 292.2 L1243.4 305.6 L1243.8 305.5 L1244.2 307.5 L1244.6 291.1 L1245.0 285.7 L1245.4 292.7 L1245.8 288.8 L1246.2 274.6 L1246.6 280.6 L1247.0 287.2 L1247.4 320.6 L1247.8 297.6 L1248.2 301.9 L1248.6 298.6 L1248.9 288.6 L1249.3 292.3 L1249.7 293.3 L1250.1 299.1 L1250.5 299.5 L1250.9 291.4 L1251.3 302.6 L1251.7 288.5 L1252.1 277.7 L1252.5 299.5 L1252.9 284.1 L1253.3 297.9 L1253.7 288.3 L1254.0 303.3 L1254.4 306.0 L1254.8 308.9 L1255.2 303.9 L1255.6 304.1 L1256.0 288.9 L1256.4 290.1 L1256.8 294.0 L1257.2 300.5 L1257.6 303.3 L1258.0 292.9 L1258.4 286.3 L1258.8 285.3 L1259.2 294.1 L1259.5 312.5 L1259.9 292.3 L1260.3 285.9 L1260.7 296.3 L1261.1 287.9 L1261.5 275.2 L1261.9 287.1 L1262.3 286.8 L1262.7 288.1 L1263.1 291.0 L1263.5 295.8 L1263.9 275.4 L1264.3 297.8 L1264.7 288.0 L1265.0 293.8 L1265.4 290.7 L1265.8 291.1 L1266.2 283.7 L1266.6 290.8 L1267.0 291.4 L1267.4 295.8 L1267.8 292.9 L1268.2 298.5 L1268.6 316.0 L1269.0 295.8 L1269.4 286.2 L1269.8 277.4 L1270.1 301.1 L1270.5 290.5 L1270.9 288.3 L1271.3 288.4 L1271.7 302.8 L1272.1 281.2 L1272.5 281.1 L1272.9 289.6 L1273.3 288.4 L1273.7 269.1 L1274.1 267.8 L1274.5 271.9 L1274.9 283.9 L1275.3 288.9 L1275.6 283.1 L1276.0 283.7 L1276.4 289.6 L1276.8 278.9 L1277.2 274.7 L1277.6 284.3 L1278.0 273.0 L1278.4 270.9 L1278.8 273.5 L1279.2 268.9 L1279.6 278.8 L1280.0 266.7 L1280.4 273.3 L1280.8 278.3 L1281.1 279.6 L1281.5 279.8 L1281.9 283.8 L1282.3 293.3 L1282.7 278.9 L1283.1 277.9 L1283.5 289.6 L1283.9 290.4 L1284.3 278.8 L1284.7 273.3 L1285.1 286.0 L1285.5 267.7 L1285.9 283.5 L1286.2 269.6 L1286.6 277.4 L1287.0 274.5 L1287.4 284.0 L1287.8 277.2 L1288.2 282.9 L1288.6 277.1 L1289.0 281.7 L1289.4 266.5 L1289.8 292.2 L1290.2 285.0 L1290.6 285.4 L1291.0 269.1 L1291.4 279.5 L1291.7 286.5 L1292.1 294.6 L1292.5 288.3 L1292.9 275.2 L1293.3 283.2 L1293.7 281.3 L1294.1 296.0 L1294.5 269.4 L1294.9 287.8 L1295.3 280.4 L1295.7 282.5 L1296.1 289.4 L1296.5 278.5 L1296.9 278.8 L1297.2 288.0 L1297.6 280.9 L1298.0 284.3 L1298.4 274.8 L1298.8 281.0 L1299.2 292.0 L1299.6 277.7 L1300.0 290.8 L1300.4 288.9 L1300.8 286.9 L1301.2 284.3 L1301.6 278.7 L1302.0 290.4 L1302.3 280.0 L1302.7 293.8 L1303.1 280.4 L1303.5 297.5 L1303.9 290.8 L1304.3 289.0 L1304.7 293.1 L1305.1 297.8 L1305.5 293.3 L1305.9 291.0 L1306.3 285.5 L1306.7 286.2 L1307.1 284.0 L1307.5 279.7 L1307.8 281.8 L1308.2 286.1 L1308.6 275.4 L1309.0 276.8 L1309.4 287.2 L1309.8 291.9 L1310.2 282.4 L1310.6 279.6 L1311.0 299.8 L1311.4 281.5 L1311.8 287.2 L1312.2 288.2 L1312.6 283.6 L1313.0 295.7 L1313.3 290.6 L1313.7 294.1 L1314.1 291.2 L1314.5 294.1 L1314.9 287.8 L1315.3 285.8 L1315.7 278.6 L1316.1 285.5 L1316.5 280.0 L1316.9 294.1 L1317.3 275.1 L1317.7 284.4 L1318.1 293.0 L1318.4 289.6 L1318.8 275.5 L1319.2 271.1 L1319.6 285.4 L1320.0 292.7 L1320.4 292.7 L1320.8 284.5 L1321.2 274.6 L1321.6 292.6 L1322.0 279.9 L1322.4 281.6 L1322.8 293.9 L1323.2 289.7 L1323.6 286.0 L1323.9 287.5 L1324.3 288.4 L1324.7 292.6 L1325.1 270.2 L1325.5 278.3 L1325.9 276.1 L1326.3 286.5 L1326.7 280.1 L1327.1 287.9 L1327.5 295.6 L1327.9 291.7 L1328.3 293.5 L1328.7 297.3 L1329.1 292.8 L1329.4 288.7 L1329.8 286.9 L1330.2 290.6 L1330.6 291.9 L1331.0 298.1 L1331.4 281.3 L1331.8 284.6 L1332.2 279.6 L1332.6 284.5 L1333.0 278.8 L1333.4 285.9 L1333.8 275.5 L1334.2 289.2 L1334.5 305.5 L1334.9 289.7 L1335.3 279.4 L1335.7 278.2 L1336.1 279.3 L1336.5 279.5 L1336.9 283.4 L1337.3 281.6 L1337.7 285.1 L1338.1 281.3 L1338.5 281.3 L1338.9 290.1 L1339.3 272.8 L1339.7 285.6 L1340.0 277.6 L1340.4 294.5 L1340.8 288.0 L1341.2 282.2 L1341.6 262.1 L1342.0 280.7 L1342.4 292.2 L1342.8 282.5 L1343.2 284.4 L1343.6 292.8 L1344.0 278.7 L1344.4 300.0 L1344.8 281.6 L1345.2 289.3 L1345.5 288.0 L1345.9 285.1 L1346.3 290.3 L1346.7 285.0 L1347.1 289.5 L1347.5 282.0 L1347.9 284.3 L1348.3 292.0 L1348.7 273.6 L1349.1 302.3 L1349.5 289.4 L1349.9 291.2 L1350.3 290.7 L1350.6 304.1 L1351.0 290.0 L1351.4 282.1 L1351.8 288.8 L1352.2 283.8 L1352.6 284.7 L1353.0 295.1 L1353.4 291.3 L1353.8 282.5 L1354.2 275.2 L1354.6 281.1 L1355.0 273.5 L1355.4 289.1 L1355.8 291.4 L1356.1 287.4 L1356.5 284.9 L1356.9 288.8 L1357.3 276.7 L1357.7 284.0 L1358.1 285.7 L1358.5 285.1 L1358.9 282.7 L1359.3 281.0 L1359.7 273.5 L1360.1 296.1 L1360.5 285.8 L1360.9 289.7 L1361.3 283.8 L1361.6 288.2 L1362.0 288.9 L1362.4 295.2 L1362.8 302.5 L1363.2 285.1 L1363.6 289.8 L1364.0 288.4 L1364.4 285.3 L1364.8 288.8 L1365.2 286.1 L1365.6 291.0 L1366.0 293.3 L1366.4 299.5 L1366.8 288.1 L1367.1 290.5 L1367.5 293.6 L1367.9 284.9 L1368.3 287.6 L1368.7 293.6 L1369.1 292.1 L1369.5 290.3 L1369.9 280.2 L1370.3 280.3 L1370.7 285.0 L1371.1 284.3 L1371.5 284.2 L1371.9 283.2 L1372.2 299.7 L1372.6 288.3 L1373.0 284.1 L1373.4 306.7 L1373.8 299.6 L1374.2 279.6 L1374.6 290.6 L1375.0 284.6 L1375.4 291.1 L1375.8 283.9 L1376.2 288.0 L1376.6 299.7 L1377.0 295.3 L1377.4 304.1 L1377.7 307.0 L1378.1 308.8 L1378.5 312.5 L1378.9 299.3 L1379.3 289.7 L1379.7 293.6 L1380.1 295.2 L1380.5 304.6 L1380.9 301.7 L1381.3 299.1 L1381.7 322.2 L1382.1 305.5 L1382.5 306.1 L1382.9 296.1 L1383.2 293.2 L1383.6 292.8 L1384.0 300.7 L1384.4 325.7 L1384.8 302.6 L1385.2 301.1 L1385.6 310.4 L1386.0 295.5 L1386.4 309.9 L1386.8 295.1 L1387.2 281.1 L1387.6 302.8 L1388.0 292.5 L1388.3 287.7 L1388.7 288.2 L1389.1 304.6 L1389.5 316.4 L1389.9 288.7 L1390.3 304.8 L1390.7 302.6 L1391.1 303.8 L1391.5 306.0 L1391.9 293.1 L1392.3 290.4 L1392.7 291.9 L1393.1 300.5 L1393.5 297.9 L1393.8 307.5 L1394.2 293.0 L1394.6 306.9 L1395.0 315.1 L1395.4 302.6 L1395.8 309.2 L1396.2 287.9 L1396.6 298.9 L1397.0 299.3 L1397.4 289.9 L1397.8 313.1 L1398.2 307.6 L1398.6 292.7 L1399.0 309.1 L1399.3 306.6 L1399.7 303.0 L1400.1 307.9 L1400.5 309.9 L1400.9 308.3 L1401.3 307.9 L1401.7 299.3 L1402.1 287.3 L1402.5 317.0 L1402.9 315.6 L1403.3 318.4 L1403.7 308.4 L1404.1 310.3 L1404.4 298.8 L1404.8 315.4 L1405.2 307.9 L1405.6 309.1 L1406.0 303.2 L1406.4 302.9 L1406.8 301.7 L1407.2 300.4 L1407.6 296.2 L1408.0 299.2 L1408.4 303.4 L1408.8 297.6 L1409.2 305.2 L1409.6 301.9 L1409.9 301.5 L1410.3 298.6 L1410.7 305.8 L1411.1 318.8 L1411.5 307.3 L1411.9 303.7 L1412.3 307.8 L1412.7 305.4 L1413.1 307.5 L1413.5 297.1 L1413.9 300.4 L1414.3 305.1 L1414.7 293.8 L1415.1 301.8 L1415.4 287.5 L1415.8 284.8 L1416.2 300.0 L1416.6 285.8 L1417.0 290.3 L1417.4 296.3 L1417.8 299.1 L1418.2 310.5 L1418.6 317.6 L1419.0 303.4 L1419.4 290.9 L1419.8 305.1 L1420.2 301.1 L1420.5 295.3 L1420.9 309.6 L1421.3 284.9 L1421.7 300.9 L1422.1 287.9 L1422.5 307.1 L1422.9 304.7 L1423.3 292.6 L1423.7 296.2 L1424.1 291.3 L1424.5 303.2 L1424.9 297.7 L1425.3 292.7 L1425.7 305.3 L1426.0 289.3 L1426.4 295.4 L1426.8 290.6 L1427.2 309.3 L1427.6 285.5 L1428.0 304.7 L1428.4 298.8 L1428.8 291.4 L1429.2 300.8 L1429.6 307.0 L1430.0 294.3 L1430.4 276.0 L1430.8 283.7 L1431.2 289.5 L1431.5 296.1 L1431.9 301.0 L1432.3 294.3 L1432.7 296.2 L1433.1 304.5 L1433.5 291.1 L1433.9 298.4 L1434.3 297.4 L1434.7 296.8 L1435.1 297.8 L1435.5 293.2 L1435.9 302.4 L1436.3 284.8 L1436.6 291.3 L1437.0 297.3 L1437.4 308.1 L1437.8 295.9 L1438.2 312.9 L1438.6 295.3 L1439.0 308.2 L1439.4 297.5 L1439.8 300.7 L1440.2 290.4 L1440.6 309.9 L1441.0 324.1 L1441.4 294.9 L1441.8 308.1 L1442.1 302.3 L1442.5 300.9 L1442.9 298.4 L1443.3 295.1 L1443.7 305.4 L1444.1 306.1 L1444.5 293.0 L1444.9 290.8 L1445.3 288.6 L1445.7 299.1 L1446.1 299.9 L1446.5 302.3 L1446.9 295.8 L1447.3 280.1 L1447.6 311.2 L1448.0 309.1 L1448.4 292.0 L1448.8 299.4 L1449.2 310.0 L1449.6 303.2 L1450.0 290.9 L1450.4 311.2 L1450.8 305.2 L1451.2 303.2 L1451.6 306.2 L1452.0 308.4 L1452.4 318.5 L1452.7 315.0 L1453.1 304.5 L1453.5 312.2 L1453.9 323.6 L1454.3 303.3 L1454.7 315.4 L1455.1 319.0 L1455.5 296.9 L1455.9 300.0 L1456.3 299.8 L1456.7 301.3 L1457.1 299.0 L1457.5 289.4 L1457.9 295.9 L1458.2 310.4 L1458.6 309.8 L1459.0 300.8 L1459.4 305.4 L1459.8 305.3 L1460.2 317.3 L1460.6 323.0 L1461.0 322.6 L1461.4 315.8 L1461.8 321.7 L1462.2 322.7 L1462.6 322.5 L1463.0 313.7 L1463.4 310.7 L1463.7 300.2 L1464.1 319.5 L1464.5 316.7 L1464.9 314.0 L1465.3 307.3 L1465.7 296.8 L1466.1 301.8 L1466.5 317.4 L1466.9 310.5 L1467.3 301.6 L1467.7 305.9 L1468.1 298.0 L1468.5 310.5 L1468.8 305.3 L1469.2 302.9 L1469.6 293.5 L1470.0 296.4 L1470.4 301.1 L1470.8 314.7 L1471.2 295.0 L1471.6 305.8 L1472.0 317.5 L1472.4 307.8 L1472.8 303.3 L1473.2 310.8 L1473.6 303.5 L1474.0 316.5 L1474.3 290.4 L1474.7 307.7 L1475.1 301.9 L1475.5 316.2 L1475.9 317.2 L1476.3 303.1 L1476.7 309.8 L1477.1 308.4 L1477.5 300.1 L1477.9 301.3 L1478.3 303.6 L1478.7 298.9 L1479.1 297.0 L1479.5 303.0 L1479.8 298.8 L1480.2 301.1 L1480.6 299.8 L1481.0 310.0 L1481.4 289.2 L1481.8 300.2 L1482.2 289.0 L1482.6 287.0 L1483.0 297.8 L1483.4 280.3 L1483.8 303.8 L1484.2 296.4 L1484.6 296.8 L1484.9 301.5 L1485.3 295.2 L1485.7 294.2 L1486.1 295.6 L1486.5 294.5 L1486.9 293.5 L1487.3 290.8 L1487.7 290.7 L1488.1 290.3 L1488.5 287.6 L1488.9 276.1 L1489.3 296.1 L1489.7 303.1 L1490.1 290.0 L1490.4 286.0 L1490.8 287.0 L1491.2 281.7 L1491.6 295.5 L1492.0 264.5 L1492.4 277.4 L1492.8 282.8 L1493.2 299.0 L1493.6 278.2 L1494.0 291.3 L1494.4 302.9 L1494.8 283.1 L1495.2 281.9 L1495.6 298.4 L1495.9 276.8 L1496.3 294.8 L1496.7 288.4 L1497.1 297.5 L1497.5 302.8 L1497.9 297.5 L1498.3 304.6 L1498.7 296.5 L1499.1 292.3 L1499.5 323.5 L1499.9 295.7 L1500.3 313.6 L1500.7 287.4 L1501.0 303.0 L1501.4 301.7 L1501.8 305.3 L1502.2 295.1 L1502.6 302.8 L1503.0 300.1 L1503.4 301.2 L1503.8 290.6 L1504.2 302.6 L1504.6 307.0 L1505.0 303.8 L1505.4 306.7 L1505.8 306.3 L1506.2 315.9 L1506.5 305.0 L1506.9 317.4 L1507.3 311.6 L1507.7 297.0 L1508.1 316.6 L1508.5 316.9 L1508.9 312.0 L1509.3 299.5 L1509.7 301.8 L1510.1 306.4 L1510.5 296.5 L1510.9 293.0 L1511.3 320.3 L1511.7 309.4 L1512.0 317.7 L1512.4 304.7 L1512.8 315.0 L1513.2 298.7 L1513.6 322.4 L1514.0 310.4 L1514.4 306.9 L1514.8 295.6 L1515.2 296.0 L1515.6 291.4 L1516.0 296.9 L1516.4 299.2 L1516.8 307.5 L1517.2 313.6 L1517.5 297.4 L1517.9 313.1 L1518.3 310.8 L1518.7 285.3 L1519.1 288.5 L1519.5 306.7 L1519.9 295.6 L1520.3 294.1 L1520.7 307.2 L1521.1 298.0 L1521.5 294.6 L1521.9 309.5 L1522.3 299.8 L1522.6 310.6 L1523.0 306.1 L1523.4 314.8 L1523.8 308.5 L1524.2 295.0 L1524.6 307.2 L1525.0 297.7 L1525.4 296.6 L1525.8 306.8 L1526.2 306.5 L1526.6 307.6 L1527.0 308.2 L1527.4 315.9 L1527.8 320.4 L1528.1 292.9 L1528.5 305.4 L1528.9 307.3 L1529.3 302.1 L1529.7 304.7 L1530.1 305.4 L1530.5 286.7 L1530.9 307.7 L1531.3 306.7 L1531.7 307.6 L1532.1 307.4 L1532.5 294.4 L1532.9 314.9 L1533.3 299.4 L1533.6 316.8 L1534.0 289.1 L1534.4 307.7 L1534.8 301.3 L1535.2 315.3 L1535.6 308.2 L1536.0 314.7 L1536.4 302.4 L1536.8 299.5 L1537.2 316.5 L1537.6 305.0 L1538.0 304.9 L1538.4 300.0 L1538.7 298.9 L1539.1 294.8 L1539.5 298.0 L1539.9 303.9 L1540.3 295.8 L1540.7 297.2 L1541.1 305.0 L1541.5 284.1 L1541.9 299.4 L1542.3 309.2 L1542.7 304.2 L1543.1 309.0 L1543.5 310.2 L1543.9 296.1 L1544.2 307.6 L1544.6 307.0 L1545.0 307.6 L1545.4 302.4 L1545.8 301.9 L1546.2 298.2 L1546.6 286.9 L1547.0 305.1 L1547.4 307.1 L1547.8 306.4 L1548.2 301.9 L1548.6 310.1 L1549.0 303.3 L1549.4 301.9 L1549.7 313.0 L1550.1 308.6 L1550.5 306.5 L1550.9 315.6 L1551.3 314.8 L1551.7 306.3 L1552.1 306.4 L1552.5 299.9 L1552.9 288.6 L1553.3 293.8 L1553.7 294.8 L1554.1 303.1 L1554.5 288.6 L1554.8 307.2 L1555.2 298.7 L1555.6 312.0 L1556.0 301.4 L1556.4 294.2 L1556.8 296.8 L1557.2 296.5 L1557.6 290.0 L1558.0 306.7 L1558.4 301.4 L1558.8 303.9 L1559.2 321.6 L1559.6 330.4 L1560.0 293.1 L1560.3 285.4 L1560.7 309.4 L1561.1 301.5 L1561.5 294.2 L1561.9 286.0 L1562.3 288.6 L1562.7 296.3 L1563.1 295.5 L1563.5 297.3 L1563.9 299.9 L1564.3 283.5 L1564.7 277.8 L1565.1 278.7 L1565.5 291.7 L1565.8 292.5 L1566.2 294.1 L1566.6 288.9 L1567.0 291.3 L1567.4 292.1 L1567.8 296.2 L1568.2 306.5 L1568.6 304.9 L1569.0 292.3 L1569.4 293.0 L1569.8 294.6 L1570.2 301.0 L1570.6 290.3 L1570.9 284.3 L1571.3 286.6 L1571.7 286.4 L1572.1 293.0 L1572.5 305.8 L1572.9 292.7 L1573.3 298.7 L1573.7 283.1 L1574.1 285.0 L1574.5 280.7 L1574.9 291.0 L1575.3 301.9 L1575.7 308.9 L1576.1 305.7 L1576.4 300.3 L1576.8 294.6 L1577.2 296.8 L1577.6 295.2 L1578.0 309.1 L1578.4 302.3 L1578.8 301.1 L1579.2 305.4 L1579.6 311.1 L1580.0 299.9 L1580.4 300.5 L1580.8 307.3 L1581.2 309.7 L1581.6 293.0 L1581.9 297.8 L1582.3 314.4 L1582.7 296.5 L1583.1 297.0 L1583.5 303.7 L1583.9 303.0 L1584.3 303.5 L1584.7 295.0 L1585.1 300.2 L1585.5 303.6 L1585.9 311.6 L1586.3 295.2 L1586.7 300.1 L1587.0 311.8 L1587.4 311.9 L1587.8 311.3 L1588.2 306.2 L1588.6 305.4 L1589.0 299.7 L1589.4 316.2 L1589.8 298.8 L1590.2 316.6 L1590.6 312.9 L1591.0 296.8 L1591.4 293.4 L1591.8 310.0 L1592.2 306.2 L1592.5 300.0 L1592.9 287.5 L1593.3 310.4 L1593.7 310.8 L1594.1 298.8 L1594.5 306.8 L1594.9 311.1 L1595.3 304.8 L1595.7 305.5 L1596.1 298.0 L1596.5 319.1 L1596.9 312.5 L1597.3 322.9 L1597.7 312.4 L1598.0 311.7 L1598.4 314.9 L1598.8 304.1 L1599.2 311.9 L1599.6 299.2 L1600.0 318.4 L1600.4 317.0 L1600.8 315.9 L1601.2 300.3 L1601.6 304.2 L1602.0 311.4 L1602.4 307.5 L1602.8 316.9 L1603.1 315.0 L1603.5 306.5 L1603.9 305.6 L1604.3 311.2 L1604.7 297.2 L1605.1 311.7 L1605.5 319.0 L1605.9 314.3 L1606.3 314.7 L1606.7 302.3 L1607.1 318.4 L1607.5 305.8 L1607.9 314.2 L1608.3 291.7 L1608.6 312.6 L1609.0 308.8 L1609.4 319.9 L1609.8 309.2 L1610.2 313.3 L1610.6 307.8 L1611.0 312.9 L1611.4 314.3 L1611.8 319.0 L1612.2 305.4 L1612.6 305.5 L1613.0 307.9 L1613.4 308.3 L1613.8 318.3 L1614.1 294.4 L1614.5 308.8 L1614.9 297.2 L1615.3 308.3 L1615.7 317.8 L1616.1 309.4 L1616.5 308.8 L1616.9 311.7 L1617.3 318.4 L1617.7 312.8 L1618.1 311.1 L1618.5 316.4 L1618.9 316.9 L1619.2 311.1 L1619.6 311.2 L1620.0 322.7 L1620.4 301.8 L1620.8 312.2 L1621.2 306.7 L1621.6 313.3 L1622.0 309.9 L1622.4 305.7 L1622.8 302.4 L1623.2 305.5 L1623.6 297.8 L1624.0 320.8 L1624.4 308.9 L1624.7 310.7 L1625.1 305.4 L1625.5 313.5 L1625.9 302.3 L1626.3 300.9 L1626.7 320.3 L1627.1 311.6 L1627.5 300.5 L1627.9 316.0 L1628.3 317.7 L1628.7 302.9 L1629.1 315.0 L1629.5 311.2 L1629.9 296.3 L1630.2 306.1 L1630.6 312.5 L1631.0 301.6 L1631.4 308.8 L1631.8 301.1 L1632.2 315.8 L1632.6 308.5 L1633.0 305.4 L1633.4 315.4 L1633.8 317.7 L1634.2 311.1 L1634.6 308.6 L1635.0 309.8 L1635.3 304.6 L1635.7 301.5 L1636.1 293.5 L1636.5 316.3 L1636.9 307.2 L1637.3 317.1 L1637.7 312.5 L1638.1 318.3 L1638.5 296.3 L1638.9 321.6 L1639.3 305.4 L1639.7 317.7 L1640.1 295.9 L1640.5 306.5 L1640.8 317.4 L1641.2 308.7 L1641.6 309.8 L1642.0 309.6 L1642.4 312.6 L1642.8 325.8 L1643.2 309.1 L1643.6 307.0 L1644.0 306.3 L1644.4 310.9 L1644.8 320.0 L1645.2 320.6 L1645.6 312.0 L1646.0 309.4 L1646.3 321.6 L1646.7 325.7 L1647.1 331.4 L1647.5 331.2 L1647.9 312.5 L1648.3 323.5 L1648.7 317.4 L1649.1 314.7 L1649.5 314.8 L1649.9 317.8 L1650.3 314.1 L1650.7 309.2 L1651.1 309.1 L1651.4 299.6 L1651.8 292.3 L1652.2 315.1 L1652.6 308.0 L1653.0 307.1 L1653.4 312.1 L1653.8 297.1 L1654.2 309.5 L1654.6 305.9 L1655.0 313.1 L1655.4 303.8 L1655.8 306.6 L1656.2 284.7 L1656.6 298.4 L1656.9 303.9 L1657.3 300.0 L1657.7 304.6 L1658.1 294.8 L1658.5 312.7 L1658.9 309.8 L1659.3 301.3 L1659.7 309.2 L1660.1 295.4 L1660.5 308.5 L1660.9 302.2 L1661.3 294.2 L1661.7 300.0 L1662.1 304.9 L1662.4 321.4 L1662.8 293.9 L1663.2 314.3 L1663.6 306.6 L1664.0 297.4 L1664.4 299.7 L1664.8 304.4 L1665.2 304.5 L1665.6 301.9 L1666.0 302.7 L1666.4 302.6 L1666.8 297.5 L1667.2 304.9 L1667.5 289.5 L1667.9 309.0 L1668.3 292.2 L1668.7 300.8 L1669.1 292.8 L1669.5 306.2 L1669.9 310.7 L1670.3 295.5 L1670.7 297.2 L1671.1 315.4 L1671.5 291.8 L1671.9 294.5 L1672.3 308.2 L1672.7 285.2 L1673.0 298.0 L1673.4 285.2 L1673.8 279.0 L1674.2 289.0 L1674.6 290.8 L1675.0 285.0 L1675.4 295.7"/>
<path stroke="#abd9e9" d="M241.7 324.9 L242.1 316.3 L242.5 302.5 L242.9 307.4 L243.3 313.9 L243.7 311.1 L244.1 319.1 L244.4 310.8 L244.8 327.0 L245.2 328.3 L245.6 316.6 L246.0 318.8 L246.4 315.4 L246.8 320.2 L247.2 305.0 L247.6 302.1 L248.0 303.7 L248.4 306.7 L248.8 308.4 L249.2 310.0 L249.6 316.6 L249.9 313.2 L250.3 320.3 L250.7 325.2 L251.1 309.5 L251.5 307.0 L251.9 318.1 L252.3 307.9 L252.7 303.8 L253.1 308.8 L253.5 298.3 L253.9 314.4 L254.3 313.0 L254.7 306.3 L255.0 308.3 L255.4 301.7 L255.8 304.4 L256.2 303.9 L256.6 301.1 L257.0 294.3 L257.4 307.7 L257.8 311.0 L258.2 294.9 L258.6 304.1 L259.0 301.5 L259.4 308.6 L259.8 304.2 L260.2 309.1 L260.5 311.6 L260.9 294.5 L261.3 301.1 L261.7 299.2 L262.1 305.5 L262.5 298.5 L262.9 306.1 L263.3 315.9 L263.7 305.5 L264.1 297.2 L264.5 301.0 L264.9 299.1 L265.3 298.6 L265.7 293.8 L266.0 296.1 L266.4 290.4 L266.8 293.1 L267.2 305.1 L267.6 294.8 L268.0 299.0 L268.4 311.2 L268.8 303.2 L269.2 287.4 L269.6 298.7 L270.0 300.6 L270.4 304.9 L270.8 297.8 L271.1 298.0 L271.5 317.2 L271.9 291.2 L272.3 296.0 L272.7 301.1 L273.1 306.3 L273.5 305.2 L273.9 293.3 L274.3 299.5 L274.7 300.9 L275.1 300.9 L275.5 296.5 L275.9 298.7 L276.3 303.0 L276.6 304.7 L277.0 303.6 L277.4 304.7 L277.8 306.7 L278.2 312.2 L278.6 288.2 L279.0 305.0 L279.4 301.9 L279.8 308.0 L280.2 301.7 L280.6 299.9 L281.0 289.5 L281.4 296.8 L281.8 299.0 L282.1 299.8 L282.5 306.5 L282.9 322.2 L283.3 297.2 L283.7 297.2 L284.1 315.6 L284.5 305.7 L284.9 308.3 L285.3 313.6 L285.7 305.7 L286.1 308.1 L286.5 305.1 L286.9 306.8 L287.2 316.8 L287.6 310.3 L288.0 321.1 L288.4 302.4 L288.8 303.9 L289.2 314.3 L289.6 290.8 L290.0 318.7 L290.4 318.1 L290.8 306.9 L291.2 320.6 L291.6 317.2 L292.0 315.3 L292.4 329.5 L292.7 317.1 L293.1 319.5 L293.5 299.3 L293.9 312.5 L294.3 301.4 L294.7 309.9 L295.1 308.6 L295.5 309.0 L295.9 307.8 L296.3 317.7 L296.7 304.2 L297.1 309.9 L297.5 302.4 L297.9 305.8 L298.2 320.2 L298.6 310.1 L299.0 315.1 L299.4 310.7 L299.8 315.1 L300.2 310.4 L300.6 314.7 L301.0 319.5 L301.4 317.5 L301.8 323.6 L302.2 329.4 L302.6 309.0 L303.0 324.6 L303.3 317.6 L303.7 323.1 L304.1 322.8 L304.5 318.7 L304.9 311.9 L305.3 316.9 L305.7 309.4 L306.1 302.6 L306.5 308.3 L306.9 317.7 L307.3 307.9 L307.7 305.7 L308.1 320.8 L308.5 311.7 L308.8 307.9 L309.2 315.0 L309.6 317.4 L310.0 318.5 L310.4 316.3 L310.8 328.0 L311.2 316.0 L311.6 315.7 L312.0 310.4 L312.4 314.9 L312.8 315.9 L313.2 319.1 L313.6 313.3 L314.0 299.1 L314.3 307.5 L314.7 308.1 L315.1 313.3 L315.5 311.4 L315.9 312.0 L316.3 315.3 L316.7 315.8 L317.1 314.8 L317.5 320.7 L317.9 334.3 L318.3 315.1 L318.7 316.4 L319.1 325.8 L319.4 312.6 L319.8 314.5 L320.2 305.3 L320.6 322.4 L321.0 301.7 L321.4 311.9 L321.8 317.5 L322.2 314.6 L322.6 316.8 L323.0 308.2 L323.4 320.3 L323.8 308.5 L324.2 305.2 L324.6 322.3 L324.9 323.8 L325.3 314.1 L325.7 312.5 L326.1 303.1 L326.5 308.0 L326.9 310.5 L327.3 315.6 L327.7 312.6 L328.1 309.8 L328.5 320.8 L328.9 308.6 L329.3 308.2 L329.7 306.2 L330.1 306.4 L330.4 314.9 L330.8 308.1 L331.2 307.5 L331.6 296.6 L332.0 290.5 L332.4 304.1 L332.8 309.0 L333.2 304.1 L333.6 303.8 L334.0 300.8 L334.4 303.3 L334.8 301.2 L335.2 302.3 L335.5 308.3 L335.9 307.0 L336.3 297.6 L336.7 291.3 L337.1 289.0 L337.5 297.6 L337.9 296.3 L338.3 278.3 L338.7 301.3 L339.1 295.9 L339.5 295.0 L339.9 314.7 L340.3 290.4 L340.7 297.9 L341.0 292.5 L341.4 294.0 L341.8 297.9 L342.2 293.7 L342.6 300.4 L343.0 308.6 L343.4 302.0 L343.8 304.8 L344.2 293.3 L344.6 299.1 L345.0 285.8 L345.4 302.3 L345.8 293.9 L346.2 301.9 L346.5 295.9 L346.9 306.4 L347.3 290.5 L347.7 289.7 L348.1 307.2 L348.5 299.1 L348.9 294.0 L349.3 286.4 L349.7 287.9 L350.1 298.0 L350.5 297.7 L350.9 290.3 L351.3 292.0 L351.6 290.2 L352.0 289.2 L352.4 289.7 L352.8 288.8 L353.2 297.8 L353.6 299.9 L354.0 290.0 L354.4 288.2 L354.8 294.3 L355.2 285.5 L355.6 282.8 L356.0 291.8 L356.4 298.5 L356.8 314.9 L357.1 293.2 L357.5 304.1 L357.9 297.5 L358.3 300.4 L358.7 293.1 L359.1 287.1 L359.5 291.9 L359.9 300.7 L360.3 305.5 L360.7 301.8 L361.1 293.7 L361.5 304.3 L361.9 303.7 L362.3 297.7 L362.6 293.6 L363.0 319.0 L363.4 294.9 L363.8 310.5 L364.2 305.9 L364.6 305.4 L365.0 315.7 L365.4 306.9 L365.8 307.3 L366.2 295.2 L366.6 305.0 L367.0 312.3 L367.4 296.5 L367.7 310.0 L368.1 310.7 L368.5 306.3 L368.9 302.3 L369.3 305.6 L369.7 302.3 L370.1 320.4 L370.5 311.8 L370.9 307.3 L371.3 307.3 L371.7 287.6 L372.1 312.0 L372.5 303.3 L372.9 291.4 L373.2 296.9 L373.6 321.0 L374.0 307.0 L374.4 304.5 L374.8 303.0 L375.2 317.4 L375.6 311.3 L376.0 313.5 L376.4 315.1 L376.8 297.5 L377.2 318.2 L377.6 309.3 L378.0 302.2 L378.4 310.5 L378.7 314.3 L379.1 324.9 L379.5 318.2 L379.9 294.3 L380.3 303.7 L380.7 313.1 L381.1 313.0 L381.5 316.1 L381.9 317.5 L382.3 317.8 L382.7 314.1 L383.1 318.3 L383.5 319.9 L383.8 310.0 L384.2 313.0 L384.6 315.7 L385.0 306.5 L385.4 311.6 L385.8 303.1 L386.2 310.9 L386.6 311.9 L387.0 321.3 L387.4 320.1 L387.8 313.3 L388.2 306.2 L388.6 308.8 L389.0 315.9 L389.3 308.3 L389.7 309.2 L390.1 310.2 L390.5 304.3 L390.9 314.9 L391.3 332.6 L391.7 319.1 L392.1 319.5 L392.5 311.6 L392.9 311.7 L393.3 314.3 L393.7 314.8 L394.1 323.6 L394.5 318.1 L394.8 301.8 L395.2 308.1 L395.6 313.9 L396.0 313.2 L396.4 325.6 L396.8 300.7 L397.2 309.4 L397.6 315.7 L398.0 313.9 L398.4 306.4 L398.8 313.7 L399.2 292.3 L399.6 312.7 L399.9 308.3 L400.3 293.3 L400.7 293.6 L401.1 292.5 L401.5 307.8 L401.9 307.1 L402.3 296.4 L402.7 295.6 L403.1 309.5 L403.5 290.9 L403.9 301.8 L404.3 308.1 L404.7 311.5 L405.1 301.1 L405.4 307.0 L405.8 298.5 L406.2 307.6 L406.6 316.7 L407.0 306.7 L407.4 314.0 L407.8 307.3 L408.2 298.1 L408.6 297.9 L409.0 313.6 L409.4 296.3 L409.8 297.4 L410.2 307.5 L410.6 313.1 L410.9 308.2 L411.3 315.2 L411.7 301.1 L412.1 304.0 L412.5 305.5 L412.9 301.5 L413.3 313.4 L413.7 307.6 L414.1 301.4 L414.5 305.7 L414.9 295.2 L415.3 309.2 L415.7 306.9 L416.1 303.9 L416.4 307.3 L416.8 306.2 L417.2 309.1 L417.6 306.6 L418.0 314.2 L418.4 299.7 L418.8 305.3 L419.2 300.7 L419.6 309.6 L420.0 297.6 L420.4 292.8 L420.8 299.5 L421.2 296.5 L421.5 297.3 L421.9 307.4 L422.3 310.5 L422.7 306.6 L423.1 307.8 L423.5 306.4 L423.9 312.1 L424.3 304.8 L424.7 301.8 L425.1 310.3 L425.5 301.7 L425.9 311.4 L426.3 303.0 L426.7 299.0 L427.0 310.7 L427.4 319.6 L427.8 297.4 L428.2 322.1 L428.6 316.8 L429.0 307.1 L429.4 312.0 L429.8 301.8 L430.2 294.4 L430.6 302.3 L431.0 295.2 L431.4 292.8 L431.8 289.7 L432.2 308.8 L432.5 306.5 L432.9 295.0 L433.3 289.3 L433.7 302.2 L434.1 294.5 L434.5 287.4 L434.9 292.8 L435.3 294.1 L435.7 289.6 L436.1 283.2 L436.5 304.6 L436.9 287.6 L437.3 284.4 L437.6 305.4 L438.0 295.4 L438.4 296.1 L438.8 289.4 L439.2 295.0 L439.6 283.6 L440.0 284.8 L440.4 284.5 L440.8 293.1 L441.2 284.6 L441.6 303.6 L442.0 291.8 L442.4 290.8 L442.8 291.1 L443.1 302.8 L443.5 288.9 L443.9 287.3 L444.3 290.0 L444.7 302.4 L445.1 298.4 L445.5 297.8 L445.9 294.8 L446.3 302.4 L446.7 295.6 L447.1 289.5 L447.5 318.2 L447.9 304.7 L448.3 289.6 L448.6 297.5 L449.0 296.3 L449.4 299.6 L449.8 311.5 L450.2 308.8 L450.6 305.0 L451.0 315.3 L451.4 308.9 L451.8 313.0 L452.2 296.5 L452.6 305.5 L453.0 314.8 L453.4 304.7 L453.7 297.8 L454.1 306.7 L454.5 305.3 L454.9 298.1 L455.3 295.7 L455.7 299.6 L456.1 302.3 L456.5 311.6 L456.9 305.1 L457.3 311.1 L457.7 312.8 L458.1 305.8 L458.5 311.4 L458.9 310.1 L459.2 311.9 L459.6 303.5 L460.0 315.3 L460.4 307.6 L460.8 306.8 L461.2 311.7 L461.6 307.1 L462.0 308.1 L462.4 305.7 L462.8 312.8 L463.2 334.4 L463.6 314.8 L464.0 309.9 L464.4 305.0 L464.7 314.4 L465.1 312.9 L465.5 311.1 L465.9 310.7 L466.3 303.9 L466.7 305.0 L467.1 301.1 L467.5 301.7 L467.9 305.8 L468.3 306.5 L468.7 299.5 L469.1 307.7 L469.5 310.6 L469.8 300.1 L470.2 308.9 L470.6 297.2 L471.0 301.3 L471.4 301.9 L471.8 301.5 L472.2 302.8 L472.6 306.3 L473.0 305.9 L473.4 306.1 L473.8 302.9 L474.2 299.0 L474.6 307.5 L475.0 297.7 L475.3 300.1 L475.7 312.0 L476.1 298.7 L476.5 300.6 L476.9 295.4 L477.3 299.4 L477.7 296.5 L478.1 307.1 L478.5 297.8 L478.9 304.0 L479.3 307.8 L479.7 302.1 L480.1 310.1 L480.5 291.1 L480.8 295.7 L481.2 302.0 L481.6 301.4 L482.0 297.4 L482.4 293.7 L482.8 293.3 L483.2 293.4 L483.6 302.9 L484.0 291.1 L484.4 297.0 L484.8 303.2 L485.2 284.8 L485.6 292.3 L485.9 296.1 L486.3 281.0 L486.7 284.3 L487.1 286.1 L487.5 290.0 L487.9 289.8 L488.3 288.3 L488.7 303.4 L489.1 298.4 L489.5 296.2 L489.9 299.5 L490.3 301.7 L490.7 299.4 L491.1 282.0 L491.4 299.0 L491.8 287.7 L492.2 296.0 L492.6 276.2 L493.0 293.8 L493.4 274.7 L493.8 291.6 L494.2 307.1 L494.6 276.2 L495.0 292.7 L495.4 292.6 L495.8 290.4 L496.2 297.0 L496.6 284.5 L496.9 292.2 L497.3 290.1 L497.7 278.4 L498.1 282.2 L498.5 290.1 L498.9 276.9 L499.3 298.4 L499.7 294.6 L500.1 302.0 L500.5 290.6 L500.9 294.7 L501.3 293.3 L501.7 294.1 L502.0 304.9 L502.4 303.4 L502.8 298.0 L503.2 289.1 L503.6 306.7 L504.0 306.0 L504.4 299.5 L504.8 307.2 L505.2 301.9 L505.6 304.1 L506.0 300.1 L506.4 295.8 L506.8 299.9 L507.2 304.7 L507.5 304.7 L507.9 307.2 L508.3 321.1 L508.7 294.7 L509.1 282.4 L509.5 297.0 L509.9 287.0 L510.3 309.2 L510.7 303.8 L511.1 301.5 L511.5 301.8 L511.9 297.8 L512.3 305.1 L512.7 299.1 L513.0 304.1 L513.4 298.6 L513.8 323.1 L514.2 313.8 L514.6 307.4 L515.0 305.5 L515.4 314.1 L515.8 300.0 L516.2 305.7 L516.6 305.0 L517.0 298.2 L517.4 297.4 L517.8 307.3 L518.1 320.7 L518.5 303.0 L518.9 305.0 L519.3 319.6 L519.7 300.5 L520.1 304.6 L520.5 290.2 L520.9 308.4 L521.3 295.5 L521.7 309.5 L522.1 318.3 L522.5 303.5 L522.9 303.5 L523.3 307.3 L523.6 296.7 L524.0 295.0 L524.4 300.1 L524.8 319.9 L525.2 302.7 L525.6 305.3 L526.0 303.0 L526.4 297.3 L526.8 294.9 L527.2 289.1 L527.6 295.9 L528.0 289.2 L528.4 300.2 L528.8 293.2 L529.1 300.4 L529.5 291.2 L529.9 312.9 L530.3 326.3 L530.7 311.9 L531.1 307.4 L531.5 324.4 L531.9 305.3 L532.3 301.5 L532.7 311.1 L533.1 304.9 L533.5 309.2 L533.9 303.4 L534.2 304.8 L534.6 305.2 L535.0 305.5 L535.4 299.8 L535.8 296.6 L536.2 298.9 L536.6 301.1 L537.0 302.7 L537.4 312.8 L537.8 311.3 L538.2 305.0 L538.6 300.3 L539.0 317.7 L539.4 307.2 L539.7 311.4 L540.1 293.6 L540.5 300.6 L540.9 298.4 L541.3 307.5 L541.7 309.0 L542.1 301.6 L542.5 304.1 L542.9 308.2 L543.3 308.5 L543.7 311.4 L544.1 291.4 L544.5 294.5 L544.9 304.6 L545.2 299.5 L545.6 312.2 L546.0 305.5 L546.4 299.7 L546.8 300.2 L547.2 307.2 L547.6 310.2 L548.0 308.1 L548.4 312.2 L548.8 298.4 L549.2 302.0 L549.6 311.8 L550.0 311.6 L550.3 304.5 L550.7 303.5 L551.1 301.9 L551.5 299.0 L551.9 302.0 L552.3 304.4 L552.7 304.6 L553.1 302.8 L553.5 289.0 L553.9 300.5 L554.3 298.2 L554.7 299.8 L555.1 302.0 L555.5 303.1 L555.8 297.9 L556.2 303.1 L556.6 297.8 L557.0 285.6 L557.4 293.9 L557.8 310.9 L558.2 300.5 L558.6 303.7 L559.0 317.6 L559.4 298.0 L559.8 298.6 L560.2 304.3 L560.6 293.4 L561.0 298.4 L561.3 302.4 L561.7 302.3 L562.1 303.6 L562.5 297.1 L562.9 292.8 L563.3 301.7 L563.7 308.4 L564.1 295.7 L564.5 300.3 L564.9 313.0 L565.3 289.3 L565.7 301.6 L566.1 295.7 L566.5 301.3 L566.8 308.6 L567.2 300.7 L567.6 303.2 L568.0 296.7 L568.4 288.6 L568.8 295.3 L569.2 303.0 L569.6 304.9 L570.0 304.0 L570.4 300.3 L570.8 298.6 L571.2 299.0 L571.6 303.5 L571.9 300.2 L572.3 306.1 L572.7 289.4 L573.1 289.7 L573.5 289.8 L573.9 300.1 L574.3 292.3 L574.7 295.6 L575.1 293.9 L575.5 302.6 L575.9 306.6 L576.3 288.4 L576.7 302.9 L577.1 293.6 L577.4 298.3 L577.8 313.5 L578.2 303.5 L578.6 300.6 L579.0 323.8 L579.4 298.7 L579.8 301.7 L580.2 302.2 L580.6 312.4 L581.0 298.4 L581.4 305.1 L581.8 299.4 L582.2 310.5 L582.6 307.9 L582.9 286.0 L583.3 308.6 L583.7 302.6 L584.1 305.3 L584.5 314.9 L584.9 311.4 L585.3 312.0 L585.7 306.8 L586.1 317.0 L586.5 302.8 L586.9 305.0 L587.3 294.7 L587.7 304.6 L588.0 306.7 L588.4 312.5 L588.8 316.7 L589.2 301.0 L589.6 318.4 L590.0 298.4 L590.4 315.4 L590.8 316.9 L591.2 323.3 L591.6 300.8 L592.0 310.5 L592.4 326.1 L592.8 332.1 L593.2 313.3 L593.5 324.7 L593.9 304.9 L594.3 334.3 L594.7 321.0 L595.1 320.3 L595.5 322.9 L595.9 313.3 L596.3 330.8 L596.7 307.3 L597.1 323.6 L597.5 316.8 L597.9 318.3 L598.3 324.1 L598.7 329.1 L599.0 347.6 L599.4 317.9 L599.8 318.5 L600.2 308.9 L600.6 325.9 L601.0 323.6 L601.4 328.2 L601.8 331.8 L602.2 314.0 L602.6 326.3 L603.0 313.8 L603.4 328.6 L603.8 326.2 L604.1 327.1 L604.5 325.8 L604.9 324.6 L605.3 316.1 L605.7 331.8 L606.1 316.4 L606.5 314.6 L606.9 321.4 L607.3 307.3 L607.7 310.0 L608.1 321.7 L608.5 328.2 L608.9 316.1 L609.3 318.5 L609.6 319.8 L610.0 311.7 L610.4 322.9 L610.8 308.9 L611.2 312.0 L611.6 310.4 L612.0 312.7 L612.4 323.0 L612.8 309.8 L613.2 311.0 L613.6 311.8 L614.0 308.2 L614.4 324.3 L614.8 307.6 L615.1 320.7 L615.5 299.8 L615.9 317.9 L616.3 309.0 L616.7 321.0 L617.1 306.7 L617.5 321.1 L617.9 309.5 L618.3 305.0 L618.7 306.7 L619.1 323.1 L619.5 311.3 L619.9 309.8 L620.2 308.5 L620.6 301.7 L621.0 323.0 L621.4 312.9 L621.8 309.9 L622.2 324.3 L622.6 310.4 L623.0 309.7 L623.4 305.3 L623.8 330.9 L624.2 316.3 L624.6 302.6 L625.0 309.5 L625.4 309.8 L625.7 303.7 L626.1 289.6 L626.5 292.2 L626.9 290.5 L627.3 299.8 L627.7 290.6 L628.1 309.0 L628.5 298.9 L628.9 296.9 L629.3 280.7 L629.7 282.7 L630.1 288.6 L630.5 281.9 L630.9 282.4 L631.2 288.8 L631.6 299.2 L632.0 300.6 L632.4 285.9 L632.8 285.2 L633.2 286.7 L633.6 289.1 L634.0 298.8 L634.4 296.2 L634.8 285.1 L635.2 294.4 L635.6 302.3 L636.0 290.5 L636.3 304.9 L636.7 274.9 L637.1 286.3 L637.5 296.7 L637.9 286.2 L638.3 296.5 L638.7 300.9 L639.1 278.7 L639.5 287.0 L639.9 281.5 L640.3 281.5 L640.7 276.4 L641.1 294.2 L641.5 282.7 L641.8 280.4 L642.2 272.9 L642.6 274.7 L643.0 275.4 L643.4 278.3 L643.8 279.9 L644.2 279.2 L644.6 275.4 L645.0 296.1 L645.4 284.2 L645.8 303.5 L646.2 281.8 L646.6 283.7 L647.0 295.6 L647.3 302.4 L647.7 279.1 L648.1 287.9 L648.5 293.8 L648.9 287.8 L649.3 272.4 L649.7 279.4 L650.1 270.2 L650.5 285.5 L650.9 275.7 L651.3 289.2 L651.7 289.8 L652.1 280.1 L652.4 289.2 L652.8 270.7 L653.2 284.1 L653.6 292.9 L654.0 287.4 L654.4 277.9 L654.8 286.0 L655.2 274.5 L655.6 280.7 L656.0 293.1 L656.4 285.4 L656.8 295.0 L657.2 292.2 L657.6 287.2 L657.9 289.8 L658.3 288.1 L658.7 299.2 L659.1 289.2 L659.5 283.5 L659.9 287.8 L660.3 281.8 L660.7 282.4 L661.1 289.1 L661.5 302.0 L661.9 282.6 L662.3 290.4 L662.7 299.4 L663.1 297.2 L663.4 304.2 L663.8 286.8 L664.2 288.2 L664.6 281.9 L665.0 299.8 L665.4 283.9 L665.8 293.6 L666.2 291.3 L666.6 294.2 L667.0 285.4 L667.4 298.9 L667.8 288.4 L668.2 293.0 L668.5 301.0 L668.9 292.8 L669.3 275.2 L669.7 303.8 L670.1 272.6 L670.5 291.9 L670.9 290.4 L671.3 286.6 L671.7 283.6 L672.1 286.0 L672.5 282.2 L672.9 275.6 L673.3 294.8 L673.7 287.4 L674.0 285.6 L674.4 274.6 L674.8 289.8 L675.2 282.5 L675.6 278.8 L676.0 284.1 L676.4 285.6 L676.8 291.3 L677.2 288.6 L677.6 293.4 L678.0 282.6 L678.4 289.9 L678.8 290.7 L679.2 293.2 L679.5 296.1 L679.9 288.4 L680.3 276.5 L680.7 276.7 L681.1 288.1 L681.5 292.6 L681.9 282.4 L682.3 276.5 L682.7 284.6 L683.1 299.2 L683.5 287.2 L683.9 280.8 L684.3 282.5 L684.6 305.3 L685.0 286.8 L685.4 292.2 L685.8 301.0 L686.2 282.8 L686.6 294.6 L687.0 302.1 L687.4 276.3 L687.8 290.1 L688.2 287.9 L688.6 281.8 L689.0 277.4 L689.4 293.6 L689.8 283.7 L690.1 302.5 L690.5 282.6 L690.9 297.0 L691.3 294.5 L691.7 295.0 L692.1 290.2 L692.5 283.8 L692.9 281.6 L693.3 280.2 L693.7 283.2 L694.1 288.1 L694.5 276.5 L694.9 285.2 L695.3 289.4 L695.6 295.1 L696.0 294.7 L696.4 296.3 L696.8 297.1 L697.2 291.5 L697.6 294.7 L698.0 281.7 L698.4 292.9 L698.8 288.2 L699.2 287.5 L699.6 283.4 L700.0 281.4 L700.4 289.0 L700.7 293.0 L701.1 287.2 L701.5 281.4 L701.9 274.6 L702.3 279.6 L702.7 286.8 L703.1 287.2 L703.5 294.5 L703.9 289.0 L704.3 285.7 L704.7 287.3 L705.1 291.4 L705.5 291.5 L705.9 282.8 L706.2 283.7 L706.6 292.3 L707.0 283.6 L707.4 277.8 L707.8 275.2 L708.2 284.6 L708.6 290.6 L709.0 275.9 L709.4 284.4 L709.8 274.9 L710.2 285.5 L710.6 291.1 L711.0 281.8 L711.4 285.7 L711.7 282.7 L712.1 290.7 L712.5 289.1 L712.9 285.9 L713.3 295.8 L713.7 300.4 L714.1 298.3 L714.5 290.0 L714.9 290.2 L715.3 299.2 L715.7 303.7 L716.1 298.0 L716.5 289.1 L716.8 295.6 L717.2 296.2 L717.6 294.7 L718.0 298.7 L718.4 299.6 L718.8 296.5 L719.2 303.8 L719.6 292.3 L720.0 301.9 L720.4 290.5 L720.8 271.5 L721.2 292.4 L721.6 298.3 L722.0 303.5 L722.3 302.0 L722.7 294.0 L723.1 284.9 L723.5 289.6 L723.9 296.0 L724.3 298.7 L724.7 295.0 L725.1 312.9 L725.5 290.1 L725.9 293.6 L726.3 295.6 L726.7 297.0 L727.1 298.8 L727.5 300.9 L727.8 298.1 L728.2 307.7 L728.6 306.0 L729.0 300.4 L729.4 291.5 L729.8 299.1 L730.2 294.0 L730.6 296.5 L731.0 299.0 L731.4 313.5 L731.8 305.7 L732.2 308.8 L732.6 312.3 L733.0 303.5 L733.3 295.4 L733.7 295.5 L734.1 293.9 L734.5 302.4 L734.9 303.8 L735.3 308.2 L735.7 306.4 L736.1 302.6 L736.5 307.2 L736.9 304.2 L737.3 311.5 L737.7 306.6 L738.1 307.6 L738.4 308.4 L738.8 304.3 L739.2 303.7 L739.6 305.2 L740.0 300.9 L740.4 307.7 L740.8 297.7 L741.2 305.3 L741.6 294.2 L742.0 309.3 L742.4 306.9 L742.8 306.9 L743.2 314.0 L743.6 313.7 L743.9 313.0 L744.3 305.6 L744.7 315.4 L745.1 311.3 L745.5 322.4 L745.9 308.4 L746.3 317.1 L746.7 313.7 L747.1 323.6 L747.5 317.7 L747.9 314.3 L748.3 313.8 L748.7 308.9 L749.1 315.9 L749.4 315.4 L749.8 319.4 L750.2 315.6 L750.6 316.7 L751.0 310.6 L751.4 321.0 L751.8 314.1 L752.2 317.1 L752.6 302.6 L753.0 321.9 L753.4 305.2 L753.8 313.7 L754.2 300.3 L754.5 311.0 L754.9 329.5 L755.3 316.1 L755.7 311.5 L756.1 314.1 L756.5 310.8 L756.9 308.0 L757.3 310.6 L757.7 315.5 L758.1 310.5 L758.5 304.7 L758.9 309.5 L759.3 320.6 L759.7 299.1 L760.0 311.0 L760.4 311.7 L760.8 313.7 L761.2 309.0 L761.6 316.6 L762.0 317.9 L762.4 309.0 L762.8 310.6 L763.2 311.7 L763.6 309.1 L764.0 310.7 L764.4 312.1 L764.8 313.7 L765.2 305.9 L765.5 310.1 L765.9 304.9 L766.3 307.5 L766.7 306.2 L767.1 311.8 L767.5 306.3 L767.9 298.5 L768.3 303.5 L768.7 297.0 L769.1 296.4 L769.5 299.1 L769.9 301.5 L770.3 301.0 L770.6 311.1 L771.0 308.5 L771.4 304.1 L771.8 311.1 L772.2 313.8 L772.6 311.4 L773.0 302.2 L773.4 304.4 L773.8 306.5 L774.2 305.2 L774.6 297.5 L775.0 306.8 L775.4 291.8 L775.8 308.4 L776.1 311.4 L776.5 304.8 L776.9 309.6 L777.3 302.5 L777.7 299.4 L778.1 302.4 L778.5 312.1 L778.9 300.3 L779.3 304.9 L779.7 291.0 L780.1 297.4 L780.5 309.7 L780.9 297.7 L781.3 316.0 L781.6 306.4 L782.0 303.2 L782.4 307.8 L782.8 302.3 L783.2 306.1 L783.6 305.1 L784.0 317.9 L784.4 309.6 L784.8 317.6 L785.2 308.7 L785.6 306.4 L786.0 314.6 L786.4 316.6 L786.7 307.6 L787.1 306.4 L787.5 295.1 L787.9 298.2 L788.3 294.5 L788.7 312.6 L789.1 311.9 L789.5 318.1 L789.9 318.3 L790.3 308.7 L790.7 309.9 L791.1 308.3 L791.5 310.9 L791.9 310.2 L792.2 296.6 L792.6 295.9 L793.0 303.3 L793.4 297.9 L793.8 296.6 L794.2 306.7 L794.6 294.6 L795.0 314.3 L795.4 301.1 L795.8 301.2 L796.2 302.1 L796.6 305.9 L797.0 295.4 L797.4 293.8 L797.7 281.9 L798.1 291.0 L798.5 321.5 L798.9 299.0 L799.3 298.4 L799.7 311.8 L800.1 297.3 L800.5 311.5 L800.9 300.1 L801.3 300.7 L801.7 291.7 L802.1 303.5 L802.5 289.1 L802.8 295.8 L803.2 300.2 L803.6 295.9 L804.0 296.6 L804.4 292.7 L804.8 309.4 L805.2 302.8 L805.6 300.3 L806.0 299.2 L806.4 301.7 L806.8 303.6 L807.2 309.5 L807.6 314.2 L808.0 292.7 L808.3 312.9 L808.7 302.8 L809.1 309.5 L809.5 317.9 L809.9 305.7 L810.3 306.9 L810.7 315.0 L811.1 311.0 L811.5 296.7 L811.9 315.4 L812.3 316.0 L812.7 319.3 L813.1 307.2 L813.5 314.9 L813.8 311.2 L814.2 315.1 L814.6 304.9 L815.0 323.4 L815.4 319.4 L815.8 315.6 L816.2 313.7 L816.6 323.3 L817.0 310.4 L817.4 312.3 L817.8 317.0 L818.2 310.6 L818.6 319.0 L818.9 316.0 L819.3 314.6 L819.7 311.6 L820.1 316.0 L820.5 318.4 L820.9 310.0 L821.3 302.8 L821.7 315.5 L822.1 315.0 L822.5 313.8 L822.9 331.2 L823.3 312.7 L823.7 323.7 L824.1 315.8 L824.4 305.4 L824.8 313.9 L825.2 306.3 L825.6 316.2 L826.0 321.6 L826.4 311.9 L826.8 314.5 L827.2 300.5 L827.6 304.0 L828.0 325.8 L828.4 311.0 L828.8 315.1 L829.2 328.1 L829.6 327.9 L829.9 321.5 L830.3 309.3 L830.7 315.4 L831.1 312.3 L831.5 302.9 L831.9 317.7 L832.3 321.5 L832.7 322.8 L833.1 325.0 L833.5 320.4 L833.9 319.5 L834.3 326.9 L834.7 321.1 L835.0 325.6 L835.4 315.1 L835.8 325.3 L836.2 321.8 L836.6 320.0 L837.0 320.9 L837.4 322.9 L837.8 319.5 L838.2 319.1 L838.6 336.7 L839.0 329.7 L839.4 318.2 L839.8 319.1 L840.2 318.7 L840.5 310.3 L840.9 315.7 L841.3 331.3 L841.7 315.1 L842.1 319.5 L842.5 318.2 L842.9 317.8 L843.3 310.3 L843.7 318.6 L844.1 318.2 L844.5 307.4 L844.9 312.1 L845.3 305.2 L845.7 325.6 L846.0 312.8 L846.4 312.9 L846.8 315.3 L847.2 318.7 L847.6 319.7 L848.0 310.7 L848.4 310.2 L848.8 304.7 L849.2 319.7 L849.6 297.4 L850.0 308.5 L850.4 296.3 L850.8 305.0 L851.1 301.2 L851.5 310.4 L851.9 315.0 L852.3 304.4 L852.7 307.8 L853.1 321.1 L853.5 304.1 L853.9 302.6 L854.3 305.1 L854.7 303.0 L855.1 314.6 L855.5 310.9 L855.9 306.6 L856.3 299.7 L856.6 303.2 L857.0 315.7 L857.4 311.9 L857.8 292.9 L858.2 305.4 L858.6 303.0 L859.0 306.1 L859.4 303.5 L859.8 307.9 L860.2 316.7 L860.6 309.0 L861.0 306.0 L861.4 306.5 L861.8 303.1 L862.1 305.8 L862.5 302.4 L862.9 296.8 L863.3 298.6 L863.7 304.5 L864.1 309.0 L864.5 303.5 L864.9 317.9 L865.3 306.6 L865.7 293.2 L866.1 308.2 L866.5 292.9 L866.9 293.2 L867.2 316.2 L867.6 302.7 L868.0 315.4 L868.4 310.6 L868.8 305.6 L869.2 308.6 L869.6 307.9 L870.0 308.7 L870.4 313.5 L870.8 314.3 L871.2 305.1 L871.6 311.3 L872.0 314.2 L872.4 312.2 L872.7 309.3 L873.1 299.8 L873.5 309.0 L873.9 305.5 L874.3 312.2 L874.7 316.5 L875.1 311.9 L875.5 315.9 L875.9 314.5 L876.3 317.1 L876.7 309.4 L877.1 309.7 L877.5 312.2 L877.9 319.2 L878.2 307.7 L878.6 309.7 L879.0 311.5 L879.4 310.6 L879.8 320.3 L880.2 319.5 L880.6 320.6 L881.0 305.3 L881.4 315.3 L881.8 316.7 L882.2 319.3 L882.6 298.4 L883.0 314.1 L883.4 297.8 L883.7 312.2 L884.1 325.0 L884.5 312.5 L884.9 315.9 L885.3 324.5 L885.7 319.1 L886.1 315.9 L886.5 314.6 L886.9 314.7 L887.3 319.0 L887.7 319.4 L888.1 312.0 L888.5 323.4 L888.8 313.3 L889.2 304.7 L889.6 330.8 L890.0 324.9 L890.4 319.2 L890.8 316.8 L891.2 313.4 L891.6 326.3 L892.0 324.0 L892.4 315.4 L892.8 315.1 L893.2 320.5 L893.6 315.1 L894.0 305.1 L894.3 328.6 L894.7 324.2 L895.1 324.3 L895.5 317.1 L895.9 324.9 L896.3 319.4 L896.7 313.2 L897.1 306.0 L897.5 317.8 L897.9 297.0 L898.3 303.2 L898.7 313.0 L899.1 320.9 L899.5 306.1 L899.8 309.9 L900.2 290.3 L900.6 319.3 L901.0 306.2 L901.4 303.0 L901.8 317.9 L902.2 294.7 L902.6 304.4 L903.0 316.1 L903.4 303.5 L903.8 298.7 L904.2 306.9 L904.6 286.2 L904.9 312.5 L905.3 297.3 L905.7 301.2 L906.1 301.2 L906.5 295.6 L906.9 296.0 L907.3 300.0 L907.7 304.9 L908.1 305.8 L908.5 301.4 L908.9 302.0 L909.3 304.9 L909.7 290.0 L910.1 292.7 L910.4 281.6 L910.8 293.2 L911.2 287.9 L911.6 288.7 L912.0 285.0 L912.4 281.8 L912.8 284.6 L913.2 281.7 L913.6 298.1 L914.0 288.0 L914.4 293.3 L914.8 290.1 L915.2 283.0 L915.6 292.6 L915.9 274.6 L916.3 288.0 L916.7 280.7 L917.1 288.5 L917.5 278.0 L917.9 275.8 L918.3 277.3 L918.7 278.0 L919.1 276.4 L919.5 274.1 L919.9 295.3 L920.3 285.6 L920.7 287.0 L921.0 281.9 L921.4 285.5 L921.8 286.8 L922.2 283.1 L922.6 280.2 L923.0 279.4 L923.4 291.4 L923.8 286.2 L924.2 278.6 L924.6 282.1 L925.0 288.2 L925.4 271.1 L925.8 269.5 L926.2 292.8 L926.5 305.4 L926.9 277.1 L927.3 286.8 L927.7 274.5 L928.1 275.1 L928.5 285.7 L928.9 293.2 L929.3 276.8 L929.7 286.0 L930.1 280.7 L930.5 285.4 L930.9 292.1 L931.3 296.9 L931.7 285.0 L932.0 271.7 L932.4 286.8 L932.8 295.5 L933.2 292.0 L933.6 288.2 L934.0 290.8 L934.4 285.6 L934.8 281.7 L935.2 292.6 L935.6 289.5 L936.0 295.2 L936.4 305.3 L936.8 297.9 L937.1 285.2 L937.5 290.6 L937.9 297.0 L938.3 286.9 L938.7 306.2 L939.1 291.4 L939.5 288.4 L939.9 308.0 L940.3 291.2 L940.7 296.8 L941.1 285.2 L941.5 296.2 L941.9 311.1 L942.3 303.1 L942.6 292.2 L943.0 307.3 L943.4 301.0 L943.8 308.0 L944.2 302.3 L944.6 293.7 L945.0 298.6 L945.4 285.0 L945.8 294.9 L946.2 294.0 L946.6 297.8 L947.0 290.1 L947.4 312.3 L947.8 302.9 L948.1 319.2 L948.5 306.4 L948.9 293.0 L949.3 292.3 L949.7 299.8 L950.1 302.0 L950.5 302.6 L950.9 297.3 L951.3 292.9 L951.7 306.8 L952.1 320.8 L952.5 306.2 L952.9 291.0 L953.2 298.4 L953.6 304.7 L954.0 305.2 L954.4 310.5 L954.8 304.8 L955.2 314.2 L955.6 305.7 L956.0 308.0 L956.4 311.0 L956.8 317.1 L957.2 304.7 L957.6 315.3 L958.0 303.3 L958.4 326.5 L958.7 305.8 L959.1 299.7 L959.5 304.7 L959.9 328.4 L960.3 324.5 L960.7 308.1 L961.1 306.0 L961.5 317.4 L961.9 312.4 L962.3 306.7 L962.7 312.3 L963.1 314.3 L963.5 319.7 L963.9 320.4 L964.2 321.9 L964.6 327.4 L965.0 296.0 L965.4 309.7 L965.8 323.1 L966.2 330.8 L966.6 330.7 L967.0 316.5 L967.4 322.7 L967.8 309.8 L968.2 311.9 L968.6 318.0 L969.0 326.1 L969.3 316.4 L969.7 309.9 L970.1 305.9 L970.5 306.9 L970.9 299.9 L971.3 295.8 L971.7 322.1 L972.1 309.2 L972.5 302.0 L972.9 300.9 L973.3 308.1 L973.7 311.7 L974.1 301.9 L974.5 306.0 L974.8 322.0 L975.2 307.4 L975.6 296.2 L976.0 302.6 L976.4 303.3 L976.8 308.0 L977.2 309.5 L977.6 314.9 L978.0 314.2 L978.4 290.9 L978.8 299.7 L979.2 318.4 L979.6 315.7 L980.0 301.8 L980.3 301.8 L980.7 300.5 L981.1 307.2 L981.5 312.5 L981.9 305.4 L982.3 314.2 L982.7 322.8 L983.1 304.9 L983.5 311.2 L983.9 308.6 L984.3 305.5 L984.7 310.0 L985.1 302.5 L985.4 303.3 L985.8 297.6 L986.2 282.5 L986.6 296.2 L987.0 298.1 L987.4 289.9 L987.8 289.7 L988.2 297.8 L988.6 293.2 L989.0 287.7 L989.4 296.4 L989.8 292.8 L990.2 291.1 L990.6 296.2 L990.9 291.3 L991.3 302.7 L991.7 297.9 L992.1 306.8 L992.5 294.7 L992.9 298.6 L993.3 292.2 L993.7 295.0 L994.1 290.9 L994.5 299.5 L994.9 300.4 L995.3 297.7 L995.7 302.4 L996.1 291.7 L996.4 282.0 L996.8 297.5 L997.2 276.9 L997.6 290.7 L998.0 301.3 L998.4 282.9 L998.8 289.0 L999.2 287.6 L999.6 296.8 L1000.0 299.5 L1000.4 302.6 L1000.8 297.4 L1001.2 298.1 L1001.5 307.0 L1001.9 293.1 L1002.3 298.8 L1002.7 293.7 L1003.1 282.4 L1003.5 290.2 L1003.9 295.8 L1004.3 300.2 L1004.7 293.5 L1005.1 298.8 L1005.5 292.3 L1005.9 286.7 L1006.3 304.6 L1006.7 290.4 L1007.0 307.8 L1007.4 280.4 L1007.8 288.4 L1008.2 297.6 L1008.6 286.9 L1009.0 285.4 L1009.4 292.1 L1009.8 295.9 L1010.2 296.3 L1010.6 290.8 L1011.0 302.0 L1011.4 309.1 L1011.8 296.0 L1012.2 305.7 L1012.5 305.3 L1012.9 307.5 L1013.3 305.5 L1013.7 287.0 L1014.1 282.1 L1014.5 309.5 L1014.9 288.8 L1015.3 289.3 L1015.7 301.6 L1016.1 293.3 L1016.5 288.6 L1016.9 288.4 L1017.3 304.0 L1017.6 295.6 L1018.0 280.9 L1018.4 286.0 L1018.8 308.1 L1019.2 305.7 L1019.6 308.4 L1020.0 293.2 L1020.4 295.0 L1020.8 298.7 L1021.2 300.6 L1021.6 293.0 L1022.0 300.1 L1022.4 288.1 L1022.8 297.0 L1023.1 294.3 L1023.5 294.5 L1023.9 308.3 L1024.3 299.9 L1024.7 302.4 L1025.1 303.6 L1025.5 300.8 L1025.9 289.1 L1026.3 304.4 L1026.7 309.4 L1027.1 303.0 L1027.5 306.7 L1027.9 296.1 L1028.3 302.6 L1028.6 305.0 L1029.0 298.4 L1029.4 299.8 L1029.8 309.8 L1030.2 312.0 L1030.6 311.6 L1031.0 314.2 L1031.4 311.0 L1031.8 300.9 L1032.2 296.5 L1032.6 278.4 L1033.0 309.5 L1033.4 294.4 L1033.7 300.1 L1034.1 312.3 L1034.5 301.4 L1034.9 313.5 L1035.3 313.6 L1035.7 309.8 L1036.1 314.5 L1036.5 319.5 L1036.9 306.2 L1037.3 302.8 L1037.7 330.0 L1038.1 317.8 L1038.5 313.2 L1038.9 301.6 L1039.2 321.8 L1039.6 315.3 L1040.0 317.7 L1040.4 301.8 L1040.8 309.5 L1041.2 315.3 L1041.6 299.7 L1042.0 310.1 L1042.4 301.1 L1042.8 308.4 L1043.2 305.4 L1043.6 295.9 L1044.0 300.1 L1044.4 297.8 L1044.7 301.8 L1045.1 303.4 L1045.5 292.5 L1045.9 310.4 L1046.3 290.8 L1046.7 290.6 L1047.1 303.7 L1047.5 290.4 L1047.9 298.4 L1048.3 307.1 L1048.7 297.4 L1049.1 298.1 L1049.5 298.0 L1049.9 303.0 L1050.2 296.9 L1050.6 283.8 L1051.0 298.1 L1051.4 298.1 L1051.8 307.5 L1052.2 298.3 L1052.6 310.6 L1053.0 294.3 L1053.4 292.2 L1053.8 291.6 L1054.2 304.3 L1054.6 311.3 L1055.0 292.9 L1055.3 277.0 L1055.7 292.1 L1056.1 297.7 L1056.5 298.6 L1056.9 302.3 L1057.3 296.2 L1057.7 301.9 L1058.1 282.1 L1058.5 281.4 L1058.9 296.4 L1059.3 289.8 L1059.7 289.1 L1060.1 302.4 L1060.5 287.5 L1060.8 287.7 L1061.2 288.6 L1061.6 292.3 L1062.0 297.8 L1062.4 295.2 L1062.8 300.6 L1063.2 295.5 L1063.6 287.6 L1064.0 293.7 L1064.4 306.1 L1064.8 275.7 L1065.2 285.2 L1065.6 285.7 L1066.0 279.6 L1066.3 287.4 L1066.7 291.9 L1067.1 279.8 L1067.5 277.3 L1067.9 289.2 L1068.3 274.7 L1068.7 290.4 L1069.1 300.3 L1069.5 285.0 L1069.9 293.8 L1070.3 288.9 L1070.7 290.1 L1071.1 284.4 L1071.4 288.1 L1071.8 295.9 L1072.2 296.7 L1072.6 296.9 L1073.0 295.6 L1073.4 281.6 L1073.8 293.0 L1074.2 290.8 L1074.6 277.0 L1075.0 296.8 L1075.4 300.4 L1075.8 300.0 L1076.2 298.7 L1076.6 286.3 L1076.9 293.8 L1077.3 275.4 L1077.7 296.4 L1078.1 290.0 L1078.5 287.1 L1078.9 313.3 L1079.3 287.3 L1079.7 266.7 L1080.1 290.6 L1080.5 284.5 L1080.9 299.7 L1081.3 294.9 L1081.7 296.6 L1082.1 286.4 L1082.4 314.3 L1082.8 301.5 L1083.2 305.3 L1083.6 297.5 L1084.0 288.3 L1084.4 281.7 L1084.8 298.8 L1085.2 289.5 L1085.6 298.4 L1086.0 288.4 L1086.4 288.6 L1086.8 297.4 L1087.2 294.4 L1087.5 286.9 L1087.9 291.6 L1088.3 298.9 L1088.7 298.3 L1089.1 303.2 L1089.5 300.2 L1089.9 314.1 L1090.3 296.8 L1090.7 307.4 L1091.1 297.6 L1091.5 293.7 L1091.9 308.3 L1092.3 309.1 L1092.7 306.9 L1093.0 293.9 L1093.4 298.1 L1093.8 317.8 L1094.2 295.3 L1094.6 290.9 L1095.0 311.0 L1095.4 295.9 L1095.8 303.7 L1096.2 292.5 L1096.6 292.5 L1097.0 308.3 L1097.4 301.4 L1097.8 292.6 L1098.2 299.6 L1098.5 303.1 L1098.9 304.1 L1099.3 297.1 L1099.7 288.3 L1100.1 301.7 L1100.5 296.6 L1100.9 300.3 L1101.3 317.3 L1101.7 300.9 L1102.1 302.4 L1102.5 308.0 L1102.9 299.0 L1103.3 305.4 L1103.6 303.7 L1104.0 301.2 L1104.4 306.0 L1104.8 299.8 L1105.2 298.3 L1105.6 303.7 L1106.0 316.4 L1106.4 314.3 L1106.8 313.3 L1107.2 305.7 L1107.6 305.0 L1108.0 313.2 L1108.4 307.9 L1108.8 291.1 L1109.1 299.5 L1109.5 309.4 L1109.9 294.0 L1110.3 305.3 L1110.7 296.8 L1111.1 296.7 L1111.5 290.1 L1111.9 294.6 L1112.3 293.3 L1112.7 283.9 L1113.1 291.2 L1113.5 297.7 L1113.9 296.4 L1114.3 305.9 L1114.6 311.1 L1115.0 295.5 L1115.4 301.0 L1115.8 288.7 L1116.2 304.4 L1116.6 292.9 L1117.0 284.8 L1117.4 298.7 L1117.8 294.4 L1118.2 311.3 L1118.6 312.2 L1119.0 299.8 L1119.4 291.8 L1119.7 304.5 L1120.1 298.4 L1120.5 305.7 L1120.9 308.4 L1121.3 292.6 L1121.7 292.8 L1122.1 303.8 L1122.5 293.6 L1122.9 301.2 L1123.3 294.9 L1123.7 298.1 L1124.1 292.8 L1124.5 291.3 L1124.9 292.0 L1125.2 297.2 L1125.6 300.6 L1126.0 292.9 L1126.4 288.7 L1126.8 295.2 L1127.2 298.0 L1127.6 284.8 L1128.0 291.0 L1128.4 297.4 L1128.8 291.6 L1129.2 294.3 L1129.6 278.2 L1130.0 294.5 L1130.4 281.0 L1130.7 297.7 L1131.1 296.8 L1131.5 287.4 L1131.9 302.7 L1132.3 305.9 L1132.7 295.8 L1133.1 294.7 L1133.5 290.4 L1133.9 291.3 L1134.3 285.0 L1134.7 292.0 L1135.1 304.0 L1135.5 289.2 L1135.8 289.6 L1136.2 295.8 L1136.6 288.6 L1137.0 317.7 L1137.4 295.4 L1137.8 287.8 L1138.2 295.4 L1138.6 288.6 L1139.0 288.4 L1139.4 294.4 L1139.8 290.0 L1140.2 285.4 L1140.6 288.6 L1141.0 290.9 L1141.3 280.2 L1141.7 285.8 L1142.1 283.9 L1142.5 307.0 L1142.9 304.1 L1143.3 289.5 L1143.7 293.5 L1144.1 283.5 L1144.5 279.1 L1144.9 295.0 L1145.3 290.2 L1145.7 286.7 L1146.1 284.8 L1146.5 274.4 L1146.8 285.8 L1147.2 292.4 L1147.6 286.0 L1148.0 284.9 L1148.4 286.3 L1148.8 290.8 L1149.2 281.8 L1149.6 291.5 L1150.0 295.1 L1150.4 284.5 L1150.8 291.6 L1151.2 289.9 L1151.6 303.1 L1151.9 293.9 L1152.3 285.4 L1152.7 302.9 L1153.1 285.6 L1153.5 292.9 L1153.9 293.7 L1154.3 283.9 L1154.7 285.3 L1155.1 287.2 L1155.5 303.7 L1155.9 301.4 L1156.3 303.4 L1156.7 288.7 L1157.1 291.8 L1157.4 295.1 L1157.8 288.8 L1158.2 286.4 L1158.6 295.9 L1159.0 299.0 L1159.4 292.2 L1159.8 292.0 L1160.2 288.5 L1160.6 299.0 L1161.0 306.9 L1161.4 296.8 L1161.8 297.5 L1162.2 291.1 L1162.6 297.8 L1162.9 292.6 L1163.3 305.4 L1163.7 294.6 L1164.1 290.9 L1164.5 295.1 L1164.9 301.2 L1165.3 299.6 L1165.7 285.2 L1166.1 294.2 L1166.5 285.2 L1166.9 300.8 L1167.3 298.3 L1167.7 292.7 L1168.0 309.0 L1168.4 299.0 L1168.8 301.3 L1169.2 300.8 L1169.6 301.0 L1170.0 309.9 L1170.4 311.1 L1170.8 313.8 L1171.2 320.7 L1171.6 312.8 L1172.0 315.3 L1172.4 306.3 L1172.8 318.7 L1173.2 318.2 L1173.5 318.9 L1173.9 306.9 L1174.3 315.8 L1174.7 305.0 L1175.1 321.8 L1175.5 319.7 L1175.9 318.8 L1176.3 333.4 L1176.7 329.1 L1177.1 331.9 L1177.5 323.9 L1177.9 330.5 L1178.3 320.5 L1178.7 319.4 L1179.0 324.2 L1179.4 346.9 L1179.8 317.4 L1180.2 348.9 L1180.6 336.3 L1181.0 319.6 L1181.4 321.3 L1181.8 325.3 L1182.2 334.4 L1182.6 318.5 L1183.0 326.9 L1183.4 341.9 L1183.8 357.0 L1184.1 318.8 L1184.5 329.5 L1184.9 316.9 L1185.3 307.2 L1185.7 317.2 L1186.1 312.2 L1186.5 333.6 L1186.9 351.4 L1187.3 333.7 L1187.7 327.0 L1188.1 333.6 L1188.5 321.2 L1188.9 322.4 L1189.3 342.9 L1189.6 320.3 L1190.0 346.1 L1190.4 333.6 L1190.8 353.1 L1191.2 343.2 L1191.6 350.4 L1192.0 334.0 L1192.4 342.2 L1192.8 343.3 L1193.2 339.1 L1193.6 332.1 L1194.0 333.9 L1194.4 325.6 L1194.8 344.3 L1195.1 326.0 L1195.5 327.5 L1195.9 339.7 L1196.3 315.3 L1196.7 321.9 L1197.1 315.3 L1197.5 329.0 L1197.9 323.8 L1198.3 328.0 L1198.7 335.7 L1199.1 327.2 L1199.5 333.6 L1199.9 295.5 L1200.3 331.5 L1200.6 334.0 L1201.0 339.8 L1201.4 318.4 L1201.8 311.9 L1202.2 308.7 L1202.6 314.4 L1203.0 309.9 L1203.4 313.3 L1203.8 325.5 L1204.2 307.0 L1204.6 322.1 L1205.0 306.7 L1205.4 315.9 L1205.7 308.7 L1206.1 306.0 L1206.5 318.4 L1206.9 308.7 L1207.3 310.6 L1207.7 315.6 L1208.1 309.1 L1208.5 307.7 L1208.9 303.0 L1209.3 310.2 L1209.7 301.9 L1210.1 316.0 L1210.5 298.6 L1210.9 314.5 L1211.2 298.8 L1211.6 309.1 L1212.0 303.8 L1212.4 304.3 L1212.8 312.1 L1213.2 306.6 L1213.6 306.4 L1214.0 292.4 L1214.4 311.5 L1214.8 295.5 L1215.2 299.4 L1215.6 312.7 L1216.0 302.5 L1216.4 308.7 L1216.7 298.2 L1217.1 305.3 L1217.5 298.3 L1217.9 302.8 L1218.3 315.9 L1218.7 308.4 L1219.1 310.1 L1219.5 308.3 L1219.9 302.7 L1220.3 303.6 L1220.7 311.1 L1221.1 299.4 L1221.5 301.3 L1221.8 298.2 L1222.2 303.2 L1222.6 310.5 L1223.0 301.6 L1223.4 296.2 L1223.8 309.4 L1224.2 311.5 L1224.6 307.6 L1225.0 305.1 L1225.4 296.5 L1225.8 297.5 L1226.2 305.9 L1226.6 312.6 L1227.0 300.2 L1227.3 303.7 L1227.7 291.5 L1228.1 302.6 L1228.5 297.0 L1228.9 314.8 L1229.3 295.6 L1229.7 291.9 L1230.1 296.5 L1230.5 306.3 L1230.9 299.3 L1231.3 299.3 L1231.7 298.9 L1232.1 324.2 L1232.5 298.5 L1232.8 301.7 L1233.2 308.9 L1233.6 296.0 L1234.0 303.1 L1234.4 306.1 L1234.8 308.6 L1235.2 294.6 L1235.6 311.4 L1236.0 312.2 L1236.4 299.9 L1236.8 302.2 L1237.2 311.9 L1237.6 324.7 L1237.9 313.0 L1238.3 312.7 L1238.7 311.7 L1239.1 310.0 L1239.5 300.5 L1239.9 308.8 L1240.3 308.4 L1240.7 305.0 L1241.1 304.0 L1241.5 300.2 L1241.9 305.2 L1242.3 302.5 L1242.7 313.0 L1243.1 322.6 L1243.4 309.7 L1243.8 300.9 L1244.2 319.5 L1244.6 314.4 L1245.0 320.7 L1245.4 316.0 L1245.8 328.6 L1246.2 326.7 L1246.6 334.0 L1247.0 311.0 L1247.4 309.1 L1247.8 303.4 L1248.2 316.2 L1248.6 317.5 L1248.9 312.5 L1249.3 315.6 L1249.7 305.0 L1250.1 312.3 L1250.5 311.6 L1250.9 312.5 L1251.3 316.9 L1251.7 309.1 L1252.1 316.9 L1252.5 320.1 L1252.9 322.6 L1253.3 310.7 L1253.7 325.4 L1254.0 319.9 L1254.4 313.4 L1254.8 305.0 L1255.2 311.0 L1255.6 313.4 L1256.0 318.9 L1256.4 323.4 L1256.8 316.8 L1257.2 315.0 L1257.6 325.8 L1258.0 317.5 L1258.4 313.9 L1258.8 312.8 L1259.2 320.2 L1259.5 312.6 L1259.9 313.6 L1260.3 315.8 L1260.7 329.1 L1261.1 307.2 L1261.5 310.8 L1261.9 303.2 L1262.3 315.2 L1262.7 308.0 L1263.1 311.8 L1263.5 314.8 L1263.9 299.9 L1264.3 302.6 L1264.7 302.4 L1265.0 299.7 L1265.4 303.3 L1265.8 303.8 L1266.2 300.9 L1266.6 299.5 L1267.0 305.3 L1267.4 311.6 L1267.8 317.7 L1268.2 304.8 L1268.6 306.2 L1269.0 319.2 L1269.4 306.0 L1269.8 306.5 L1270.1 301.5 L1270.5 312.9 L1270.9 314.4 L1271.3 318.6 L1271.7 303.7 L1272.1 297.9 L1272.5 303.0 L1272.9 292.8 L1273.3 307.8 L1273.7 306.6 L1274.1 303.3 L1274.5 306.2 L1274.9 298.7 L1275.3 313.6 L1275.6 318.1 L1276.0 308.9 L1276.4 312.3 L1276.8 307.0 L1277.2 303.3 L1277.6 311.2 L1278.0 289.4 L1278.4 305.4 L1278.8 296.8 L1279.2 307.8 L1279.6 322.0 L1280.0 309.9 L1280.4 313.7 L1280.8 306.7 L1281.1 308.2 L1281.5 313.2 L1281.9 307.2 L1282.3 293.3 L1282.7 310.9 L1283.1 309.2 L1283.5 286.6 L1283.9 319.5 L1284.3 310.0 L1284.7 308.6 L1285.1 296.0 L1285.5 300.5 L1285.9 310.0 L1286.2 312.7 L1286.6 307.8 L1287.0 309.1 L1287.4 319.9 L1287.8 297.0 L1288.2 302.6 L1288.6 310.0 L1289.0 305.1 L1289.4 300.4 L1289.8 309.9 L1290.2 294.8 L1290.6 299.4 L1291.0 291.2 L1291.4 289.1 L1291.7 299.9 L1292.1 292.1 L1292.5 302.5 L1292.9 288.1 L1293.3 302.1 L1293.7 299.7 L1294.1 318.1 L1294.5 312.2 L1294.9 304.3 L1295.3 310.0 L1295.7 316.4 L1296.1 324.4 L1296.5 298.6 L1296.9 305.1 L1297.2 318.4 L1297.6 305.2 L1298.0 296.9 L1298.4 326.4 L1298.8 303.1 L1299.2 307.3 L1299.6 312.7 L1300.0 306.9 L1300.4 314.7 L1300.8 307.2 L1301.2 299.3 L1301.6 297.7 L1302.0 305.5 L1302.3 319.0 L1302.7 298.4 L1303.1 311.3 L1303.5 320.9 L1303.9 303.3 L1304.3 306.7 L1304.7 305.3 L1305.1 293.2 L1305.5 299.6 L1305.9 312.7 L1306.3 293.5 L1306.7 304.4 L1307.1 303.8 L1307.5 304.3 L1307.8 311.4 L1308.2 299.9 L1308.6 310.9 L1309.0 302.3 L1309.4 308.7 L1309.8 294.0 L1310.2 308.3 L1310.6 316.1 L1311.0 313.5 L1311.4 309.7 L1311.8 307.2 L1312.2 306.5 L1312.6 311.5 L1313.0 307.1 L1313.3 311.2 L1313.7 300.8 L1314.1 306.5 L1314.5 311.3 L1314.9 313.2 L1315.3 308.0 L1315.7 314.2 L1316.1 323.6 L1316.5 322.3 L1316.9 315.2 L1317.3 307.0 L1317.7 312.4 L1318.1 311.2 L1318.4 309.2 L1318.8 315.6 L1319.2 299.1 L1319.6 332.2 L1320.0 319.2 L1320.4 306.0 L1320.8 317.8 L1321.2 313.9 L1321.6 322.2 L1322.0 299.9 L1322.4 316.6 L1322.8 305.9 L1323.2 306.2 L1323.6 321.2 L1323.9 311.3 L1324.3 312.4 L1324.7 296.2 L1325.1 313.4 L1325.5 316.4 L1325.9 307.0 L1326.3 320.4 L1326.7 313.5 L1327.1 309.0 L1327.5 308.2 L1327.9 305.0 L1328.3 312.0 L1328.7 298.0 L1329.1 315.9 L1329.4 302.9 L1329.8 311.1 L1330.2 320.9 L1330.6 304.5 L1331.0 304.5 L1331.4 313.0 L1331.8 313.2 L1332.2 304.6 L1332.6 303.2 L1333.0 307.8 L1333.4 312.3 L1333.8 299.4 L1334.2 302.7 L1334.5 310.4 L1334.9 309.1 L1335.3 303.6 L1335.7 309.3 L1336.1 310.8 L1336.5 295.7 L1336.9 305.2 L1337.3 305.3 L1337.7 298.2 L1338.1 303.8 L1338.5 311.8 L1338.9 327.9 L1339.3 304.5 L1339.7 313.8 L1340.0 315.5 L1340.4 320.1 L1340.8 304.2 L1341.2 311.6 L1341.6 311.7 L1342.0 298.1 L1342.4 304.6 L1342.8 313.9 L1343.2 305.1 L1343.6 307.3 L1344.0 307.7 L1344.4 311.0 L1344.8 297.1 L1345.2 289.8 L1345.5 304.8 L1345.9 311.5 L1346.3 314.9 L1346.7 319.2 L1347.1 298.9 L1347.5 322.0 L1347.9 314.8 L1348.3 297.1 L1348.7 306.2 L1349.1 315.4 L1349.5 316.9 L1349.9 307.5 L1350.3 295.4 L1350.6 301.8 L1351.0 317.2 L1351.4 305.0 L1351.8 309.4 L1352.2 310.1 L1352.6 308.2 L1353.0 317.5 L1353.4 312.8 L1353.8 328.0 L1354.2 317.2 L1354.6 325.9 L1355.0 312.8 L1355.4 302.4 L1355.8 311.6 L1356.1 305.3 L1356.5 312.4 L1356.9 322.5 L1357.3 314.1 L1357.7 319.0 L1358.1 311.7 L1358.5 315.8 L1358.9 317.4 L1359.3 316.5 L1359.7 299.5 L1360.1 308.4 L1360.5 293.4 L1360.9 309.2 L1361.3 301.3 L1361.6 301.4 L1362.0 304.9 L1362.4 311.0 L1362.8 308.8 L1363.2 323.1 L1363.6 298.5 L1364.0 310.9 L1364.4 298.7 L1364.8 309.9 L1365.2 311.9 L1365.6 297.5 L1366.0 316.3 L1366.4 309.0 L1366.8 305.3 L1367.1 322.7 L1367.5 318.6 L1367.9 322.8 L1368.3 306.2 L1368.7 323.1 L1369.1 313.4 L1369.5 304.6 L1369.9 304.3 L1370.3 322.7 L1370.7 318.4 L1371.1 307.7 L1371.5 335.8 L1371.9 317.3 L1372.2 303.3 L1372.6 315.9 L1373.0 321.9 L1373.4 322.3 L1373.8 322.5 L1374.2 324.8 L1374.6 319.4 L1375.0 322.7 L1375.4 331.4 L1375.8 314.8 L1376.2 319.0 L1376.6 324.1 L1377.0 326.0 L1377.4 319.3 L1377.7 313.7 L1378.1 319.2 L1378.5 312.4 L1378.9 309.8 L1379.3 313.8 L1379.7 310.4 L1380.1 323.1 L1380.5 319.9 L1380.9 316.5 L1381.3 319.3 L1381.7 327.8 L1382.1 330.4 L1382.5 315.3 L1382.9 327.1 L1383.2 333.9 L1383.6 325.1 L1384.0 324.2 L1384.4 332.1 L1384.8 327.1 L1385.2 317.4 L1385.6 327.0 L1386.0 338.4 L1386.4 327.7 L1386.8 320.7 L1387.2 337.5 L1387.6 321.1 L1388.0 333.8 L1388.3 332.3 L1388.7 317.0 L1389.1 327.8 L1389.5 335.6 L1389.9 335.3 L1390.3 320.5 L1390.7 316.5 L1391.1 329.3 L1391.5 330.2 L1391.9 339.0 L1392.3 332.9 L1392.7 316.7 L1393.1 338.5 L1393.5 327.2 L1393.8 327.1 L1394.2 331.1 L1394.6 323.5 L1395.0 334.4 L1395.4 329.8 L1395.8 324.8 L1396.2 316.6 L1396.6 326.3 L1397.0 332.4 L1397.4 336.1 L1397.8 330.1 L1398.2 331.9 L1398.6 330.9 L1399.0 338.4 L1399.3 334.3 L1399.7 323.9 L1400.1 324.4 L1400.5 338.4 L1400.9 323.1 L1401.3 324.3 L1401.7 337.7 L1402.1 328.3 L1402.5 323.8 L1402.9 321.8 L1403.3 349.8 L1403.7 325.7 L1404.1 330.8 L1404.4 322.4 L1404.8 324.8 L1405.2 331.4 L1405.6 316.5 L1406.0 344.5 L1406.4 333.9 L1406.8 329.6 L1407.2 336.2 L1407.6 311.4 L1408.0 326.2 L1408.4 325.7 L1408.8 325.4 L1409.2 321.7 L1409.6 330.7 L1409.9 328.2 L1410.3 332.2 L1410.7 344.1 L1411.1 340.0 L1411.5 336.0 L1411.9 322.0 L1412.3 324.6 L1412.7 320.2 L1413.1 334.4 L1413.5 324.9 L1413.9 328.1 L1414.3 312.3 L1414.7 316.1 L1415.1 310.2 L1415.4 307.3 L1415.8 318.2 L1416.2 318.0 L1416.6 318.1 L1417.0 310.4 L1417.4 316.7 L1417.8 324.0 L1418.2 318.6 L1418.6 320.4 L1419.0 322.8 L1419.4 323.4 L1419.8 325.7 L1420.2 323.5 L1420.5 331.5 L1420.9 323.5 L1421.3 342.6 L1421.7 320.9 L1422.1 322.6 L1422.5 314.1 L1422.9 325.4 L1423.3 323.4 L1423.7 321.5 L1424.1 315.4 L1424.5 313.9 L1424.9 320.1 L1425.3 314.6 L1425.7 325.7 L1426.0 319.7 L1426.4 314.5 L1426.8 313.8 L1427.2 319.2 L1427.6 324.5 L1428.0 320.9 L1428.4 325.7 L1428.8 327.6 L1429.2 324.5 L1429.6 320.8 L1430.0 317.6 L1430.4 311.6 L1430.8 321.3 L1431.2 307.8 L1431.5 316.0 L1431.9 315.8 L1432.3 329.3 L1432.7 315.3 L1433.1 308.4 L1433.5 308.6 L1433.9 316.9 L1434.3 311.9 L1434.7 305.1 L1435.1 310.5 L1435.5 306.1 L1435.9 306.3 L1436.3 315.3 L1436.6 303.5 L1437.0 310.7 L1437.4 314.6 L1437.8 317.2 L1438.2 319.3 L1438.6 312.1 L1439.0 311.8 L1439.4 324.4 L1439.8 312.1 L1440.2 316.8 L1440.6 318.7 L1441.0 323.7 L1441.4 322.2 L1441.8 313.6 L1442.1 309.7 L1442.5 302.4 L1442.9 308.8 L1443.3 304.6 L1443.7 315.2 L1444.1 297.7 L1444.5 311.7 L1444.9 303.9 L1445.3 314.2 L1445.7 315.4 L1446.1 314.4 L1446.5 307.6 L1446.9 301.0 L1447.3 307.7 L1447.6 325.7 L1448.0 316.3 L1448.4 322.4 L1448.8 321.6 L1449.2 331.6 L1449.6 329.0 L1450.0 326.7 L1450.4 310.2 L1450.8 334.3 L1451.2 334.0 L1451.6 315.4 L1452.0 336.1 L1452.4 332.5 L1452.7 327.2 L1453.1 315.3 L1453.5 324.6 L1453.9 339.3 L1454.3 333.0 L1454.7 322.7 L1455.1 332.1 L1455.5 323.0 L1455.9 326.3 L1456.3 329.5 L1456.7 328.4 L1457.1 329.4 L1457.5 336.3 L1457.9 321.2 L1458.2 334.9 L1458.6 334.6 L1459.0 328.8 L1459.4 338.2 L1459.8 337.7 L1460.2 333.3 L1460.6 315.7 L1461.0 321.5 L1461.4 325.3 L1461.8 329.3 L1462.2 321.6 L1462.6 331.6 L1463.0 339.0 L1463.4 334.4 L1463.7 336.1 L1464.1 340.6 L1464.5 332.9 L1464.9 330.3 L1465.3 318.4 L1465.7 308.8 L1466.1 332.1 L1466.5 328.4 L1466.9 346.9 L1467.3 330.2 L1467.7 329.0 L1468.1 327.7 L1468.5 352.4 L1468.8 335.9 L1469.2 346.1 L1469.6 339.9 L1470.0 327.1 L1470.4 327.5 L1470.8 337.3 L1471.2 327.7 L1471.6 330.4 L1472.0 331.1 L1472.4 335.0 L1472.8 341.9 L1473.2 333.6 L1473.6 331.4 L1474.0 337.8 L1474.3 319.0 L1474.7 324.3 L1475.1 319.1 L1475.5 307.7 L1475.9 325.2 L1476.3 315.6 L1476.7 310.7 L1477.1 317.7 L1477.5 324.7 L1477.9 326.4 L1478.3 322.9 L1478.7 327.6 L1479.1 333.7 L1479.5 337.8 L1479.8 330.5 L1480.2 332.7 L1480.6 325.6 L1481.0 338.6 L1481.4 336.0 L1481.8 330.8 L1482.2 333.5 L1482.6 329.5 L1483.0 320.4 L1483.4 325.3 L1483.8 325.6 L1484.2 335.7 L1484.6 317.0 L1484.9 322.7 L1485.3 320.3 L1485.7 310.2 L1486.1 321.7 L1486.5 320.8 L1486.9 329.5 L1487.3 316.9 L1487.7 332.8 L1488.1 313.7 L1488.5 317.2 L1488.9 316.0 L1489.3 321.9 L1489.7 322.1 L1490.1 315.6 L1490.4 304.8 L1490.8 314.4 L1491.2 304.1 L1491.6 308.3 L1492.0 317.9 L1492.4 320.6 L1492.8 310.0 L1493.2 327.2 L1493.6 328.7 L1494.0 313.0 L1494.4 309.6 L1494.8 310.0 L1495.2 307.5 L1495.6 326.6 L1495.9 313.8 L1496.3 313.1 L1496.7 314.3 L1497.1 311.4 L1497.5 326.1 L1497.9 325.5 L1498.3 328.8 L1498.7 341.8 L1499.1 315.9 L1499.5 315.3 L1499.9 318.0 L1500.3 322.1 L1500.7 330.2 L1501.0 323.6 L1501.4 327.0 L1501.8 319.2 L1502.2 313.8 L1502.6 309.9 L1503.0 321.0 L1503.4 325.9 L1503.8 323.2 L1504.2 314.3 L1504.6 329.2 L1505.0 329.3 L1505.4 315.6 L1505.8 311.7 L1506.2 332.1 L1506.5 334.6 L1506.9 313.0 L1507.3 312.3 L1507.7 318.4 L1508.1 324.4 L1508.5 324.7 L1508.9 318.0 L1509.3 338.4 L1509.7 323.7 L1510.1 323.5 L1510.5 322.5 L1510.9 332.6 L1511.3 331.7 L1511.7 318.1 L1512.0 320.4 L1512.4 315.6 L1512.8 333.2 L1513.2 316.8 L1513.6 325.3 L1514.0 338.7 L1514.4 325.8 L1514.8 337.5 L1515.2 333.5 L1515.6 331.4 L1516.0 325.0 L1516.4 318.9 L1516.8 345.6 L1517.2 325.0 L1517.5 338.2 L1517.9 339.9 L1518.3 323.8 L1518.7 322.7 L1519.1 325.5 L1519.5 331.9 L1519.9 330.9 L1520.3 319.0 L1520.7 319.1 L1521.1 313.9 L1521.5 332.2 L1521.9 323.4 L1522.3 326.6 L1522.6 328.3 L1523.0 328.4 L1523.4 329.0 L1523.8 323.3 L1524.2 341.2 L1524.6 325.2 L1525.0 326.7 L1525.4 337.9 L1525.8 342.5 L1526.2 328.7 L1526.6 335.7 L1527.0 345.9 L1527.4 339.6 L1527.8 332.9 L1528.1 329.5 L1528.5 320.8 L1528.9 330.2 L1529.3 326.2 L1529.7 330.1 L1530.1 328.6 L1530.5 322.3 L1530.9 320.0 L1531.3 332.5 L1531.7 325.6 L1532.1 337.6 L1532.5 321.1 L1532.9 329.1 L1533.3 322.6 L1533.6 322.9 L1534.0 335.9 L1534.4 330.4 L1534.8 334.8 L1535.2 336.7 L1535.6 329.7 L1536.0 336.2 L1536.4 333.4 L1536.8 328.9 L1537.2 334.8 L1537.6 316.7 L1538.0 332.1 L1538.4 336.6 L1538.7 337.6 L1539.1 328.4 L1539.5 331.0 L1539.9 347.4 L1540.3 334.2 L1540.7 334.9 L1541.1 339.4 L1541.5 328.9 L1541.9 320.9 L1542.3 332.7 L1542.7 331.3 L1543.1 327.6 L1543.5 313.4 L1543.9 315.0 L1544.2 330.4 L1544.6 322.3 L1545.0 331.2 L1545.4 326.0 L1545.8 332.0 L1546.2 323.2 L1546.6 318.4 L1547.0 325.6 L1547.4 321.7 L1547.8 314.2 L1548.2 326.4 L1548.6 324.1 L1549.0 324.6 L1549.4 321.5 L1549.7 323.7 L1550.1 325.3 L1550.5 315.3 L1550.9 333.3 L1551.3 319.3 L1551.7 328.2 L1552.1 320.8 L1552.5 329.5 L1552.9 320.4 L1553.3 337.8 L1553.7 320.2 L1554.1 316.4 L1554.5 338.8 L1554.8 338.8 L1555.2 331.1 L1555.6 342.7 L1556.0 337.6 L1556.4 320.0 L1556.8 335.0 L1557.2 325.6 L1557.6 323.9 L1558.0 321.2 L1558.4 321.1 L1558.8 328.4 L1559.2 317.6 L1559.6 330.4 L1560.0 329.4 L1560.3 322.9 L1560.7 333.9 L1561.1 324.1 L1561.5 320.2 L1561.9 305.9 L1562.3 312.6 L1562.7 325.2 L1563.1 307.3 L1563.5 310.9 L1563.9 314.2 L1564.3 322.8 L1564.7 312.8 L1565.1 324.3 L1565.5 323.8 L1565.8 320.5 L1566.2 317.1 L1566.6 310.8 L1567.0 324.8 L1567.4 315.1 L1567.8 314.5 L1568.2 318.9 L1568.6 314.5 L1569.0 320.5 L1569.4 319.1 L1569.8 315.7 L1570.2 320.8 L1570.6 303.0 L1570.9 317.0 L1571.3 306.5 L1571.7 311.1 L1572.1 310.0 L1572.5 304.6 L1572.9 313.3 L1573.3 330.6 L1573.7 320.0 L1574.1 328.4 L1574.5 315.3 L1574.9 312.4 L1575.3 304.1 L1575.7 323.6 L1576.1 313.6 L1576.4 307.4 L1576.8 311.5 L1577.2 331.6 L1577.6 321.2 L1578.0 327.8 L1578.4 323.3 L1578.8 321.8 L1579.2 325.8 L1579.6 316.4 L1580.0 318.2 L1580.4 306.8 L1580.8 313.1 L1581.2 319.8 L1581.6 318.8 L1581.9 316.8 L1582.3 326.8 L1582.7 318.8 L1583.1 326.1 L1583.5 340.2 L1583.9 329.5 L1584.3 317.8 L1584.7 341.4 L1585.1 320.5 L1585.5 329.4 L1585.9 313.1 L1586.3 331.6 L1586.7 321.0 L1587.0 332.6 L1587.4 340.8 L1587.8 333.1 L1588.2 323.0 L1588.6 317.4 L1589.0 325.5 L1589.4 330.1 L1589.8 319.4 L1590.2 323.0 L1590.6 329.6 L1591.0 336.7 L1591.4 339.0 L1591.8 310.7 L1592.2 325.6 L1592.5 338.4 L1592.9 332.8 L1593.3 331.6 L1593.7 330.6 L1594.1 342.1 L1594.5 331.8 L1594.9 339.3 L1595.3 353.4 L1595.7 340.1 L1596.1 323.6 L1596.5 353.6 L1596.9 338.7 L1597.3 328.8 L1597.7 345.8 L1598.0 338.1 L1598.4 342.1 L1598.8 339.1 L1599.2 319.7 L1599.6 334.2 L1600.0 348.6 L1600.4 346.9 L1600.8 339.4 L1601.2 335.3 L1601.6 328.1 L1602.0 348.0 L1602.4 342.6 L1602.8 336.7 L1603.1 348.9 L1603.5 341.0 L1603.9 326.7 L1604.3 329.2 L1604.7 340.5 L1605.1 342.0 L1605.5 338.1 L1605.9 325.4 L1606.3 338.3 L1606.7 338.4 L1607.1 334.1 L1607.5 338.8 L1607.9 333.1 L1608.3 343.7 L1608.6 327.8 L1609.0 337.5 L1609.4 342.2 L1609.8 344.8 L1610.2 336.3 L1610.6 327.2 L1611.0 342.7 L1611.4 339.1 L1611.8 339.1 L1612.2 335.1 L1612.6 329.2 L1613.0 330.2 L1613.4 320.4 L1613.8 330.0 L1614.1 331.6 L1614.5 332.9 L1614.9 335.7 L1615.3 341.3 L1615.7 343.0 L1616.1 335.9 L1616.5 333.8 L1616.9 331.1 L1617.3 324.7 L1617.7 334.2 L1618.1 348.6 L1618.5 339.9 L1618.9 327.7 L1619.2 346.1 L1619.6 343.9 L1620.0 336.8 L1620.4 336.7 L1620.8 336.9 L1621.2 345.9 L1621.6 329.7 L1622.0 330.6 L1622.4 331.2 L1622.8 342.2 L1623.2 332.3 L1623.6 334.4 L1624.0 320.0 L1624.4 336.9 L1624.7 331.2 L1625.1 333.4 L1625.5 336.8 L1625.9 337.3 L1626.3 332.5 L1626.7 328.7 L1627.1 340.3 L1627.5 325.3 L1627.9 332.4 L1628.3 322.8 L1628.7 331.9 L1629.1 333.3 L1629.5 319.8 L1629.9 326.7 L1630.2 324.5 L1630.6 321.2 L1631.0 337.7 L1631.4 323.1 L1631.8 309.4 L1632.2 322.0 L1632.6 307.8 L1633.0 326.9 L1633.4 317.1 L1633.8 320.8 L1634.2 312.4 L1634.6 342.9 L1635.0 331.9 L1635.3 323.9 L1635.7 338.1 L1636.1 340.9 L1636.5 331.9 L1636.9 345.3 L1637.3 340.5 L1637.7 325.4 L1638.1 332.9 L1638.5 335.2 L1638.9 344.3 L1639.3 334.3 L1639.7 336.3 L1640.1 322.4 L1640.5 335.2 L1640.8 320.9 L1641.2 336.3 L1641.6 333.8 L1642.0 350.3 L1642.4 340.5 L1642.8 344.0 L1643.2 343.6 L1643.6 330.3 L1644.0 330.2 L1644.4 326.3 L1644.8 338.8 L1645.2 353.3 L1645.6 332.4 L1646.0 343.0 L1646.3 332.9 L1646.7 327.2 L1647.1 342.1 L1647.5 351.3 L1647.9 339.0 L1648.3 338.4 L1648.7 329.9 L1649.1 330.1 L1649.5 327.9 L1649.9 327.1 L1650.3 340.3 L1650.7 336.6 L1651.1 334.2 L1651.4 319.4 L1651.8 337.3 L1652.2 339.8 L1652.6 334.7 L1653.0 338.2 L1653.4 334.5 L1653.8 328.3 L1654.2 341.9 L1654.6 324.4 L1655.0 320.0 L1655.4 333.6 L1655.8 333.8 L1656.2 331.4 L1656.6 337.8 L1656.9 340.5 L1657.3 316.0 L1657.7 319.8 L1658.1 315.6 L1658.5 305.6 L1658.9 323.4 L1659.3 320.3 L1659.7 328.9 L1660.1 317.5 L1660.5 334.3 L1660.9 312.0 L1661.3 319.9 L1661.7 328.0 L1662.1 326.8 L1662.4 331.4 L1662.8 328.0 L1663.2 329.1 L1663.6 321.0 L1664.0 331.0 L1664.4 324.1 L1664.8 316.4 L1665.2 324.9 L1665.6 323.9 L1666.0 324.2 L1666.4 324.6 L1666.8 322.3 L1667.2 317.8 L1667.5 319.3 L1667.9 325.4 L1668.3 321.0 L1668.7 321.6 L1669.1 331.9 L1669.5 323.3 L1669.9 361.7 L1670.3 328.1 L1670.7 331.7 L1671.1 319.5 L1671.5 329.5 L1671.9 329.8 L1672.3 322.6 L1672.7 341.5 L1673.0 325.4 L1673.4 328.6 L1673.8 318.8 L1674.2 322.7 L1674.6 325.5 L1675.0 336.2 L1675.4 324.2"/>
<path stroke="#2c7bb6" d="M241.7 345.9 L242.1 337.9 L242.5 338.1 L242.9 324.3 L243.3 328.8 L243.7 328.3 L244.1 324.7 L244.4 319.8 L244.8 328.6 L245.2 325.0 L245.6 326.2 L246.0 335.5 L246.4 317.7 L246.8 314.5 L247.2 325.9 L247.6 342.5 L248.0 325.7 L248.4 330.7 L248.8 329.8 L249.2 368.6 L249.6 336.6 L249.9 301.5 L250.3 308.4 L250.7 320.7 L251.1 332.5 L251.5 328.8 L251.9 323.3 L252.3 316.6 L252.7 337.0 L253.1 340.8 L253.5 332.9 L253.9 325.6 L254.3 337.2 L254.7 336.4 L255.0 340.5 L255.4 317.8 L255.8 334.2 L256.2 344.7 L256.6 347.8 L257.0 317.9 L257.4 323.3 L257.8 321.9 L258.2 330.9 L258.6 339.1 L259.0 333.7 L259.4 330.9 L259.8 353.9 L260.2 342.1 L260.5 339.2 L260.9 332.4 L261.3 322.2 L261.7 332.5 L262.1 343.6 L262.5 340.0 L262.9 355.1 L263.3 347.5 L263.7 335.6 L264.1 343.3 L264.5 344.1 L264.9 325.4 L265.3 345.6 L265.7 345.7 L266.0 357.8 L266.4 341.2 L266.8 365.6 L267.2 348.3 L267.6 335.7 L268.0 321.5 L268.4 334.0 L268.8 326.8 L269.2 354.4 L269.6 309.9 L270.0 335.1 L270.4 353.3 L270.8 338.3 L271.1 331.6 L271.5 333.1 L271.9 325.8 L272.3 340.4 L272.7 333.6 L273.1 341.5 L273.5 327.0 L273.9 336.4 L274.3 327.0 L274.7 319.3 L275.1 328.6 L275.5 317.0 L275.9 331.4 L276.3 312.0 L276.6 325.3 L277.0 323.0 L277.4 322.0 L277.8 333.4 L278.2 347.3 L278.6 327.9 L279.0 335.0 L279.4 327.4 L279.8 333.2 L280.2 326.4 L280.6 322.0 L281.0 329.3 L281.4 331.6 L281.8 338.9 L282.1 339.1 L282.5 338.4 L282.9 334.5 L283.3 336.1 L283.7 346.2 L284.1 344.7 L284.5 337.5 L284.9 345.3 L285.3 348.5 L285.7 350.2 L286.1 344.6 L286.5 326.1 L286.9 343.3 L287.2 318.1 L287.6 328.8 L288.0 330.0 L288.4 332.1 L288.8 356.1 L289.2 345.1 L289.6 332.3 L290.0 318.1 L290.4 333.8 L290.8 340.7 L291.2 340.5 L291.6 346.4 L292.0 328.3 L292.4 360.1 L292.7 342.4 L293.1 315.6 L293.5 344.0 L293.9 323.9 L294.3 336.3 L294.7 344.4 L295.1 332.8 L295.5 354.8 L295.9 344.7 L296.3 327.2 L296.7 319.0 L297.1 326.8 L297.5 338.6 L297.9 326.4 L298.2 338.1 L298.6 338.4 L299.0 335.9 L299.4 325.7 L299.8 344.2 L300.2 335.8 L300.6 356.3 L301.0 347.6 L301.4 349.7 L301.8 347.4 L302.2 336.5 L302.6 345.3 L303.0 346.8 L303.3 333.6 L303.7 359.3 L304.1 332.4 L304.5 357.8 L304.9 333.1 L305.3 337.8 L305.7 355.4 L306.1 348.6 L306.5 332.4 L306.9 337.4 L307.3 341.9 L307.7 351.9 L308.1 349.7 L308.5 343.2 L308.8 353.3 L309.2 345.9 L309.6 349.0 L310.0 342.9 L310.4 338.3 L310.8 346.5 L311.2 356.7 L311.6 345.5 L312.0 392.6 L312.4 346.2 L312.8 346.7 L313.2 356.5 L313.6 356.8 L314.0 357.4 L314.3 337.3 L314.7 346.2 L315.1 351.7 L315.5 357.4 L315.9 357.6 L316.3 342.2 L316.7 337.0 L317.1 344.9 L317.5 336.3 L317.9 360.9 L318.3 353.1 L318.7 365.3 L319.1 370.4 L319.4 350.2 L319.8 350.8 L320.2 352.2 L320.6 373.0 L321.0 358.4 L321.4 366.1 L321.8 361.9 L322.2 365.9 L322.6 345.7 L323.0 356.9 L323.4 364.5 L323.8 354.3 L324.2 359.7 L324.6 353.6 L324.9 360.1 L325.3 355.1 L325.7 340.9 L326.1 360.6 L326.5 350.1 L326.9 346.4 L327.3 344.9 L327.7 349.2 L328.1 339.0 L328.5 353.4 L328.9 364.3 L329.3 371.2 L329.7 346.5 L330.1 414.1 L330.4 355.0 L330.8 329.3 L331.2 356.6 L331.6 356.1 L332.0 361.3 L332.4 360.6 L332.8 329.2 L333.2 357.1 L333.6 338.8 L334.0 351.0 L334.4 359.7 L334.8 347.0 L335.2 346.6 L335.5 335.5 L335.9 344.7 L336.3 345.9 L336.7 344.5 L337.1 341.9 L337.5 316.6 L337.9 339.7 L338.3 330.2 L338.7 342.7 L339.1 344.3 L339.5 339.1 L339.9 353.7 L340.3 352.7 L340.7 328.4 L341.0 339.1 L341.4 318.9 L341.8 350.2 L342.2 327.0 L342.6 339.5 L343.0 351.9 L343.4 330.8 L343.8 296.3 L344.2 338.1 L344.6 324.8 L345.0 351.0 L345.4 318.0 L345.8 332.2 L346.2 351.8 L346.5 345.0 L346.9 327.1 L347.3 336.6 L347.7 337.8 L348.1 327.0 L348.5 334.6 L348.9 348.4 L349.3 325.1 L349.7 360.1 L350.1 351.3 L350.5 344.6 L350.9 342.6 L351.3 326.0 L351.6 302.9 L352.0 344.3 L352.4 337.3 L352.8 321.4 L353.2 295.0 L353.6 329.7 L354.0 318.2 L354.4 308.8 L354.8 301.7 L355.2 308.9 L355.6 333.2 L356.0 297.5 L356.4 333.6 L356.8 321.8 L357.1 319.9 L357.5 319.9 L357.9 341.3 L358.3 324.3 L358.7 302.6 L359.1 308.1 L359.5 316.1 L359.9 327.2 L360.3 336.9 L360.7 356.2 L361.1 325.3 L361.5 364.0 L361.9 335.6 L362.3 329.2 L362.6 330.4 L363.0 360.3 L363.4 342.5 L363.8 332.8 L364.2 367.2 L364.6 336.8 L365.0 350.4 L365.4 338.0 L365.8 330.0 L366.2 333.3 L366.6 344.1 L367.0 322.6 L367.4 319.3 L367.7 311.4 L368.1 326.4 L368.5 314.9 L368.9 341.9 L369.3 314.2 L369.7 326.6 L370.1 341.9 L370.5 321.7 L370.9 314.5 L371.3 331.0 L371.7 341.0 L372.1 327.4 L372.5 339.2 L372.9 358.7 L373.2 327.9 L373.6 319.3 L374.0 333.2 L374.4 338.1 L374.8 335.9 L375.2 332.6 L375.6 353.7 L376.0 335.2 L376.4 334.9 L376.8 362.2 L377.2 349.8 L377.6 334.9 L378.0 336.0 L378.4 351.7 L378.7 332.8 L379.1 352.7 L379.5 338.4 L379.9 331.2 L380.3 346.1 L380.7 322.8 L381.1 358.9 L381.5 334.4 L381.9 317.0 L382.3 350.1 L382.7 351.8 L383.1 340.9 L383.5 338.2 L383.8 317.4 L384.2 323.0 L384.6 320.3 L385.0 329.4 L385.4 346.8 L385.8 325.2 L386.2 327.2 L386.6 357.6 L387.0 342.7 L387.4 327.5 L387.8 326.6 L388.2 339.7 L388.6 321.9 L389.0 331.2 L389.3 352.1 L389.7 352.3 L390.1 349.6 L390.5 322.2 L390.9 336.6 L391.3 319.3 L391.7 322.6 L392.1 335.4 L392.5 324.1 L392.9 315.6 L393.3 335.5 L393.7 329.4 L394.1 345.0 L394.5 350.3 L394.8 343.1 L395.2 339.2 L395.6 325.4 L396.0 314.9 L396.4 328.8 L396.8 333.9 L397.2 321.5 L397.6 324.2 L398.0 308.1 L398.4 306.2 L398.8 319.7 L399.2 326.6 L399.6 324.6 L399.9 324.2 L400.3 306.2 L400.7 313.5 L401.1 313.8 L401.5 328.9 L401.9 325.7 L402.3 329.8 L402.7 329.5 L403.1 332.4 L403.5 349.7 L403.9 336.2 L404.3 338.8 L404.7 340.6 L405.1 338.8 L405.4 325.4 L405.8 323.4 L406.2 316.2 L406.6 320.6 L407.0 343.2 L407.4 314.4 L407.8 318.8 L408.2 339.2 L408.6 323.4 L409.0 347.1 L409.4 354.7 L409.8 327.1 L410.2 375.6 L410.6 331.6 L410.9 340.8 L411.3 346.8 L411.7 352.3 L412.1 325.3 L412.5 344.5 L412.9 342.9 L413.3 342.8 L413.7 323.3 L414.1 328.1 L414.5 322.6 L414.9 352.4 L415.3 327.1 L415.7 332.2 L416.1 330.2 L416.4 311.7 L416.8 337.1 L417.2 336.3 L417.6 319.9 L418.0 328.6 L418.4 336.3 L418.8 324.1 L419.2 337.2 L419.6 331.6 L420.0 323.4 L420.4 331.8 L420.8 352.3 L421.2 346.7 L421.5 324.8 L421.9 335.5 L422.3 320.7 L422.7 333.2 L423.1 330.4 L423.5 335.8 L423.9 342.8 L424.3 322.9 L424.7 322.1 L425.1 324.7 L425.5 331.2 L425.9 311.7 L426.3 340.7 L426.7 347.8 L427.0 319.3 L427.4 335.7 L427.8 330.0 L428.2 326.1 L428.6 343.1 L429.0 341.3 L429.4 306.0 L429.8 323.7 L430.2 340.9 L430.6 323.8 L431.0 354.4 L431.4 345.3 L431.8 334.0 L432.2 341.7 L432.5 337.0 L432.9 336.3 L433.3 331.9 L433.7 331.0 L434.1 322.2 L434.5 325.7 L434.9 338.2 L435.3 344.8 L435.7 320.8 L436.1 310.6 L436.5 336.8 L436.9 323.1 L437.3 337.8 L437.6 312.0 L438.0 335.4 L438.4 352.4 L438.8 323.6 L439.2 323.4 L439.6 341.2 L440.0 331.5 L440.4 312.6 L440.8 319.6 L441.2 320.8 L441.6 340.9 L442.0 335.9 L442.4 327.9 L442.8 331.5 L443.1 342.2 L443.5 317.9 L443.9 314.4 L444.3 325.8 L444.7 331.7 L445.1 331.5 L445.5 336.9 L445.9 320.0 L446.3 326.5 L446.7 329.8 L447.1 326.4 L447.5 326.9 L447.9 361.3 L448.3 349.5 L448.6 338.9 L449.0 341.8 L449.4 337.2 L449.8 334.3 L450.2 335.6 L450.6 354.6 L451.0 341.0 L451.4 331.5 L451.8 338.8 L452.2 336.6 L452.6 333.1 L453.0 327.9 L453.4 352.1 L453.7 350.4 L454.1 342.4 L454.5 368.0 L454.9 344.1 L455.3 347.4 L455.7 351.6 L456.1 348.8 L456.5 328.9 L456.9 339.5 L457.3 337.1 L457.7 351.6 L458.1 329.6 L458.5 338.2 L458.9 336.5 L459.2 367.8 L459.6 346.1 L460.0 346.2 L460.4 350.6 L460.8 349.3 L461.2 344.7 L461.6 352.2 L462.0 331.4 L462.4 341.3 L462.8 352.5 L463.2 364.2 L463.6 346.7 L464.0 327.6 L464.4 328.2 L464.7 344.2 L465.1 346.4 L465.5 338.6 L465.9 350.3 L466.3 352.8 L466.7 350.1 L467.1 335.1 L467.5 332.5 L467.9 353.5 L468.3 355.2 L468.7 361.4 L469.1 329.9 L469.5 353.3 L469.8 349.2 L470.2 345.7 L470.6 352.7 L471.0 354.9 L471.4 365.0 L471.8 359.0 L472.2 348.7 L472.6 343.2 L473.0 357.6 L473.4 343.4 L473.8 368.1 L474.2 337.3 L474.6 348.5 L475.0 331.0 L475.3 348.5 L475.7 334.9 L476.1 349.0 L476.5 359.5 L476.9 358.5 L477.3 337.7 L477.7 358.3 L478.1 357.8 L478.5 359.9 L478.9 355.6 L479.3 348.0 L479.7 349.9 L480.1 358.7 L480.5 357.4 L480.8 360.2 L481.2 344.8 L481.6 340.4 L482.0 325.3 L482.4 359.3 L482.8 326.9 L483.2 337.2 L483.6 348.1 L484.0 341.4 L484.4 335.7 L484.8 345.7 L485.2 339.6 L485.6 343.1 L485.9 320.4 L486.3 332.1 L486.7 343.5 L487.1 343.8 L487.5 329.1 L487.9 351.0 L488.3 322.5 L488.7 348.9 L489.1 323.4 L489.5 346.0 L489.9 315.3 L490.3 329.1 L490.7 349.0 L491.1 324.3 L491.4 327.1 L491.8 337.9 L492.2 341.0 L492.6 325.6 L493.0 351.9 L493.4 355.1 L493.8 339.4 L494.2 374.0 L494.6 335.1 L495.0 348.0 L495.4 358.2 L495.8 354.0 L496.2 344.9 L496.6 332.7 L496.9 336.0 L497.3 338.6 L497.7 343.2 L498.1 336.0 L498.5 341.3 L498.9 328.9 L499.3 350.2 L499.7 337.8 L500.1 344.8 L500.5 318.3 L500.9 316.5 L501.3 322.9 L501.7 346.7 L502.0 330.5 L502.4 339.9 L502.8 344.1 L503.2 305.6 L503.6 340.9 L504.0 333.2 L504.4 338.6 L504.8 334.5 L505.2 316.2 L505.6 337.5 L506.0 330.2 L506.4 330.8 L506.8 322.6 L507.2 326.0 L507.5 336.5 L507.9 324.4 L508.3 323.9 L508.7 314.6 L509.1 339.0 L509.5 322.7 L509.9 334.2 L510.3 334.8 L510.7 323.5 L511.1 308.2 L511.5 325.9 L511.9 318.2 L512.3 305.5 L512.7 326.2 L513.0 321.2 L513.4 314.2 L513.8 316.0 L514.2 324.0 L514.6 326.0 L515.0 333.9 L515.4 333.6 L515.8 329.8 L516.2 331.3 L516.6 323.7 L517.0 308.7 L517.4 324.6 L517.8 335.7 L518.1 322.4 L518.5 320.1 L518.9 326.9 L519.3 326.0 L519.7 331.9 L520.1 334.6 L520.5 333.6 L520.9 334.5 L521.3 361.2 L521.7 343.8 L522.1 325.1 L522.5 341.7 L522.9 346.2 L523.3 339.3 L523.6 314.8 L524.0 326.0 L524.4 347.6 L524.8 329.1 L525.2 342.2 L525.6 345.3 L526.0 330.5 L526.4 344.8 L526.8 352.1 L527.2 362.9 L527.6 345.9 L528.0 355.9 L528.4 332.0 L528.8 339.9 L529.1 319.6 L529.5 341.0 L529.9 336.1 L530.3 337.4 L530.7 326.5 L531.1 326.7 L531.5 324.5 L531.9 333.0 L532.3 329.4 L532.7 343.5 L533.1 314.8 L533.5 345.2 L533.9 353.9 L534.2 327.8 L534.6 339.8 L535.0 344.3 L535.4 335.0 L535.8 340.2 L536.2 350.5 L536.6 339.6 L537.0 346.0 L537.4 343.7 L537.8 326.7 L538.2 348.2 L538.6 334.6 L539.0 343.6 L539.4 336.2 L539.7 339.4 L540.1 348.0 L540.5 340.9 L540.9 350.8 L541.3 320.9 L541.7 329.9 L542.1 334.9 L542.5 321.6 L542.9 310.9 L543.3 324.2 L543.7 339.6 L544.1 324.7 L544.5 319.7 L544.9 328.2 L545.2 347.9 L545.6 340.9 L546.0 334.8 L546.4 320.5 L546.8 316.6 L547.2 342.7 L547.6 323.7 L548.0 317.8 L548.4 316.5 L548.8 321.6 L549.2 332.4 L549.6 317.9 L550.0 327.4 L550.3 334.0 L550.7 339.0 L551.1 334.3 L551.5 331.0 L551.9 330.7 L552.3 315.1 L552.7 322.6 L553.1 339.0 L553.5 343.9 L553.9 322.6 L554.3 335.5 L554.7 329.0 L555.1 345.2 L555.5 341.6 L555.8 332.1 L556.2 344.7 L556.6 352.7 L557.0 329.7 L557.4 335.7 L557.8 336.6 L558.2 319.6 L558.6 342.0 L559.0 347.2 L559.4 348.3 L559.8 347.0 L560.2 332.2 L560.6 343.8 L561.0 321.7 L561.3 343.0 L561.7 341.7 L562.1 328.8 L562.5 340.5 L562.9 335.9 L563.3 333.1 L563.7 330.2 L564.1 345.9 L564.5 345.9 L564.9 327.1 L565.3 331.7 L565.7 320.6 L566.1 343.7 L566.5 360.0 L566.8 351.0 L567.2 342.3 L567.6 342.3 L568.0 347.7 L568.4 343.4 L568.8 327.9 L569.2 333.9 L569.6 325.9 L570.0 339.3 L570.4 337.4 L570.8 346.8 L571.2 337.8 L571.6 346.1 L571.9 326.2 L572.3 325.8 L572.7 336.6 L573.1 323.9 L573.5 328.9 L573.9 335.7 L574.3 336.9 L574.7 335.5 L575.1 322.1 L575.5 319.7 L575.9 302.5 L576.3 334.6 L576.7 303.1 L577.1 315.1 L577.4 333.1 L577.8 320.3 L578.2 310.2 L578.6 327.2 L579.0 335.0 L579.4 337.8 L579.8 331.2 L580.2 324.6 L580.6 314.2 L581.0 323.4 L581.4 320.8 L581.8 334.6 L582.2 330.7 L582.6 338.1 L582.9 330.6 L583.3 343.3 L583.7 328.6 L584.1 332.5 L584.5 316.8 L584.9 323.9 L585.3 309.8 L585.7 348.3 L586.1 319.2 L586.5 327.2 L586.9 324.8 L587.3 335.9 L587.7 330.5 L588.0 328.7 L588.4 358.1 L588.8 353.0 L589.2 328.7 L589.6 325.1 L590.0 352.7 L590.4 350.5 L590.8 337.6 L591.2 356.3 L591.6 333.2 L592.0 367.1 L592.4 339.5 L592.8 317.2 L593.2 347.2 L593.5 367.5 L593.9 356.9 L594.3 352.4 L594.7 342.4 L595.1 352.0 L595.5 369.5 L595.9 364.0 L596.3 358.6 L596.7 336.4 L597.1 366.5 L597.5 353.8 L597.9 341.4 L598.3 357.3 L598.7 348.8 L599.0 375.5 L599.4 358.5 L599.8 347.8 L600.2 404.0 L600.6 382.0 L601.0 375.0 L601.4 388.5 L601.8 352.7 L602.2 404.5 L602.6 337.8 L603.0 377.5 L603.4 342.7 L603.8 377.4 L604.1 387.7 L604.5 377.5 L604.9 371.4 L605.3 364.9 L605.7 382.0 L606.1 400.5 L606.5 383.2 L606.9 394.8 L607.3 388.5 L607.7 385.7 L608.1 364.1 L608.5 403.1 L608.9 393.7 L609.3 401.8 L609.6 356.3 L610.0 384.1 L610.4 405.9 L610.8 376.1 L611.2 380.5 L611.6 376.4 L612.0 383.9 L612.4 368.4 L612.8 362.3 L613.2 382.0 L613.6 379.5 L614.0 380.4 L614.4 358.5 L614.8 384.9 L615.1 367.0 L615.5 385.0 L615.9 413.1 L616.3 392.6 L616.7 400.0 L617.1 368.9 L617.5 371.0 L617.9 381.2 L618.3 369.8 L618.7 375.5 L619.1 355.2 L619.5 361.3 L619.9 403.8 L620.2 335.6 L620.6 355.1 L621.0 373.5 L621.4 348.3 L621.8 334.5 L622.2 362.3 L622.6 352.6 L623.0 351.6 L623.4 364.9 L623.8 390.5 L624.2 359.3 L624.6 378.4 L625.0 367.4 L625.4 377.5 L625.7 361.5 L626.1 376.4 L626.5 372.5 L626.9 370.6 L627.3 366.9 L627.7 365.2 L628.1 357.5 L628.5 342.6 L628.9 370.4 L629.3 360.0 L629.7 374.9 L630.1 337.2 L630.5 342.3 L630.9 357.4 L631.2 366.6 L631.6 370.8 L632.0 337.1 L632.4 340.9 L632.8 382.8 L633.2 363.9 L633.6 360.9 L634.0 338.5 L634.4 365.1 L634.8 361.7 L635.2 366.9 L635.6 362.6 L636.0 347.0 L636.3 338.2 L636.7 370.7 L637.1 352.8 L637.5 366.4 L637.9 344.8 L638.3 334.4 L638.7 354.2 L639.1 343.9 L639.5 342.5 L639.9 343.1 L640.3 328.6 L640.7 328.8 L641.1 339.4 L641.5 343.9 L641.8 342.4 L642.2 329.1 L642.6 314.1 L643.0 336.5 L643.4 333.2 L643.8 356.2 L644.2 334.5 L644.6 340.9 L645.0 349.3 L645.4 354.1 L645.8 324.5 L646.2 331.8 L646.6 328.1 L647.0 330.6 L647.3 334.5 L647.7 329.5 L648.1 297.1 L648.5 292.8 L648.9 309.5 L649.3 287.3 L649.7 309.8 L650.1 314.0 L650.5 325.8 L650.9 315.1 L651.3 292.2 L651.7 308.9 L652.1 296.6 L652.4 297.9 L652.8 311.3 L653.2 323.7 L653.6 299.4 L654.0 305.8 L654.4 308.4 L654.8 280.0 L655.2 305.3 L655.6 314.0 L656.0 293.0 L656.4 297.8 L656.8 311.0 L657.2 311.8 L657.6 324.0 L657.9 323.6 L658.3 298.9 L658.7 315.6 L659.1 318.3 L659.5 307.6 L659.9 307.6 L660.3 300.6 L660.7 318.0 L661.1 315.7 L661.5 312.7 L661.9 320.5 L662.3 308.7 L662.7 314.6 L663.1 316.0 L663.4 334.5 L663.8 315.2 L664.2 303.3 L664.6 319.2 L665.0 309.8 L665.4 305.9 L665.8 300.4 L666.2 309.8 L666.6 300.8 L667.0 310.4 L667.4 324.8 L667.8 309.1 L668.2 313.0 L668.5 307.0 L668.9 305.7 L669.3 291.3 L669.7 311.5 L670.1 329.4 L670.5 312.1 L670.9 314.6 L671.3 316.9 L671.7 315.2 L672.1 322.0 L672.5 315.1 L672.9 312.0 L673.3 323.8 L673.7 322.1 L674.0 316.4 L674.4 323.3 L674.8 300.2 L675.2 289.2 L675.6 313.9 L676.0 322.8 L676.4 336.3 L676.8 305.1 L677.2 316.8 L677.6 311.2 L678.0 291.8 L678.4 312.3 L678.8 307.2 L679.2 300.1 L679.5 294.7 L679.9 300.3 L680.3 306.9 L680.7 290.9 L681.1 311.0 L681.5 322.6 L681.9 314.0 L682.3 306.2 L682.7 303.8 L683.1 310.6 L683.5 307.8 L683.9 315.8 L684.3 311.6 L684.6 316.3 L685.0 317.2 L685.4 310.4 L685.8 325.9 L686.2 300.9 L686.6 315.3 L687.0 324.8 L687.4 317.9 L687.8 299.2 L688.2 312.1 L688.6 304.1 L689.0 318.7 L689.4 299.4 L689.8 325.2 L690.1 315.4 L690.5 317.4 L690.9 319.2 L691.3 310.7 L691.7 305.9 L692.1 323.5 L692.5 317.2 L692.9 318.3 L693.3 323.1 L693.7 305.4 L694.1 325.3 L694.5 310.5 L694.9 312.2 L695.3 328.9 L695.6 323.2 L696.0 321.3 L696.4 303.5 L696.8 331.0 L697.2 337.6 L697.6 304.6 L698.0 321.7 L698.4 319.8 L698.8 322.5 L699.2 325.8 L699.6 298.8 L700.0 327.1 L700.4 317.0 L700.7 316.6 L701.1 312.5 L701.5 315.4 L701.9 314.7 L702.3 329.3 L702.7 330.7 L703.1 320.6 L703.5 322.8 L703.9 330.6 L704.3 317.6 L704.7 314.7 L705.1 322.5 L705.5 311.7 L705.9 325.0 L706.2 320.3 L706.6 311.2 L707.0 323.2 L707.4 321.5 L707.8 321.2 L708.2 326.7 L708.6 304.1 L709.0 321.1 L709.4 320.4 L709.8 308.7 L710.2 310.2 L710.6 303.4 L711.0 318.3 L711.4 315.9 L711.7 315.0 L712.1 324.2 L712.5 327.3 L712.9 327.6 L713.3 323.2 L713.7 337.3 L714.1 323.3 L714.5 315.5 L714.9 343.4 L715.3 315.3 L715.7 306.7 L716.1 322.4 L716.5 309.8 L716.8 320.3 L717.2 318.6 L717.6 317.9 L718.0 330.6 L718.4 344.6 L718.8 313.5 L719.2 315.9 L719.6 325.8 L720.0 328.2 L720.4 326.0 L720.8 332.7 L721.2 344.4 L721.6 330.4 L722.0 315.4 L722.3 323.0 L722.7 336.0 L723.1 323.9 L723.5 336.7 L723.9 343.8 L724.3 326.4 L724.7 345.8 L725.1 322.9 L725.5 332.4 L725.9 340.5 L726.3 310.4 L726.7 333.1 L727.1 337.5 L727.5 326.2 L727.8 340.8 L728.2 335.3 L728.6 317.6 L729.0 327.3 L729.4 339.3 L729.8 351.3 L730.2 336.4 L730.6 342.6 L731.0 345.7 L731.4 328.6 L731.8 347.3 L732.2 347.7 L732.6 352.1 L733.0 333.2 L733.3 336.5 L733.7 334.4 L734.1 328.9 L734.5 319.0 L734.9 343.5 L735.3 351.3 L735.7 335.5 L736.1 349.2 L736.5 341.6 L736.9 349.0 L737.3 361.7 L737.7 353.8 L738.1 337.8 L738.4 347.2 L738.8 349.1 L739.2 358.4 L739.6 352.9 L740.0 349.5 L740.4 350.3 L740.8 363.3 L741.2 348.8 L741.6 351.0 L742.0 357.2 L742.4 348.6 L742.8 356.2 L743.2 358.3 L743.6 354.6 L743.9 340.0 L744.3 356.1 L744.7 354.4 L745.1 345.7 L745.5 342.1 L745.9 356.1 L746.3 343.6 L746.7 346.1 L747.1 351.6 L747.5 354.1 L747.9 360.4 L748.3 348.6 L748.7 344.2 L749.1 343.8 L749.4 348.0 L749.8 349.7 L750.2 356.6 L750.6 360.8 L751.0 353.0 L751.4 342.1 L751.8 342.3 L752.2 344.2 L752.6 357.0 L753.0 347.7 L753.4 360.8 L753.8 331.0 L754.2 361.0 L754.5 351.8 L754.9 357.2 L755.3 355.1 L755.7 346.5 L756.1 326.1 L756.5 346.7 L756.9 337.0 L757.3 335.1 L757.7 330.3 L758.1 330.2 L758.5 338.7 L758.9 339.5 L759.3 339.8 L759.7 337.6 L760.0 329.2 L760.4 349.9 L760.8 364.2 L761.2 334.3 L761.6 339.8 L762.0 356.8 L762.4 356.0 L762.8 351.0 L763.2 338.1 L763.6 343.1 L764.0 344.2 L764.4 339.8 L764.8 345.8 L765.2 344.5 L765.5 318.5 L765.9 353.1 L766.3 333.5 L766.7 339.1 L767.1 336.6 L767.5 344.7 L767.9 333.8 L768.3 333.9 L768.7 335.1 L769.1 343.5 L769.5 354.1 L769.9 331.4 L770.3 337.0 L770.6 331.4 L771.0 361.0 L771.4 331.4 L771.8 338.0 L772.2 348.9 L772.6 354.6 L773.0 334.5 L773.4 334.6 L773.8 348.4 L774.2 334.7 L774.6 344.5 L775.0 332.9 L775.4 341.8 L775.8 352.1 L776.1 339.2 L776.5 344.7 L776.9 341.2 L777.3 319.6 L777.7 331.7 L778.1 345.6 L778.5 333.7 L778.9 336.8 L779.3 332.1 L779.7 333.0 L780.1 342.1 L780.5 343.0 L780.9 347.6 L781.3 331.5 L781.6 345.9 L782.0 336.1 L782.4 331.8 L782.8 345.3 L783.2 324.3 L783.6 335.2 L784.0 333.2 L784.4 337.4 L784.8 331.7 L785.2 337.0 L785.6 348.1 L786.0 342.8 L786.4 332.9 L786.7 321.7 L787.1 343.2 L787.5 330.0 L787.9 344.5 L788.3 326.4 L788.7 329.6 L789.1 335.0 L789.5 334.2 L789.9 329.2 L790.3 325.1 L790.7 317.9 L791.1 322.2 L791.5 337.2 L791.9 312.1 L792.2 328.5 L792.6 322.1 L793.0 328.8 L793.4 331.9 L793.8 318.0 L794.2 331.6 L794.6 330.1 L795.0 334.3 L795.4 331.9 L795.8 316.6 L796.2 326.8 L796.6 330.0 L797.0 324.1 L797.4 331.8 L797.7 335.6 L798.1 315.8 L798.5 324.4 L798.9 348.8 L799.3 318.3 L799.7 326.1 L800.1 319.6 L800.5 329.6 L800.9 320.6 L801.3 329.3 L801.7 330.0 L802.1 314.5 L802.5 310.8 L802.8 322.6 L803.2 319.0 L803.6 315.8 L804.0 335.9 L804.4 319.2 L804.8 329.3 L805.2 337.1 L805.6 332.0 L806.0 324.1 L806.4 327.5 L806.8 333.2 L807.2 325.5 L807.6 332.4 L808.0 337.2 L808.3 322.0 L808.7 326.7 L809.1 328.4 L809.5 315.1 L809.9 328.9 L810.3 330.0 L810.7 322.7 L811.1 324.7 L811.5 325.3 L811.9 317.4 L812.3 329.4 L812.7 318.0 L813.1 326.5 L813.5 339.0 L813.8 322.2 L814.2 319.1 L814.6 328.0 L815.0 315.7 L815.4 335.6 L815.8 329.8 L816.2 334.8 L816.6 340.6 L817.0 330.2 L817.4 343.5 L817.8 343.6 L818.2 325.5 L818.6 333.3 L818.9 322.0 L819.3 332.2 L819.7 323.6 L820.1 337.4 L820.5 334.4 L820.9 339.5 L821.3 344.7 L821.7 344.3 L822.1 343.4 L822.5 332.4 L822.9 339.4 L823.3 339.8 L823.7 350.3 L824.1 340.6 L824.4 346.6 L824.8 334.8 L825.2 327.9 L825.6 335.0 L826.0 343.4 L826.4 344.5 L826.8 330.4 L827.2 345.1 L827.6 326.9 L828.0 344.2 L828.4 361.4 L828.8 342.2 L829.2 347.3 L829.6 334.3 L829.9 354.4 L830.3 344.5 L830.7 343.0 L831.1 332.3 L831.5 351.5 L831.9 341.9 L832.3 335.4 L832.7 338.8 L833.1 352.6 L833.5 354.1 L833.9 351.7 L834.3 345.9 L834.7 352.0 L835.0 342.1 L835.4 343.2 L835.8 348.3 L836.2 345.4 L836.6 341.9 L837.0 337.4 L837.4 333.1 L837.8 340.4 L838.2 334.1 L838.6 360.6 L839.0 336.7 L839.4 323.5 L839.8 350.7 L840.2 340.6 L840.5 333.2 L840.9 338.3 L841.3 340.1 L841.7 344.7 L842.1 338.4 L842.5 337.8 L842.9 338.1 L843.3 341.3 L843.7 335.9 L844.1 338.4 L844.5 331.3 L844.9 336.5 L845.3 344.3 L845.7 335.8 L846.0 326.1 L846.4 319.7 L846.8 337.7 L847.2 329.5 L847.6 333.8 L848.0 337.7 L848.4 332.2 L848.8 331.2 L849.2 330.7 L849.6 325.2 L850.0 325.5 L850.4 341.5 L850.8 336.0 L851.1 332.0 L851.5 329.6 L851.9 333.7 L852.3 334.4 L852.7 316.4 L853.1 333.6 L853.5 331.0 L853.9 332.8 L854.3 337.7 L854.7 326.7 L855.1 327.4 L855.5 328.8 L855.9 336.6 L856.3 332.3 L856.6 345.6 L857.0 334.3 L857.4 330.4 L857.8 337.7 L858.2 348.5 L858.6 328.5 L859.0 337.0 L859.4 345.3 L859.8 345.7 L860.2 329.7 L860.6 336.5 L861.0 352.1 L861.4 327.6 L861.8 345.1 L862.1 338.6 L862.5 330.3 L862.9 326.0 L863.3 334.1 L863.7 317.7 L864.1 338.2 L864.5 339.2 L864.9 334.5 L865.3 340.3 L865.7 329.5 L866.1 338.6 L866.5 348.1 L866.9 342.1 L867.2 339.8 L867.6 328.2 L868.0 330.6 L868.4 329.0 L868.8 338.7 L869.2 343.7 L869.6 328.8 L870.0 337.0 L870.4 338.8 L870.8 333.5 L871.2 347.9 L871.6 331.4 L872.0 352.8 L872.4 347.1 L872.7 339.6 L873.1 338.5 L873.5 347.7 L873.9 348.7 L874.3 341.2 L874.7 341.8 L875.1 333.2 L875.5 343.1 L875.9 343.2 L876.3 341.8 L876.7 348.6 L877.1 347.4 L877.5 345.5 L877.9 346.6 L878.2 344.9 L878.6 336.6 L879.0 343.0 L879.4 337.3 L879.8 340.3 L880.2 344.5 L880.6 349.9 L881.0 356.4 L881.4 347.7 L881.8 348.2 L882.2 342.7 L882.6 344.5 L883.0 334.9 L883.4 352.1 L883.7 349.7 L884.1 351.5 L884.5 338.2 L884.9 336.1 L885.3 341.4 L885.7 355.6 L886.1 354.5 L886.5 339.8 L886.9 358.9 L887.3 362.0 L887.7 364.7 L888.1 364.5 L888.5 345.4 L888.8 376.3 L889.2 361.3 L889.6 352.1 L890.0 372.0 L890.4 336.7 L890.8 368.8 L891.2 355.0 L891.6 362.1 L892.0 350.2 L892.4 401.6 L892.8 353.3 L893.2 373.8 L893.6 387.7 L894.0 345.2 L894.3 355.9 L894.7 345.4 L895.1 347.6 L895.5 367.1 L895.9 350.5 L896.3 357.6 L896.7 358.8 L897.1 358.2 L897.5 353.9 L897.9 353.8 L898.3 376.3 L898.7 351.2 L899.1 370.6 L899.5 363.5 L899.8 354.3 L900.2 340.0 L900.6 331.4 L901.0 342.1 L901.4 366.2 L901.8 367.0 L902.2 372.6 L902.6 361.8 L903.0 359.5 L903.4 348.8 L903.8 361.4 L904.2 358.9 L904.6 364.0 L904.9 361.6 L905.3 345.4 L905.7 350.2 L906.1 376.7 L906.5 338.7 L906.9 342.4 L907.3 344.8 L907.7 336.0 L908.1 343.2 L908.5 339.7 L908.9 350.0 L909.3 347.9 L909.7 357.6 L910.1 345.5 L910.4 328.5 L910.8 337.7 L911.2 332.8 L911.6 342.5 L912.0 343.4 L912.4 344.7 L912.8 340.2 L913.2 351.6 L913.6 343.1 L914.0 344.4 L914.4 338.5 L914.8 331.0 L915.2 335.4 L915.6 333.1 L915.9 323.0 L916.3 321.2 L916.7 324.1 L917.1 329.1 L917.5 326.6 L917.9 328.6 L918.3 333.8 L918.7 328.8 L919.1 324.0 L919.5 313.8 L919.9 334.9 L920.3 326.1 L920.7 328.7 L921.0 325.6 L921.4 330.2 L921.8 319.0 L922.2 328.2 L922.6 318.7 L923.0 325.3 L923.4 333.9 L923.8 327.7 L924.2 325.0 L924.6 323.5 L925.0 336.0 L925.4 326.1 L925.8 327.1 L926.2 316.5 L926.5 323.4 L926.9 319.4 L927.3 326.7 L927.7 311.3 L928.1 331.8 L928.5 321.6 L928.9 331.6 L929.3 329.1 L929.7 329.9 L930.1 331.8 L930.5 329.8 L930.9 327.2 L931.3 325.2 L931.7 345.0 L932.0 333.4 L932.4 311.3 L932.8 326.2 L933.2 324.2 L933.6 336.7 L934.0 325.1 L934.4 321.2 L934.8 329.6 L935.2 314.9 L935.6 333.1 L936.0 330.1 L936.4 308.3 L936.8 319.0 L937.1 346.4 L937.5 344.7 L937.9 315.3 L938.3 337.3 L938.7 329.5 L939.1 344.1 L939.5 332.1 L939.9 327.1 L940.3 320.2 L940.7 330.6 L941.1 338.0 L941.5 321.0 L941.9 318.6 L942.3 333.3 L942.6 319.2 L943.0 351.0 L943.4 312.3 L943.8 348.9 L944.2 324.3 L944.6 336.7 L945.0 337.9 L945.4 332.8 L945.8 339.0 L946.2 341.8 L946.6 326.3 L947.0 339.1 L947.4 334.1 L947.8 327.9 L948.1 333.3 L948.5 314.1 L948.9 329.6 L949.3 324.6 L949.7 332.4 L950.1 323.2 L950.5 315.8 L950.9 327.1 L951.3 326.2 L951.7 329.5 L952.1 323.5 L952.5 339.4 L952.9 336.2 L953.2 326.9 L953.6 329.5 L954.0 320.0 L954.4 326.0 L954.8 321.6 L955.2 336.6 L955.6 327.0 L956.0 334.4 L956.4 333.0 L956.8 342.9 L957.2 338.6 L957.6 327.0 L958.0 340.9 L958.4 329.2 L958.7 350.3 L959.1 335.4 L959.5 332.0 L959.9 327.2 L960.3 338.6 L960.7 333.8 L961.1 340.5 L961.5 337.8 L961.9 339.2 L962.3 349.4 L962.7 354.9 L963.1 337.9 L963.5 355.3 L963.9 335.1 L964.2 320.6 L964.6 333.2 L965.0 347.1 L965.4 332.9 L965.8 343.0 L966.2 341.6 L966.6 333.3 L967.0 347.9 L967.4 341.0 L967.8 329.7 L968.2 342.5 L968.6 338.5 L969.0 330.8 L969.3 348.9 L969.7 339.9 L970.1 332.7 L970.5 341.7 L970.9 335.8 L971.3 350.6 L971.7 333.7 L972.1 332.3 L972.5 323.0 L972.9 339.3 L973.3 339.0 L973.7 343.8 L974.1 350.9 L974.5 347.9 L974.8 340.8 L975.2 338.2 L975.6 343.7 L976.0 329.2 L976.4 327.3 L976.8 340.7 L977.2 343.3 L977.6 341.0 L978.0 333.2 L978.4 331.9 L978.8 346.3 L979.2 341.4 L979.6 328.6 L980.0 341.8 L980.3 341.1 L980.7 331.5 L981.1 335.8 L981.5 323.2 L981.9 337.6 L982.3 338.3 L982.7 332.6 L983.1 327.4 L983.5 329.0 L983.9 327.9 L984.3 336.7 L984.7 332.3 L985.1 335.9 L985.4 330.6 L985.8 340.8 L986.2 332.1 L986.6 324.2 L987.0 315.4 L987.4 321.2 L987.8 316.8 L988.2 346.8 L988.6 328.4 L989.0 339.9 L989.4 342.3 L989.8 337.0 L990.2 336.2 L990.6 342.9 L990.9 331.2 L991.3 350.1 L991.7 337.8 L992.1 347.3 L992.5 339.9 L992.9 336.0 L993.3 347.0 L993.7 339.2 L994.1 331.4 L994.5 334.3 L994.9 337.0 L995.3 348.0 L995.7 336.2 L996.1 351.7 L996.4 334.8 L996.8 330.3 L997.2 344.2 L997.6 333.7 L998.0 347.6 L998.4 352.0 L998.8 330.4 L999.2 343.0 L999.6 347.4 L1000.0 354.5 L1000.4 338.0 L1000.8 336.8 L1001.2 322.0 L1001.5 341.0 L1001.9 346.8 L1002.3 337.9 L1002.7 356.4 L1003.1 329.8 L1003.5 339.2 L1003.9 342.0 L1004.3 339.6 L1004.7 331.9 L1005.1 327.8 L1005.5 338.8 L1005.9 340.6 L1006.3 326.5 L1006.7 335.8 L1007.0 344.0 L1007.4 321.8 L1007.8 328.5 L1008.2 320.7 L1008.6 328.9 L1009.0 347.3 L1009.4 336.6 L1009.8 330.1 L1010.2 351.0 L1010.6 332.4 L1011.0 337.6 L1011.4 325.3 L1011.8 335.3 L1012.2 343.4 L1012.5 355.8 L1012.9 335.8 L1013.3 335.9 L1013.7 324.3 L1014.1 339.6 L1014.5 329.1 L1014.9 337.9 L1015.3 334.0 L1015.7 325.1 L1016.1 336.2 L1016.5 334.8 L1016.9 332.2 L1017.3 339.9 L1017.6 346.5 L1018.0 330.3 L1018.4 342.0 L1018.8 321.7 L1019.2 316.9 L1019.6 328.0 L1020.0 330.9 L1020.4 354.6 L1020.8 348.5 L1021.2 324.8 L1021.6 328.5 L1022.0 326.7 L1022.4 328.7 L1022.8 335.5 L1023.1 332.9 L1023.5 327.1 L1023.9 340.0 L1024.3 350.6 L1024.7 330.7 L1025.1 356.0 L1025.5 345.5 L1025.9 345.7 L1026.3 358.5 L1026.7 356.0 L1027.1 349.3 L1027.5 349.1 L1027.9 371.8 L1028.3 371.5 L1028.6 344.6 L1029.0 374.5 L1029.4 368.0 L1029.8 387.4 L1030.2 340.7 L1030.6 349.7 L1031.0 366.5 L1031.4 363.2 L1031.8 357.8 L1032.2 328.9 L1032.6 369.0 L1033.0 348.8 L1033.4 337.3 L1033.7 373.7 L1034.1 351.2 L1034.5 347.3 L1034.9 372.5 L1035.3 382.7 L1035.7 377.6 L1036.1 357.8 L1036.5 349.0 L1036.9 382.0 L1037.3 370.1 L1037.7 354.1 L1038.1 389.4 L1038.5 364.7 L1038.9 368.8 L1039.2 373.1 L1039.6 382.6 L1040.0 366.9 L1040.4 385.5 L1040.8 382.3 L1041.2 358.4 L1041.6 370.0 L1042.0 351.9 L1042.4 317.8 L1042.8 358.0 L1043.2 377.9 L1043.6 363.6 L1044.0 363.1 L1044.4 389.9 L1044.7 357.2 L1045.1 391.3 L1045.5 358.8 L1045.9 377.3 L1046.3 387.9 L1046.7 390.9 L1047.1 371.1 L1047.5 362.4 L1047.9 378.0 L1048.3 351.4 L1048.7 370.9 L1049.1 390.4 L1049.5 363.8 L1049.9 383.8 L1050.2 372.9 L1050.6 367.1 L1051.0 379.0 L1051.4 381.1 L1051.8 377.8 L1052.2 370.1 L1052.6 359.5 L1053.0 359.9 L1053.4 378.2 L1053.8 370.3 L1054.2 339.8 L1054.6 364.0 L1055.0 381.1 L1055.3 361.6 L1055.7 344.7 L1056.1 327.9 L1056.5 364.2 L1056.9 358.1 L1057.3 335.1 L1057.7 337.9 L1058.1 366.7 L1058.5 352.6 L1058.9 355.2 L1059.3 360.6 L1059.7 362.4 L1060.1 359.6 L1060.5 342.5 L1060.8 331.0 L1061.2 344.9 L1061.6 332.2 L1062.0 342.1 L1062.4 335.8 L1062.8 336.3 L1063.2 350.6 L1063.6 364.9 L1064.0 339.4 L1064.4 354.8 L1064.8 330.6 L1065.2 328.9 L1065.6 327.9 L1066.0 357.3 L1066.3 334.4 L1066.7 338.2 L1067.1 327.3 L1067.5 349.6 L1067.9 328.4 L1068.3 340.1 L1068.7 340.0 L1069.1 332.6 L1069.5 330.7 L1069.9 323.4 L1070.3 325.3 L1070.7 320.3 L1071.1 318.3 L1071.4 322.6 L1071.8 317.4 L1072.2 327.3 L1072.6 325.4 L1073.0 327.5 L1073.4 330.7 L1073.8 321.6 L1074.2 327.9 L1074.6 313.6 L1075.0 319.5 L1075.4 322.7 L1075.8 314.3 L1076.2 330.0 L1076.6 310.5 L1076.9 310.1 L1077.3 319.0 L1077.7 328.5 L1078.1 328.8 L1078.5 304.9 L1078.9 324.6 L1079.3 318.8 L1079.7 311.5 L1080.1 326.4 L1080.5 316.9 L1080.9 303.4 L1081.3 326.1 L1081.7 309.6 L1082.1 301.9 L1082.4 314.4 L1082.8 322.8 L1083.2 327.1 L1083.6 326.7 L1084.0 330.6 L1084.4 319.4 L1084.8 323.0 L1085.2 331.1 L1085.6 325.6 L1086.0 328.9 L1086.4 331.4 L1086.8 323.2 L1087.2 331.5 L1087.5 329.1 L1087.9 323.5 L1088.3 314.7 L1088.7 318.4 L1089.1 335.6 L1089.5 323.4 L1089.9 324.8 L1090.3 320.7 L1090.7 326.9 L1091.1 330.0 L1091.5 303.0 L1091.9 326.9 L1092.3 322.1 L1092.7 327.8 L1093.0 325.9 L1093.4 325.5 L1093.8 316.4 L1094.2 331.3 L1094.6 315.7 L1095.0 307.6 L1095.4 316.2 L1095.8 320.7 L1096.2 337.1 L1096.6 317.4 L1097.0 330.0 L1097.4 321.8 L1097.8 317.8 L1098.2 314.7 L1098.5 319.4 L1098.9 324.2 L1099.3 336.5 L1099.7 326.4 L1100.1 335.1 L1100.5 330.1 L1100.9 335.1 L1101.3 335.8 L1101.7 332.2 L1102.1 324.4 L1102.5 337.9 L1102.9 336.9 L1103.3 334.2 L1103.6 333.3 L1104.0 322.7 L1104.4 335.3 L1104.8 320.8 L1105.2 332.7 L1105.6 320.3 L1106.0 316.5 L1106.4 328.9 L1106.8 313.0 L1107.2 340.8 L1107.6 308.4 L1108.0 317.4 L1108.4 331.1 L1108.8 340.7 L1109.1 328.9 L1109.5 335.4 L1109.9 322.5 L1110.3 321.8 L1110.7 331.9 L1111.1 317.8 L1111.5 334.0 L1111.9 335.4 L1112.3 336.6 L1112.7 333.7 L1113.1 319.6 L1113.5 347.6 L1113.9 335.0 L1114.3 344.2 L1114.6 314.0 L1115.0 332.6 L1115.4 329.8 L1115.8 328.3 L1116.2 324.1 L1116.6 340.5 L1117.0 333.3 L1117.4 347.0 L1117.8 340.9 L1118.2 335.5 L1118.6 327.8 L1119.0 327.7 L1119.4 323.8 L1119.7 335.4 L1120.1 317.0 L1120.5 323.8 L1120.9 324.2 L1121.3 321.1 L1121.7 326.4 L1122.1 323.6 L1122.5 332.8 L1122.9 321.5 L1123.3 318.0 L1123.7 346.1 L1124.1 311.9 L1124.5 319.6 L1124.9 320.3 L1125.2 324.6 L1125.6 337.1 L1126.0 324.7 L1126.4 327.5 L1126.8 337.9 L1127.2 321.6 L1127.6 326.2 L1128.0 316.0 L1128.4 344.3 L1128.8 335.1 L1129.2 335.0 L1129.6 321.2 L1130.0 337.8 L1130.4 341.6 L1130.7 323.2 L1131.1 321.4 L1131.5 336.9 L1131.9 334.1 L1132.3 329.6 L1132.7 330.3 L1133.1 332.0 L1133.5 327.5 L1133.9 336.2 L1134.3 328.3 L1134.7 325.9 L1135.1 332.1 L1135.5 331.1 L1135.8 335.2 L1136.2 331.3 L1136.6 328.6 L1137.0 337.3 L1137.4 317.8 L1137.8 327.2 L1138.2 324.9 L1138.6 332.7 L1139.0 332.8 L1139.4 335.7 L1139.8 331.4 L1140.2 322.2 L1140.6 325.8 L1141.0 326.1 L1141.3 337.6 L1141.7 327.3 L1142.1 339.4 L1142.5 317.7 L1142.9 327.7 L1143.3 321.8 L1143.7 328.4 L1144.1 339.0 L1144.5 327.5 L1144.9 318.5 L1145.3 337.3 L1145.7 327.7 L1146.1 323.2 L1146.5 330.7 L1146.8 326.7 L1147.2 330.9 L1147.6 335.9 L1148.0 329.8 L1148.4 337.9 L1148.8 328.7 L1149.2 328.9 L1149.6 339.5 L1150.0 323.5 L1150.4 323.3 L1150.8 319.2 L1151.2 349.7 L1151.6 344.7 L1151.9 314.2 L1152.3 335.0 L1152.7 325.3 L1153.1 330.4 L1153.5 326.5 L1153.9 328.4 L1154.3 328.1 L1154.7 334.9 L1155.1 317.7 L1155.5 329.7 L1155.9 333.3 L1156.3 341.1 L1156.7 330.5 L1157.1 339.0 L1157.4 347.4 L1157.8 353.4 L1158.2 348.6 L1158.6 345.6 L1159.0 324.9 L1159.4 334.8 L1159.8 352.8 L1160.2 344.9 L1160.6 350.4 L1161.0 346.0 L1161.4 346.5 L1161.8 348.5 L1162.2 326.7 L1162.6 327.0 L1162.9 327.2 L1163.3 326.6 L1163.7 333.9 L1164.1 326.6 L1164.5 339.0 L1164.9 340.8 L1165.3 346.1 L1165.7 330.6 L1166.1 332.7 L1166.5 345.1 L1166.9 320.9 L1167.3 328.8 L1167.7 337.8 L1168.0 341.9 L1168.4 350.4 L1168.8 370.1 L1169.2 348.0 L1169.6 330.4 L1170.0 344.5 L1170.4 337.7 L1170.8 358.1 L1171.2 345.5 L1171.6 359.9 L1172.0 347.9 L1172.4 362.7 L1172.8 357.4 L1173.2 341.6 L1173.5 356.1 L1173.9 362.7 L1174.3 338.9 L1174.7 382.6 L1175.1 357.8 L1175.5 353.3 L1175.9 372.5 L1176.3 376.6 L1176.7 374.5 L1177.1 374.6 L1177.5 370.0 L1177.9 391.0 L1178.3 370.0 L1178.7 379.6 L1179.0 395.5 L1179.4 376.6 L1179.8 400.4 L1180.2 376.2 L1180.6 365.9 L1181.0 366.4 L1181.4 393.2 L1181.8 386.1 L1182.2 381.5 L1182.6 388.2 L1183.0 385.7 L1183.4 361.2 L1183.8 372.4 L1184.1 397.3 L1184.5 379.3 L1184.9 367.7 L1185.3 363.2 L1185.7 383.8 L1186.1 429.1 L1186.5 382.7 L1186.9 362.5 L1187.3 384.3 L1187.7 381.0 L1188.1 393.1 L1188.5 387.7 L1188.9 383.8 L1189.3 373.7 L1189.6 374.4 L1190.0 387.9 L1190.4 382.8 L1190.8 376.3 L1191.2 396.7 L1191.6 381.4 L1192.0 359.5 L1192.4 389.8 L1192.8 398.6 L1193.2 380.3 L1193.6 382.5 L1194.0 385.0 L1194.4 352.1 L1194.8 354.4 L1195.1 370.1 L1195.5 362.9 L1195.9 358.1 L1196.3 379.7 L1196.7 372.0 L1197.1 377.3 L1197.5 357.0 L1197.9 373.9 L1198.3 351.7 L1198.7 360.7 L1199.1 355.8 L1199.5 371.2 L1199.9 375.8 L1200.3 373.9 L1200.6 363.2 L1201.0 374.7 L1201.4 361.4 L1201.8 379.7 L1202.2 384.1 L1202.6 377.1 L1203.0 342.0 L1203.4 383.6 L1203.8 367.6 L1204.2 349.1 L1204.6 366.9 L1205.0 358.9 L1205.4 349.9 L1205.7 372.3 L1206.1 367.8 L1206.5 350.3 L1206.9 356.5 L1207.3 376.4 L1207.7 356.0 L1208.1 355.3 L1208.5 347.9 L1208.9 359.6 L1209.3 338.7 L1209.7 352.9 L1210.1 346.4 L1210.5 342.6 L1210.9 349.9 L1211.2 351.9 L1211.6 355.5 L1212.0 336.0 L1212.4 341.3 L1212.8 345.7 L1213.2 346.9 L1213.6 357.6 L1214.0 345.6 L1214.4 344.5 L1214.8 336.3 L1215.2 334.7 L1215.6 336.1 L1216.0 334.9 L1216.4 345.6 L1216.7 337.2 L1217.1 338.4 L1217.5 332.0 L1217.9 330.1 L1218.3 346.4 L1218.7 339.8 L1219.1 353.4 L1219.5 353.1 L1219.9 353.8 L1220.3 338.9 L1220.7 334.3 L1221.1 339.1 L1221.5 343.9 L1221.8 341.1 L1222.2 335.3 L1222.6 348.0 L1223.0 338.3 L1223.4 355.0 L1223.8 346.0 L1224.2 344.5 L1224.6 341.8 L1225.0 344.1 L1225.4 345.5 L1225.8 338.2 L1226.2 336.9 L1226.6 327.5 L1227.0 342.4 L1227.3 348.5 L1227.7 339.4 L1228.1 348.8 L1228.5 339.8 L1228.9 331.9 L1229.3 367.3 L1229.7 337.3 L1230.1 331.2 L1230.5 331.0 L1230.9 340.5 L1231.3 352.3 L1231.7 345.6 L1232.1 341.3 L1232.5 344.3 L1232.8 340.3 L1233.2 333.0 L1233.6 340.3 L1234.0 350.2 L1234.4 333.3 L1234.8 334.7 L1235.2 338.9 L1235.6 322.9 L1236.0 316.8 L1236.4 336.2 L1236.8 330.2 L1237.2 324.3 L1237.6 339.4 L1237.9 342.7 L1238.3 332.1 L1238.7 331.6 L1239.1 335.1 L1239.5 337.2 L1239.9 345.6 L1240.3 320.4 L1240.7 320.1 L1241.1 328.0 L1241.5 331.9 L1241.9 334.9 L1242.3 332.3 L1242.7 326.3 L1243.1 335.1 L1243.4 321.5 L1243.8 322.8 L1244.2 330.6 L1244.6 339.5 L1245.0 326.8 L1245.4 356.4 L1245.8 334.1 L1246.2 349.7 L1246.6 335.2 L1247.0 348.7 L1247.4 338.4 L1247.8 335.1 L1248.2 342.1 L1248.6 334.8 L1248.9 347.5 L1249.3 332.2 L1249.7 351.3 L1250.1 347.4 L1250.5 328.7 L1250.9 330.1 L1251.3 347.7 L1251.7 341.0 L1252.1 335.0 L1252.5 354.7 L1252.9 332.5 L1253.3 343.0 L1253.7 346.0 L1254.0 330.8 L1254.4 336.0 L1254.8 344.0 L1255.2 338.4 L1255.6 323.7 L1256.0 341.1 L1256.4 338.3 L1256.8 342.3 L1257.2 332.6 L1257.6 340.4 L1258.0 341.8 L1258.4 344.9 L1258.8 320.6 L1259.2 344.0 L1259.5 339.6 L1259.9 325.3 L1260.3 334.9 L1260.7 345.2 L1261.1 332.7 L1261.5 334.4 L1261.9 339.8 L1262.3 332.0 L1262.7 330.7 L1263.1 340.4 L1263.5 329.5 L1263.9 345.8 L1264.3 340.7 L1264.7 353.5 L1265.0 332.2 L1265.4 338.1 L1265.8 348.8 L1266.2 342.5 L1266.6 344.4 L1267.0 334.9 L1267.4 346.8 L1267.8 343.3 L1268.2 344.9 L1268.6 335.1 L1269.0 348.6 L1269.4 333.2 L1269.8 336.9 L1270.1 350.5 L1270.5 332.7 L1270.9 338.9 L1271.3 334.8 L1271.7 330.7 L1272.1 345.0 L1272.5 350.6 L1272.9 353.6 L1273.3 351.8 L1273.7 349.1 L1274.1 348.6 L1274.5 354.6 L1274.9 348.7 L1275.3 334.2 L1275.6 341.8 L1276.0 337.5 L1276.4 337.0 L1276.8 343.5 L1277.2 344.1 L1277.6 335.1 L1278.0 349.6 L1278.4 349.7 L1278.8 336.2 L1279.2 327.3 L1279.6 343.7 L1280.0 340.9 L1280.4 337.1 L1280.8 327.6 L1281.1 327.3 L1281.5 342.3 L1281.9 325.6 L1282.3 321.4 L1282.7 329.5 L1283.1 330.2 L1283.5 336.2 L1283.9 332.4 L1284.3 335.4 L1284.7 344.5 L1285.1 359.5 L1285.5 325.9 L1285.9 329.4 L1286.2 343.1 L1286.6 335.2 L1287.0 338.1 L1287.4 334.5 L1287.8 328.2 L1288.2 322.4 L1288.6 326.6 L1289.0 318.2 L1289.4 341.5 L1289.8 336.4 L1290.2 335.8 L1290.6 348.0 L1291.0 337.5 L1291.4 334.0 L1291.7 348.3 L1292.1 336.7 L1292.5 325.2 L1292.9 330.6 L1293.3 330.1 L1293.7 317.9 L1294.1 323.8 L1294.5 321.6 L1294.9 329.8 L1295.3 339.0 L1295.7 332.4 L1296.1 330.5 L1296.5 336.9 L1296.9 338.0 L1297.2 347.5 L1297.6 349.1 L1298.0 346.0 L1298.4 346.8 L1298.8 349.4 L1299.2 335.7 L1299.6 325.4 L1300.0 340.2 L1300.4 349.3 L1300.8 332.8 L1301.2 342.3 L1301.6 330.6 L1302.0 342.0 L1302.3 334.1 L1302.7 344.3 L1303.1 351.9 L1303.5 345.1 L1303.9 348.6 L1304.3 336.5 L1304.7 332.8 L1305.1 331.9 L1305.5 339.9 L1305.9 334.5 L1306.3 342.7 L1306.7 356.8 L1307.1 339.9 L1307.5 344.1 L1307.8 343.9 L1308.2 345.4 L1308.6 352.5 L1309.0 344.3 L1309.4 349.2 L1309.8 347.9 L1310.2 353.3 L1310.6 354.0 L1311.0 332.7 L1311.4 342.4 L1311.8 363.1 L1312.2 347.6 L1312.6 342.8 L1313.0 364.2 L1313.3 351.4 L1313.7 357.7 L1314.1 341.5 L1314.5 352.9 L1314.9 348.6 L1315.3 347.9 L1315.7 346.1 L1316.1 354.5 L1316.5 337.8 L1316.9 357.3 L1317.3 355.4 L1317.7 341.1 L1318.1 365.4 L1318.4 349.3 L1318.8 368.1 L1319.2 365.8 L1319.6 368.0 L1320.0 374.2 L1320.4 378.3 L1320.8 338.5 L1321.2 369.3 L1321.6 376.3 L1322.0 370.2 L1322.4 375.7 L1322.8 366.9 L1323.2 361.4 L1323.6 374.7 L1323.9 369.3 L1324.3 363.3 L1324.7 382.6 L1325.1 366.1 L1325.5 365.0 L1325.9 360.2 L1326.3 367.5 L1326.7 358.8 L1327.1 365.7 L1327.5 362.1 L1327.9 371.0 L1328.3 358.4 L1328.7 379.6 L1329.1 355.5 L1329.4 381.1 L1329.8 347.8 L1330.2 358.7 L1330.6 371.9 L1331.0 349.5 L1331.4 362.0 L1331.8 335.2 L1332.2 366.1 L1332.6 344.9 L1333.0 366.8 L1333.4 359.7 L1333.8 352.1 L1334.2 367.4 L1334.5 361.0 L1334.9 366.4 L1335.3 355.1 L1335.7 366.4 L1336.1 364.7 L1336.5 356.8 L1336.9 357.6 L1337.3 356.9 L1337.7 354.2 L1338.1 366.2 L1338.5 361.8 L1338.9 369.3 L1339.3 350.9 L1339.7 371.4 L1340.0 341.0 L1340.4 356.6 L1340.8 352.4 L1341.2 350.0 L1341.6 350.7 L1342.0 345.1 L1342.4 350.3 L1342.8 359.3 L1343.2 344.6 L1343.6 353.6 L1344.0 359.2 L1344.4 349.6 L1344.8 343.0 L1345.2 345.0 L1345.5 359.7 L1345.9 349.0 L1346.3 343.4 L1346.7 343.2 L1347.1 362.9 L1347.5 349.8 L1347.9 353.7 L1348.3 341.7 L1348.7 366.8 L1349.1 364.5 L1349.5 358.1 L1349.9 356.0 L1350.3 349.5 L1350.6 341.9 L1351.0 330.5 L1351.4 342.8 L1351.8 340.6 L1352.2 348.8 L1352.6 336.5 L1353.0 345.9 L1353.4 341.1 L1353.8 336.1 L1354.2 339.7 L1354.6 359.1 L1355.0 342.4 L1355.4 358.1 L1355.8 347.0 L1356.1 350.8 L1356.5 345.9 L1356.9 337.4 L1357.3 337.0 L1357.7 341.3 L1358.1 350.1 L1358.5 351.7 L1358.9 339.6 L1359.3 336.8 L1359.7 352.3 L1360.1 356.5 L1360.5 333.5 L1360.9 339.4 L1361.3 338.2 L1361.6 348.0 L1362.0 342.2 L1362.4 341.1 L1362.8 359.4 L1363.2 337.4 L1363.6 339.0 L1364.0 351.7 L1364.4 353.5 L1364.8 349.3 L1365.2 340.1 L1365.6 360.4 L1366.0 363.9 L1366.4 340.1 L1366.8 343.6 L1367.1 340.5 L1367.5 343.4 L1367.9 332.6 L1368.3 337.4 L1368.7 342.1 L1369.1 331.4 L1369.5 330.8 L1369.9 338.3 L1370.3 328.4 L1370.7 341.3 L1371.1 351.6 L1371.5 330.7 L1371.9 342.9 L1372.2 341.9 L1372.6 326.6 L1373.0 346.5 L1373.4 336.3 L1373.8 336.7 L1374.2 332.1 L1374.6 344.2 L1375.0 341.0 L1375.4 337.3 L1375.8 352.3 L1376.2 341.7 L1376.6 342.9 L1377.0 342.0 L1377.4 326.2 L1377.7 338.7 L1378.1 344.3 L1378.5 349.8 L1378.9 346.0 L1379.3 335.4 L1379.7 336.4 L1380.1 336.6 L1380.5 362.0 L1380.9 346.9 L1381.3 327.3 L1381.7 354.9 L1382.1 348.8 L1382.5 354.1 L1382.9 361.0 L1383.2 357.4 L1383.6 336.7 L1384.0 340.4 L1384.4 359.4 L1384.8 329.9 L1385.2 352.6 L1385.6 350.7 L1386.0 351.5 L1386.4 349.6 L1386.8 344.4 L1387.2 347.3 L1387.6 349.2 L1388.0 332.2 L1388.3 363.0 L1388.7 369.4 L1389.1 333.9 L1389.5 367.3 L1389.9 355.0 L1390.3 350.0 L1390.7 367.5 L1391.1 351.3 L1391.5 335.0 L1391.9 330.9 L1392.3 349.2 L1392.7 348.9 L1393.1 340.3 L1393.5 341.6 L1393.8 348.8 L1394.2 350.1 L1394.6 354.5 L1395.0 365.7 L1395.4 352.8 L1395.8 331.9 L1396.2 332.8 L1396.6 328.7 L1397.0 344.6 L1397.4 337.0 L1397.8 343.8 L1398.2 346.9 L1398.6 354.4 L1399.0 363.6 L1399.3 358.4 L1399.7 361.2 L1400.1 350.0 L1400.5 341.9 L1400.9 347.3 L1401.3 334.5 L1401.7 336.9 L1402.1 347.7 L1402.5 343.8 L1402.9 329.5 L1403.3 340.3 L1403.7 343.1 L1404.1 349.9 L1404.4 343.7 L1404.8 346.5 L1405.2 350.0 L1405.6 360.0 L1406.0 347.5 L1406.4 353.1 L1406.8 358.6 L1407.2 346.4 L1407.6 344.4 L1408.0 338.1 L1408.4 344.5 L1408.8 339.5 L1409.2 333.3 L1409.6 323.8 L1409.9 346.8 L1410.3 338.9 L1410.7 337.0 L1411.1 354.0 L1411.5 347.1 L1411.9 353.6 L1412.3 339.9 L1412.7 337.5 L1413.1 338.3 L1413.5 342.2 L1413.9 359.2 L1414.3 353.9 L1414.7 344.7 L1415.1 346.7 L1415.4 356.3 L1415.8 346.6 L1416.2 354.1 L1416.6 341.8 L1417.0 351.5 L1417.4 336.2 L1417.8 350.4 L1418.2 340.0 L1418.6 353.2 L1419.0 350.9 L1419.4 348.4 L1419.8 346.6 L1420.2 332.4 L1420.5 347.1 L1420.9 340.6 L1421.3 344.1 L1421.7 349.7 L1422.1 339.3 L1422.5 347.9 L1422.9 342.7 L1423.3 334.2 L1423.7 346.3 L1424.1 348.1 L1424.5 351.6 L1424.9 359.0 L1425.3 343.8 L1425.7 363.1 L1426.0 362.2 L1426.4 343.0 L1426.8 338.5 L1427.2 357.8 L1427.6 336.0 L1428.0 343.0 L1428.4 350.0 L1428.8 343.2 L1429.2 345.9 L1429.6 338.0 L1430.0 343.1 L1430.4 336.9 L1430.8 349.3 L1431.2 348.0 L1431.5 359.0 L1431.9 347.8 L1432.3 349.9 L1432.7 340.6 L1433.1 348.6 L1433.5 338.0 L1433.9 344.5 L1434.3 350.1 L1434.7 338.8 L1435.1 341.8 L1435.5 337.8 L1435.9 353.1 L1436.3 347.3 L1436.6 341.5 L1437.0 350.4 L1437.4 361.6 L1437.8 348.8 L1438.2 356.4 L1438.6 344.5 L1439.0 338.4 L1439.4 353.9 L1439.8 344.9 L1440.2 350.4 L1440.6 347.3 L1441.0 351.5 L1441.4 353.6 L1441.8 358.7 L1442.1 360.1 L1442.5 354.8 L1442.9 360.4 L1443.3 359.0 L1443.7 362.6 L1444.1 359.9 L1444.5 359.7 L1444.9 354.5 L1445.3 353.1 L1445.7 342.6 L1446.1 372.1 L1446.5 346.9 L1446.9 353.0 L1447.3 366.0 L1447.6 353.0 L1448.0 359.7 L1448.4 361.9 L1448.8 374.8 L1449.2 347.7 L1449.6 361.5 L1450.0 352.4 L1450.4 375.8 L1450.8 348.1 L1451.2 339.5 L1451.6 357.6 L1452.0 353.6 L1452.4 354.7 L1452.7 356.3 L1453.1 351.2 L1453.5 339.7 L1453.9 339.3 L1454.3 355.6 L1454.7 349.7 L1455.1 359.1 L1455.5 357.1 L1455.9 355.0 L1456.3 356.5 L1456.7 358.5 L1457.1 356.2 L1457.5 336.1 L1457.9 346.0 L1458.2 334.2 L1458.6 359.0 L1459.0 348.6 L1459.4 340.5 L1459.8 368.5 L1460.2 361.8 L1460.6 347.3 L1461.0 371.1 L1461.4 367.6 L1461.8 371.4 L1462.2 364.1 L1462.6 375.2 L1463.0 380.0 L1463.4 368.8 L1463.7 369.5 L1464.1 358.4 L1464.5 363.9 L1464.9 340.0 L1465.3 368.1 L1465.7 352.4 L1466.1 365.7 L1466.5 353.2 L1466.9 348.8 L1467.3 367.3 L1467.7 367.9 L1468.1 357.9 L1468.5 342.7 L1468.8 359.4 L1469.2 354.2 L1469.6 346.0 L1470.0 359.7 L1470.4 369.9 L1470.8 380.5 L1471.2 363.1 L1471.6 362.3 L1472.0 361.0 L1472.4 358.0 L1472.8 359.7 L1473.2 352.0 L1473.6 371.5 L1474.0 365.0 L1474.3 346.8 L1474.7 363.6 L1475.1 356.5 L1475.5 367.1 L1475.9 354.3 L1476.3 358.8 L1476.7 359.3 L1477.1 346.4 L1477.5 362.2 L1477.9 353.8 L1478.3 365.8 L1478.7 361.5 L1479.1 368.9 L1479.5 349.2 L1479.8 352.7 L1480.2 355.1 L1480.6 354.9 L1481.0 327.1 L1481.4 340.9 L1481.8 344.0 L1482.2 340.4 L1482.6 345.2 L1483.0 352.0 L1483.4 340.9 L1483.8 348.6 L1484.2 351.1 L1484.6 338.8 L1484.9 355.6 L1485.3 344.5 L1485.7 341.2 L1486.1 352.4 L1486.5 340.1 L1486.9 353.5 L1487.3 336.5 L1487.7 358.2 L1488.1 345.2 L1488.5 330.6 L1488.9 343.5 L1489.3 350.5 L1489.7 345.6 L1490.1 362.7 L1490.4 332.6 L1490.8 343.5 L1491.2 333.5 L1491.6 354.2 L1492.0 352.4 L1492.4 341.4 L1492.8 337.4 L1493.2 343.0 L1493.6 334.5 L1494.0 331.1 L1494.4 354.0 L1494.8 346.2 L1495.2 340.3 L1495.6 329.5 L1495.9 350.8 L1496.3 348.1 L1496.7 334.6 L1497.1 346.3 L1497.5 349.9 L1497.9 359.7 L1498.3 362.5 L1498.7 352.6 L1499.1 335.9 L1499.5 359.3 L1499.9 355.9 L1500.3 348.0 L1500.7 352.7 L1501.0 350.9 L1501.4 336.1 L1501.8 349.1 L1502.2 343.6 L1502.6 363.2 L1503.0 342.0 L1503.4 357.9 L1503.8 344.9 L1504.2 347.0 L1504.6 347.8 L1505.0 353.4 L1505.4 346.7 L1505.8 350.0 L1506.2 352.2 L1506.5 356.0 L1506.9 362.0 L1507.3 354.7 L1507.7 358.2 L1508.1 371.2 L1508.5 346.8 L1508.9 351.1 L1509.3 358.9 L1509.7 357.2 L1510.1 350.3 L1510.5 342.9 L1510.9 357.7 L1511.3 340.0 L1511.7 354.6 L1512.0 356.4 L1512.4 342.5 L1512.8 358.5 L1513.2 340.1 L1513.6 347.4 L1514.0 358.4 L1514.4 363.5 L1514.8 358.3 L1515.2 364.4 L1515.6 360.4 L1516.0 361.7 L1516.4 361.8 L1516.8 341.4 L1517.2 357.9 L1517.5 351.5 L1517.9 349.5 L1518.3 343.2 L1518.7 338.6 L1519.1 364.6 L1519.5 333.3 L1519.9 341.8 L1520.3 343.8 L1520.7 343.4 L1521.1 343.6 L1521.5 372.3 L1521.9 349.6 L1522.3 361.5 L1522.6 350.0 L1523.0 333.8 L1523.4 367.2 L1523.8 344.3 L1524.2 338.8 L1524.6 354.5 L1525.0 355.0 L1525.4 359.1 L1525.8 358.3 L1526.2 353.5 L1526.6 352.5 L1527.0 363.3 L1527.4 356.7 L1527.8 340.8 L1528.1 343.4 L1528.5 353.4 L1528.9 356.5 L1529.3 345.2 L1529.7 346.6 L1530.1 349.1 L1530.5 366.9 L1530.9 358.4 L1531.3 357.0 L1531.7 350.9 L1532.1 338.6 L1532.5 351.1 L1532.9 364.1 L1533.3 339.6 L1533.6 353.4 L1534.0 350.3 L1534.4 338.5 L1534.8 357.1 L1535.2 358.6 L1535.6 334.5 L1536.0 335.4 L1536.4 353.2 L1536.8 336.1 L1537.2 333.1 L1537.6 338.7 L1538.0 328.8 L1538.4 338.2 L1538.7 337.3 L1539.1 352.0 L1539.5 349.0 L1539.9 349.7 L1540.3 352.6 L1540.7 351.6 L1541.1 339.7 L1541.5 354.7 L1541.9 341.1 L1542.3 340.8 L1542.7 336.1 L1543.1 337.9 L1543.5 343.6 L1543.9 351.2 L1544.2 332.9 L1544.6 339.1 L1545.0 337.2 L1545.4 349.2 L1545.8 352.0 L1546.2 342.9 L1546.6 345.7 L1547.0 351.8 L1547.4 340.7 L1547.8 346.0 L1548.2 328.9 L1548.6 341.0 L1549.0 343.4 L1549.4 343.9 L1549.7 337.2 L1550.1 346.2 L1550.5 346.2 L1550.9 349.0 L1551.3 356.1 L1551.7 351.5 L1552.1 341.4 L1552.5 353.7 L1552.9 351.3 L1553.3 349.8 L1553.7 353.1 L1554.1 354.4 L1554.5 355.4 L1554.8 354.1 L1555.2 344.3 L1555.6 364.6 L1556.0 347.9 L1556.4 354.1 L1556.8 353.3 L1557.2 357.4 L1557.6 354.2 L1558.0 357.6 L1558.4 345.4 L1558.8 346.2 L1559.2 354.0 L1559.6 346.6 L1560.0 354.9 L1560.3 349.4 L1560.7 346.5 L1561.1 363.0 L1561.5 354.9 L1561.9 359.6 L1562.3 349.7 L1562.7 344.5 L1563.1 360.7 L1563.5 347.8 L1563.9 337.7 L1564.3 334.8 L1564.7 331.7 L1565.1 346.4 L1565.5 335.3 L1565.8 348.6 L1566.2 332.8 L1566.6 328.6 L1567.0 331.1 L1567.4 330.3 L1567.8 338.8 L1568.2 351.6 L1568.6 351.2 L1569.0 334.5 L1569.4 336.5 L1569.8 348.8 L1570.2 340.1 L1570.6 353.7 L1570.9 345.9 L1571.3 349.7 L1571.7 336.7 L1572.1 342.9 L1572.5 341.1 L1572.9 346.5 L1573.3 345.0 L1573.7 342.5 L1574.1 342.2 L1574.5 359.1 L1574.9 349.2 L1575.3 329.8 L1575.7 337.2 L1576.1 339.0 L1576.4 340.6 L1576.8 329.2 L1577.2 347.3 L1577.6 341.5 L1578.0 348.1 L1578.4 332.7 L1578.8 326.7 L1579.2 347.9 L1579.6 337.2 L1580.0 336.4 L1580.4 346.3 L1580.8 335.5 L1581.2 336.0 L1581.6 346.7 L1581.9 330.7 L1582.3 342.2 L1582.7 348.8 L1583.1 348.4 L1583.5 351.6 L1583.9 338.9 L1584.3 350.7 L1584.7 350.3 L1585.1 342.8 L1585.5 343.4 L1585.9 346.3 L1586.3 352.2 L1586.7 343.4 L1587.0 350.7 L1587.4 354.2 L1587.8 354.4 L1588.2 353.2 L1588.6 347.5 L1589.0 363.2 L1589.4 335.1 L1589.8 340.6 L1590.2 346.0 L1590.6 361.7 L1591.0 343.3 L1591.4 351.6 L1591.8 341.0 L1592.2 350.6 L1592.5 352.3 L1592.9 348.4 L1593.3 364.9 L1593.7 359.6 L1594.1 355.6 L1594.5 356.9 L1594.9 340.9 L1595.3 355.6 L1595.7 353.5 L1596.1 369.6 L1596.5 367.1 L1596.9 362.6 L1597.3 377.0 L1597.7 353.2 L1598.0 354.2 L1598.4 360.1 L1598.8 334.4 L1599.2 363.7 L1599.6 343.1 L1600.0 360.6 L1600.4 363.1 L1600.8 352.1 L1601.2 354.1 L1601.6 361.7 L1602.0 364.8 L1602.4 361.8 L1602.8 372.9 L1603.1 373.6 L1603.5 367.3 L1603.9 357.4 L1604.3 356.5 L1604.7 346.8 L1605.1 344.7 L1605.5 352.8 L1605.9 352.5 L1606.3 360.3 L1606.7 360.5 L1607.1 349.6 L1607.5 374.6 L1607.9 354.4 L1608.3 354.1 L1608.6 368.5 L1609.0 362.9 L1609.4 364.7 L1609.8 358.3 L1610.2 368.1 L1610.6 363.5 L1611.0 356.0 L1611.4 355.4 L1611.8 373.3 L1612.2 363.8 L1612.6 365.3 L1613.0 370.4 L1613.4 359.8 L1613.8 353.7 L1614.1 365.0 L1614.5 355.8 L1614.9 367.9 L1615.3 363.3 L1615.7 364.0 L1616.1 365.0 L1616.5 355.1 L1616.9 371.1 L1617.3 366.8 L1617.7 364.9 L1618.1 367.3 L1618.5 351.5 L1618.9 334.9 L1619.2 355.9 L1619.6 368.3 L1620.0 351.2 L1620.4 344.7 L1620.8 349.6 L1621.2 364.0 L1621.6 348.1 L1622.0 355.3 L1622.4 349.2 L1622.8 348.9 L1623.2 342.7 L1623.6 347.3 L1624.0 355.0 L1624.4 358.3 L1624.7 351.8 L1625.1 365.4 L1625.5 355.0 L1625.9 359.4 L1626.3 367.8 L1626.7 375.1 L1627.1 356.1 L1627.5 362.6 L1627.9 350.2 L1628.3 349.1 L1628.7 357.2 L1629.1 345.7 L1629.5 364.1 L1629.9 358.9 L1630.2 362.2 L1630.6 355.7 L1631.0 363.3 L1631.4 366.6 L1631.8 344.1 L1632.2 360.6 L1632.6 358.1 L1633.0 357.6 L1633.4 365.3 L1633.8 360.8 L1634.2 337.5 L1634.6 365.8 L1635.0 354.4 L1635.3 354.4 L1635.7 366.3 L1636.1 363.5 L1636.5 359.5 L1636.9 360.4 L1637.3 359.0 L1637.7 352.4 L1638.1 363.8 L1638.5 357.5 L1638.9 356.4 L1639.3 365.5 L1639.7 365.5 L1640.1 356.4 L1640.5 361.0 L1640.8 352.2 L1641.2 356.4 L1641.6 357.4 L1642.0 341.5 L1642.4 359.7 L1642.8 348.1 L1643.2 345.8 L1643.6 358.8 L1644.0 365.5 L1644.4 358.2 L1644.8 354.2 L1645.2 376.9 L1645.6 361.1 L1646.0 357.5 L1646.3 362.7 L1646.7 368.6 L1647.1 362.3 L1647.5 382.1 L1647.9 377.6 L1648.3 362.4 L1648.7 359.8 L1649.1 357.8 L1649.5 369.1 L1649.9 350.7 L1650.3 352.4 L1650.7 338.0 L1651.1 348.0 L1651.4 347.7 L1651.8 354.5 L1652.2 358.8 L1652.6 364.1 L1653.0 362.3 L1653.4 343.1 L1653.8 344.8 L1654.2 359.2 L1654.6 348.5 L1655.0 358.6 L1655.4 357.6 L1655.8 357.4 L1656.2 359.6 L1656.6 355.1 L1656.9 368.9 L1657.3 354.1 L1657.7 341.7 L1658.1 349.2 L1658.5 354.6 L1658.9 345.3 L1659.3 351.7 L1659.7 341.4 L1660.1 342.9 L1660.5 361.7 L1660.9 356.8 L1661.3 345.5 L1661.7 355.5 L1662.1 372.0 L1662.4 347.4 L1662.8 356.2 L1663.2 355.2 L1663.6 343.0 L1664.0 352.0 L1664.4 359.6 L1664.8 344.2 L1665.2 347.3 L1665.6 357.4 L1666.0 362.3 L1666.4 351.4 L1666.8 350.6 L1667.2 366.8 L1667.5 356.3 L1667.9 349.6 L1668.3 354.1 L1668.7 358.1 L1669.1 351.0 L1669.5 355.9 L1669.9 349.8 L1670.3 336.7 L1670.7 347.8 L1671.1 336.0 L1671.5 344.1 L1671.9 346.2 L1672.3 348.6 L1672.7 359.1 L1673.0 367.2 L1673.4 366.5 L1673.8 352.1 L1674.2 363.7 L1674.6 342.1 L1675.0 366.6 L1675.4 356.9"/>
</g>
<line x1="241.5" x2="1675.6" y1="705" y2="705" stroke="#6a6a6a" stroke-width="1.3"/>
<text x="224.5" y="711.7" text-anchor="end" class="ax">0</text>
<text x="224.5" y="676.4" text-anchor="end" class="ax">2</text>
<text x="224.5" y="641.2" text-anchor="end" class="ax">4</text>
<text x="224.5" y="605.9" text-anchor="end" class="ax">6</text>
<text x="224.5" y="570.7" text-anchor="end" class="ax">8</text>
<text x="224.5" y="535.4" text-anchor="end" class="ax">10</text>
<text x="224.5" y="500.1" text-anchor="end" class="ax">12</text>
<text x="224.5" y="464.9" text-anchor="end" class="ax">14</text>
<text x="224.5" y="429.6" text-anchor="end" class="ax">16</text>
<text x="224.5" y="394.4" text-anchor="end" class="ax">18</text>
<text x="224.5" y="359.1" text-anchor="end" class="ax">20</text>
<text x="224.5" y="323.8" text-anchor="end" class="ax">22</text>
<text x="224.5" y="288.6" text-anchor="end" class="ax">24</text>
<text x="224.5" y="253.3" text-anchor="end" class="ax">26</text>
<text x="224.5" y="218.1" text-anchor="end" class="ax">28</text>
<text x="224.5" y="182.8" text-anchor="end" class="ax">30</text>
<text x="224.5" y="147.5" text-anchor="end" class="ax">32</text>
<text x="224.5" y="112.3" text-anchor="end" class="ax">34</text>
<text x="224.5" y="77.0" text-anchor="end" class="ax">36</text>
<text x="264.7" y="729.5" text-anchor="middle" class="ax">M</text>
<text x="288.6" y="729.5" text-anchor="middle" class="ax">M</text>
<text x="312.6" y="729.5" text-anchor="middle" class="ax">J</text>
<text x="336.9" y="729.5" text-anchor="middle" class="ax">S</text>
<text x="384.8" y="729.5" text-anchor="middle" class="ax">2014</text>
<text x="432.0" y="729.5" text-anchor="middle" class="ax">M</text>
<text x="455.9" y="729.5" text-anchor="middle" class="ax">J</text>
<text x="480.3" y="729.5" text-anchor="middle" class="ax">S</text>
<text x="528.2" y="729.5" text-anchor="middle" class="ax">2015</text>
<text x="575.3" y="729.5" text-anchor="middle" class="ax">M</text>
<text x="599.2" y="729.5" text-anchor="middle" class="ax">J</text>
<text x="623.6" y="729.5" text-anchor="middle" class="ax">S</text>
<text x="671.5" y="729.5" text-anchor="middle" class="ax">2016</text>
<text x="719.0" y="729.5" text-anchor="middle" class="ax">M</text>
<text x="743.0" y="729.5" text-anchor="middle" class="ax">J</text>
<text x="767.3" y="729.5" text-anchor="middle" class="ax">S</text>
<text x="815.2" y="729.5" text-anchor="middle" class="ax">2017</text>
<text x="862.3" y="729.5" text-anchor="middle" class="ax">M</text>
<text x="886.3" y="729.5" text-anchor="middle" class="ax">J</text>
<text x="910.6" y="729.5" text-anchor="middle" class="ax">S</text>
<text x="958.5" y="729.5" text-anchor="middle" class="ax">2018</text>
<text x="1005.7" y="729.5" text-anchor="middle" class="ax">M</text>
<text x="1029.6" y="729.5" text-anchor="middle" class="ax">J</text>
<text x="1054.0" y="729.5" text-anchor="middle" class="ax">S</text>
<text x="1101.9" y="729.5" text-anchor="middle" class="ax">2019</text>
<text x="1149.0" y="729.5" text-anchor="middle" class="ax">M</text>
<text x="1173.0" y="729.5" text-anchor="middle" class="ax">J</text>
<text x="1197.3" y="729.5" text-anchor="middle" class="ax">S</text>
<text x="1245.2" y="729.5" text-anchor="middle" class="ax">2020</text>
<text x="1292.7" y="729.5" text-anchor="middle" class="ax">M</text>
<text x="1316.7" y="729.5" text-anchor="middle" class="ax">J</text>
<text x="1341.0" y="729.5" text-anchor="middle" class="ax">S</text>
<text x="1388.9" y="729.5" text-anchor="middle" class="ax">2021</text>
<text x="1436.1" y="729.5" text-anchor="middle" class="ax">M</text>
<text x="1460.0" y="729.5" text-anchor="middle" class="ax">J</text>
<text x="1484.4" y="729.5" text-anchor="middle" class="ax">S</text>
<text x="1532.3" y="729.5" text-anchor="middle" class="ax">2022</text>
<text x="1579.4" y="729.5" text-anchor="middle" class="ax">M</text>
<text x="1603.3" y="729.5" text-anchor="middle" class="ax">J</text>
<text x="1627.7" y="729.5" text-anchor="middle" class="ax">S</text>
<text x="1651.6" y="729.5" text-anchor="middle" class="ax">N</text>
<text x="241.5" y="40.9" class="tt">Daily Air Temperature</text>
<text transform="translate(53,388) rotate(-90)" text-anchor="middle" class="at">degC</text>
<text x="958.5" y="822.8" text-anchor="middle" class="at">Date</text>
<g stroke-width="1.3">
<line x1="1692.7" x2="1726.4" y1="78.7" y2="78.7" stroke="#d7191c" opacity="0.5"/>
<line x1="1692.7" x2="1726.4" y1="105" y2="105" stroke="#fdae61" opacity="0.5"/>
<line x1="1692.7" x2="1726.4" y1="131.4" y2="131.4" stroke="#abd9e9" opacity="0.5"/>
<line x1="1692.7" x2="1726.4" y1="157.9" y2="157.9" stroke="#2c7bb6" opacity="0.5"/>
</g>
<text x="1733.5" y="84.7" class="lg">Tmax</text>
<text x="1733.5" y="111.2" class="lg">Tmean</text>
<text x="1733.5" y="137.6" class="lg">Tmedian</text>
<text x="1733.5" y="164.1" class="lg">Tmin</text>
</g>
<text x="140.8" y="927" class="cap" textLength="1569" lengthAdjust="spacingAndGlyphs">Figure 5. 10-years daily time series of Air Temperature at IPB Dramaga Campus in Bogor, Indonesia, 2013-2022</text>
</svg>
</body></html>
